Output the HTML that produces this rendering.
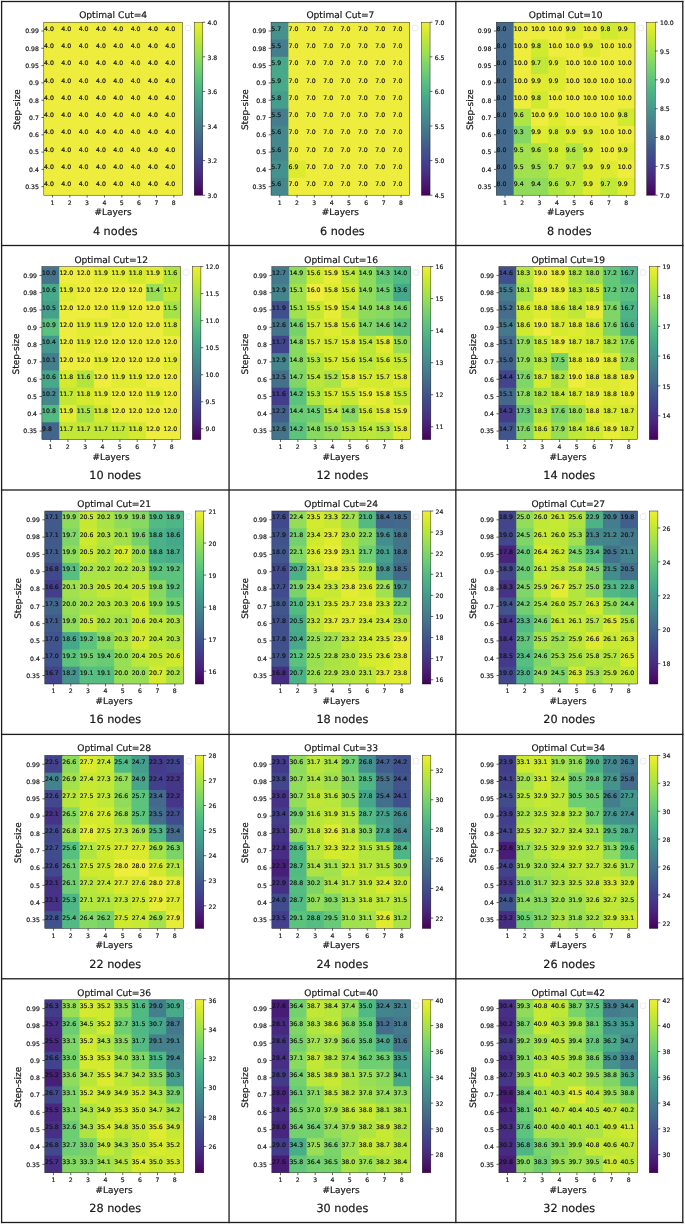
<!DOCTYPE html>
<html><head><meta charset="utf-8"><title>Optimal cut heatmaps</title>
<style>html,body{margin:0;padding:0;background:#fff}svg{display:block}text{stroke:#151515;stroke-width:.2px}</style>
</head><body>
<svg width="685" height="1225" viewBox="0 0 685 1225" font-family="'DejaVu Sans','Liberation Sans',sans-serif" fill="#1a1a1a" text-rendering="geometricPrecision">
<rect width="685" height="1225" fill="#fff"/>
<defs>
<linearGradient id="vg" x1="0" y1="0" x2="0" y2="1"><stop offset="0.0000" stop-color="#eeec3c"/><stop offset="0.0312" stop-color="#e1ec32"/><stop offset="0.0625" stop-color="#d3ea2e"/><stop offset="0.0938" stop-color="#c4e833"/><stop offset="0.1250" stop-color="#b5e63d"/><stop offset="0.1562" stop-color="#a6e349"/><stop offset="0.1875" stop-color="#98df55"/><stop offset="0.2188" stop-color="#89da60"/><stop offset="0.2500" stop-color="#7cd469"/><stop offset="0.2812" stop-color="#6fcf72"/><stop offset="0.3125" stop-color="#64c879"/><stop offset="0.3438" stop-color="#5ac17f"/><stop offset="0.3750" stop-color="#51ba83"/><stop offset="0.4062" stop-color="#4bb287"/><stop offset="0.4375" stop-color="#47aa8a"/><stop offset="0.4688" stop-color="#45a18c"/><stop offset="0.5000" stop-color="#44998d"/><stop offset="0.5312" stop-color="#44908d"/><stop offset="0.5625" stop-color="#44888d"/><stop offset="0.5938" stop-color="#447f8d"/><stop offset="0.6250" stop-color="#44768c"/><stop offset="0.6562" stop-color="#446e8c"/><stop offset="0.6875" stop-color="#42658c"/><stop offset="0.7188" stop-color="#415b8c"/><stop offset="0.7500" stop-color="#40528d"/><stop offset="0.7812" stop-color="#41498d"/><stop offset="0.8125" stop-color="#42408c"/><stop offset="0.8438" stop-color="#453689"/><stop offset="0.8750" stop-color="#472d83"/><stop offset="0.9062" stop-color="#48237b"/><stop offset="0.9375" stop-color="#481872"/><stop offset="0.9688" stop-color="#470d67"/><stop offset="1.0000" stop-color="#44015a"/></linearGradient>
</defs>
<g>
<rect x="43.80" y="22.20" width="138.70" height="18.30" fill="#eeec3c"/>
<rect x="43.80" y="39.50" width="138.70" height="18.30" fill="#eeec3c"/>
<rect x="43.80" y="56.80" width="138.70" height="18.30" fill="#eeec3c"/>
<rect x="43.80" y="74.10" width="138.70" height="18.30" fill="#eeec3c"/>
<rect x="43.80" y="91.40" width="138.70" height="18.30" fill="#eeec3c"/>
<rect x="43.80" y="108.70" width="138.70" height="18.30" fill="#eeec3c"/>
<rect x="43.80" y="126.00" width="138.70" height="18.30" fill="#eeec3c"/>
<rect x="43.80" y="143.30" width="138.70" height="18.30" fill="#eeec3c"/>
<rect x="43.80" y="160.60" width="138.70" height="18.30" fill="#eeec3c"/>
<rect x="43.80" y="177.90" width="138.70" height="17.30" fill="#eeec3c"/>
<rect x="43.80" y="22.20" width="138.70" height="173.00" fill="none" stroke="#111" stroke-width="0.45"/>
<g font-size="6.2" fill="#111">
<text x="44.00" y="30.65">4.0</text>
<text x="61.34" y="30.65">4.0</text>
<text x="78.67" y="30.65">4.0</text>
<text x="96.01" y="30.65">4.0</text>
<text x="113.35" y="30.65">4.0</text>
<text x="130.69" y="30.65">4.0</text>
<text x="148.02" y="30.65">4.0</text>
<text x="165.36" y="30.65">4.0</text>
<text x="44.00" y="47.95">4.0</text>
<text x="61.34" y="47.95">4.0</text>
<text x="78.67" y="47.95">4.0</text>
<text x="96.01" y="47.95">4.0</text>
<text x="113.35" y="47.95">4.0</text>
<text x="130.69" y="47.95">4.0</text>
<text x="148.02" y="47.95">4.0</text>
<text x="165.36" y="47.95">4.0</text>
<text x="44.00" y="65.25">4.0</text>
<text x="61.34" y="65.25">4.0</text>
<text x="78.67" y="65.25">4.0</text>
<text x="96.01" y="65.25">4.0</text>
<text x="113.35" y="65.25">4.0</text>
<text x="130.69" y="65.25">4.0</text>
<text x="148.02" y="65.25">4.0</text>
<text x="165.36" y="65.25">4.0</text>
<text x="44.00" y="82.55">4.0</text>
<text x="61.34" y="82.55">4.0</text>
<text x="78.67" y="82.55">4.0</text>
<text x="96.01" y="82.55">4.0</text>
<text x="113.35" y="82.55">4.0</text>
<text x="130.69" y="82.55">4.0</text>
<text x="148.02" y="82.55">4.0</text>
<text x="165.36" y="82.55">4.0</text>
<text x="44.00" y="99.85">4.0</text>
<text x="61.34" y="99.85">4.0</text>
<text x="78.67" y="99.85">4.0</text>
<text x="96.01" y="99.85">4.0</text>
<text x="113.35" y="99.85">4.0</text>
<text x="130.69" y="99.85">4.0</text>
<text x="148.02" y="99.85">4.0</text>
<text x="165.36" y="99.85">4.0</text>
<text x="44.00" y="117.15">4.0</text>
<text x="61.34" y="117.15">4.0</text>
<text x="78.67" y="117.15">4.0</text>
<text x="96.01" y="117.15">4.0</text>
<text x="113.35" y="117.15">4.0</text>
<text x="130.69" y="117.15">4.0</text>
<text x="148.02" y="117.15">4.0</text>
<text x="165.36" y="117.15">4.0</text>
<text x="44.00" y="134.45">4.0</text>
<text x="61.34" y="134.45">4.0</text>
<text x="78.67" y="134.45">4.0</text>
<text x="96.01" y="134.45">4.0</text>
<text x="113.35" y="134.45">4.0</text>
<text x="130.69" y="134.45">4.0</text>
<text x="148.02" y="134.45">4.0</text>
<text x="165.36" y="134.45">4.0</text>
<text x="44.00" y="151.75">4.0</text>
<text x="61.34" y="151.75">4.0</text>
<text x="78.67" y="151.75">4.0</text>
<text x="96.01" y="151.75">4.0</text>
<text x="113.35" y="151.75">4.0</text>
<text x="130.69" y="151.75">4.0</text>
<text x="148.02" y="151.75">4.0</text>
<text x="165.36" y="151.75">4.0</text>
<text x="44.00" y="169.05">4.0</text>
<text x="61.34" y="169.05">4.0</text>
<text x="78.67" y="169.05">4.0</text>
<text x="96.01" y="169.05">4.0</text>
<text x="113.35" y="169.05">4.0</text>
<text x="130.69" y="169.05">4.0</text>
<text x="148.02" y="169.05">4.0</text>
<text x="165.36" y="169.05">4.0</text>
<text x="44.00" y="186.35">4.0</text>
<text x="61.34" y="186.35">4.0</text>
<text x="78.67" y="186.35">4.0</text>
<text x="96.01" y="186.35">4.0</text>
<text x="113.35" y="186.35">4.0</text>
<text x="130.69" y="186.35">4.0</text>
<text x="148.02" y="186.35">4.0</text>
<text x="165.36" y="186.35">4.0</text>
</g>
<g font-size="6.15" text-anchor="end">
<line x1="41.40" x2="43.80" y1="31.00" y2="31.00" stroke="#000" stroke-width="0.6"/>
<text x="38.90" y="33.30">0.99</text>
<line x1="41.40" x2="43.80" y1="48.30" y2="48.30" stroke="#000" stroke-width="0.6"/>
<text x="38.90" y="50.60">0.98</text>
<line x1="41.40" x2="43.80" y1="65.60" y2="65.60" stroke="#000" stroke-width="0.6"/>
<text x="38.90" y="67.90">0.95</text>
<line x1="41.40" x2="43.80" y1="82.90" y2="82.90" stroke="#000" stroke-width="0.6"/>
<text x="38.90" y="85.20">0.9</text>
<line x1="41.40" x2="43.80" y1="100.20" y2="100.20" stroke="#000" stroke-width="0.6"/>
<text x="38.90" y="102.50">0.8</text>
<line x1="41.40" x2="43.80" y1="117.50" y2="117.50" stroke="#000" stroke-width="0.6"/>
<text x="38.90" y="119.80">0.7</text>
<line x1="41.40" x2="43.80" y1="134.80" y2="134.80" stroke="#000" stroke-width="0.6"/>
<text x="38.90" y="137.10">0.6</text>
<line x1="41.40" x2="43.80" y1="152.10" y2="152.10" stroke="#000" stroke-width="0.6"/>
<text x="38.90" y="154.40">0.5</text>
<line x1="41.40" x2="43.80" y1="169.40" y2="169.40" stroke="#000" stroke-width="0.6"/>
<text x="38.90" y="171.70">0.4</text>
<line x1="41.40" x2="43.80" y1="186.70" y2="186.70" stroke="#000" stroke-width="0.6"/>
<text x="38.90" y="189.00">0.35</text>
</g>
<g font-size="6.15" text-anchor="middle">
<line x1="52.47" x2="52.47" y1="195.20" y2="197.60" stroke="#000" stroke-width="0.6"/>
<text x="52.37" y="204.60">1</text>
<line x1="69.81" x2="69.81" y1="195.20" y2="197.60" stroke="#000" stroke-width="0.6"/>
<text x="69.71" y="204.60">2</text>
<line x1="87.14" x2="87.14" y1="195.20" y2="197.60" stroke="#000" stroke-width="0.6"/>
<text x="87.04" y="204.60">3</text>
<line x1="104.48" x2="104.48" y1="195.20" y2="197.60" stroke="#000" stroke-width="0.6"/>
<text x="104.38" y="204.60">4</text>
<line x1="121.82" x2="121.82" y1="195.20" y2="197.60" stroke="#000" stroke-width="0.6"/>
<text x="121.72" y="204.60">5</text>
<line x1="139.16" x2="139.16" y1="195.20" y2="197.60" stroke="#000" stroke-width="0.6"/>
<text x="139.06" y="204.60">6</text>
<line x1="156.49" x2="156.49" y1="195.20" y2="197.60" stroke="#000" stroke-width="0.6"/>
<text x="156.39" y="204.60">7</text>
<line x1="173.83" x2="173.83" y1="195.20" y2="197.60" stroke="#000" stroke-width="0.6"/>
<text x="173.73" y="204.60">8</text>
</g>
<text x="113.15" y="18.10" font-size="9.1" text-anchor="middle">Optimal Cut=4</text>
<text x="113.05" y="215.20" font-size="8.95" text-anchor="middle">#Layers</text>
<text transform="translate(20.40,109.60) rotate(-90)" font-size="8.95" text-anchor="middle">Step-size</text>
<rect x="185.20" y="25.20" width="5.6" height="5.6" rx="1.7" fill="#fff" stroke="#d4d4d4" stroke-width="0.5"/>
<rect x="194.20" y="22.20" width="8.60" height="173.00" fill="url(#vg)" stroke="#111" stroke-width="0.45"/>
<g font-size="6.15">
<line x1="202.80" x2="205.20" y1="195.20" y2="195.20" stroke="#000" stroke-width="0.6"/>
<text x="207.50" y="197.90">3.0</text>
<line x1="202.80" x2="205.20" y1="160.60" y2="160.60" stroke="#000" stroke-width="0.6"/>
<text x="207.50" y="163.30">3.2</text>
<line x1="202.80" x2="205.20" y1="126.00" y2="126.00" stroke="#000" stroke-width="0.6"/>
<text x="207.50" y="128.70">3.4</text>
<line x1="202.80" x2="205.20" y1="91.40" y2="91.40" stroke="#000" stroke-width="0.6"/>
<text x="207.50" y="94.10">3.6</text>
<line x1="202.80" x2="205.20" y1="56.80" y2="56.80" stroke="#000" stroke-width="0.6"/>
<text x="207.50" y="59.50">3.8</text>
<line x1="202.80" x2="205.20" y1="22.20" y2="22.20" stroke="#000" stroke-width="0.6"/>
<text x="207.50" y="24.90">4.0</text>
</g>
<text x="115.23" y="234.90" font-size="11.25" text-anchor="middle">4 nodes</text>
</g>
<g>
<rect x="271.05" y="22.20" width="18.34" height="18.30" fill="#44928d"/>
<rect x="288.39" y="22.20" width="121.36" height="18.30" fill="#eeec3c"/>
<rect x="271.05" y="39.50" width="18.34" height="18.30" fill="#447d8d"/>
<rect x="288.39" y="39.50" width="121.36" height="18.30" fill="#eeec3c"/>
<rect x="271.05" y="56.80" width="18.34" height="18.30" fill="#47a98a"/>
<rect x="288.39" y="56.80" width="121.36" height="18.30" fill="#eeec3c"/>
<rect x="271.05" y="74.10" width="18.34" height="18.30" fill="#47a98a"/>
<rect x="288.39" y="74.10" width="121.36" height="18.30" fill="#eeec3c"/>
<rect x="271.05" y="91.40" width="18.34" height="18.30" fill="#459e8c"/>
<rect x="288.39" y="91.40" width="121.36" height="18.30" fill="#eeec3c"/>
<rect x="271.05" y="108.70" width="18.34" height="18.30" fill="#447d8d"/>
<rect x="288.39" y="108.70" width="121.36" height="18.30" fill="#eeec3c"/>
<rect x="271.05" y="126.00" width="18.34" height="18.30" fill="#44888d"/>
<rect x="288.39" y="126.00" width="121.36" height="18.30" fill="#eeec3c"/>
<rect x="271.05" y="143.30" width="18.34" height="18.30" fill="#44888d"/>
<rect x="288.39" y="143.30" width="121.36" height="18.30" fill="#eeec3c"/>
<rect x="271.05" y="160.60" width="18.34" height="18.30" fill="#44928d"/>
<rect x="288.39" y="160.60" width="18.34" height="18.30" fill="#dceb2f"/>
<rect x="305.73" y="160.60" width="104.02" height="18.30" fill="#eeec3c"/>
<rect x="271.05" y="177.90" width="18.34" height="17.30" fill="#44888d"/>
<rect x="288.39" y="177.90" width="121.36" height="17.30" fill="#eeec3c"/>
<rect x="271.05" y="22.20" width="138.70" height="173.00" fill="none" stroke="#111" stroke-width="0.45"/>
<g font-size="6.2" fill="#111">
<text x="271.25" y="30.65">5.7</text>
<text x="288.59" y="30.65">7.0</text>
<text x="305.93" y="30.65">7.0</text>
<text x="323.26" y="30.65">7.0</text>
<text x="340.60" y="30.65">7.0</text>
<text x="357.94" y="30.65">7.0</text>
<text x="375.27" y="30.65">7.0</text>
<text x="392.61" y="30.65">7.0</text>
<text x="271.25" y="47.95">5.5</text>
<text x="288.59" y="47.95">7.0</text>
<text x="305.93" y="47.95">7.0</text>
<text x="323.26" y="47.95">7.0</text>
<text x="340.60" y="47.95">7.0</text>
<text x="357.94" y="47.95">7.0</text>
<text x="375.27" y="47.95">7.0</text>
<text x="392.61" y="47.95">7.0</text>
<text x="271.25" y="65.25">5.9</text>
<text x="288.59" y="65.25">7.0</text>
<text x="305.93" y="65.25">7.0</text>
<text x="323.26" y="65.25">7.0</text>
<text x="340.60" y="65.25">7.0</text>
<text x="357.94" y="65.25">7.0</text>
<text x="375.27" y="65.25">7.0</text>
<text x="392.61" y="65.25">7.0</text>
<text x="271.25" y="82.55">5.9</text>
<text x="288.59" y="82.55">7.0</text>
<text x="305.93" y="82.55">7.0</text>
<text x="323.26" y="82.55">7.0</text>
<text x="340.60" y="82.55">7.0</text>
<text x="357.94" y="82.55">7.0</text>
<text x="375.27" y="82.55">7.0</text>
<text x="392.61" y="82.55">7.0</text>
<text x="271.25" y="99.85">5.8</text>
<text x="288.59" y="99.85">7.0</text>
<text x="305.93" y="99.85">7.0</text>
<text x="323.26" y="99.85">7.0</text>
<text x="340.60" y="99.85">7.0</text>
<text x="357.94" y="99.85">7.0</text>
<text x="375.27" y="99.85">7.0</text>
<text x="392.61" y="99.85">7.0</text>
<text x="271.25" y="117.15">5.5</text>
<text x="288.59" y="117.15">7.0</text>
<text x="305.93" y="117.15">7.0</text>
<text x="323.26" y="117.15">7.0</text>
<text x="340.60" y="117.15">7.0</text>
<text x="357.94" y="117.15">7.0</text>
<text x="375.27" y="117.15">7.0</text>
<text x="392.61" y="117.15">7.0</text>
<text x="271.25" y="134.45">5.6</text>
<text x="288.59" y="134.45">7.0</text>
<text x="305.93" y="134.45">7.0</text>
<text x="323.26" y="134.45">7.0</text>
<text x="340.60" y="134.45">7.0</text>
<text x="357.94" y="134.45">7.0</text>
<text x="375.27" y="134.45">7.0</text>
<text x="392.61" y="134.45">7.0</text>
<text x="271.25" y="151.75">5.6</text>
<text x="288.59" y="151.75">7.0</text>
<text x="305.93" y="151.75">7.0</text>
<text x="323.26" y="151.75">7.0</text>
<text x="340.60" y="151.75">7.0</text>
<text x="357.94" y="151.75">7.0</text>
<text x="375.27" y="151.75">7.0</text>
<text x="392.61" y="151.75">7.0</text>
<text x="271.25" y="169.05">5.7</text>
<text x="288.59" y="169.05">6.9</text>
<text x="305.93" y="169.05">7.0</text>
<text x="323.26" y="169.05">7.0</text>
<text x="340.60" y="169.05">7.0</text>
<text x="357.94" y="169.05">7.0</text>
<text x="375.27" y="169.05">7.0</text>
<text x="392.61" y="169.05">7.0</text>
<text x="271.25" y="186.35">5.6</text>
<text x="288.59" y="186.35">7.0</text>
<text x="305.93" y="186.35">7.0</text>
<text x="323.26" y="186.35">7.0</text>
<text x="340.60" y="186.35">7.0</text>
<text x="357.94" y="186.35">7.0</text>
<text x="375.27" y="186.35">7.0</text>
<text x="392.61" y="186.35">7.0</text>
</g>
<g font-size="6.15" text-anchor="end">
<line x1="268.65" x2="271.05" y1="31.00" y2="31.00" stroke="#000" stroke-width="0.6"/>
<text x="266.15" y="33.30">0.99</text>
<line x1="268.65" x2="271.05" y1="48.30" y2="48.30" stroke="#000" stroke-width="0.6"/>
<text x="266.15" y="50.60">0.98</text>
<line x1="268.65" x2="271.05" y1="65.60" y2="65.60" stroke="#000" stroke-width="0.6"/>
<text x="266.15" y="67.90">0.95</text>
<line x1="268.65" x2="271.05" y1="82.90" y2="82.90" stroke="#000" stroke-width="0.6"/>
<text x="266.15" y="85.20">0.9</text>
<line x1="268.65" x2="271.05" y1="100.20" y2="100.20" stroke="#000" stroke-width="0.6"/>
<text x="266.15" y="102.50">0.8</text>
<line x1="268.65" x2="271.05" y1="117.50" y2="117.50" stroke="#000" stroke-width="0.6"/>
<text x="266.15" y="119.80">0.7</text>
<line x1="268.65" x2="271.05" y1="134.80" y2="134.80" stroke="#000" stroke-width="0.6"/>
<text x="266.15" y="137.10">0.6</text>
<line x1="268.65" x2="271.05" y1="152.10" y2="152.10" stroke="#000" stroke-width="0.6"/>
<text x="266.15" y="154.40">0.5</text>
<line x1="268.65" x2="271.05" y1="169.40" y2="169.40" stroke="#000" stroke-width="0.6"/>
<text x="266.15" y="171.70">0.4</text>
<line x1="268.65" x2="271.05" y1="186.70" y2="186.70" stroke="#000" stroke-width="0.6"/>
<text x="266.15" y="189.00">0.35</text>
</g>
<g font-size="6.15" text-anchor="middle">
<line x1="279.72" x2="279.72" y1="195.20" y2="197.60" stroke="#000" stroke-width="0.6"/>
<text x="279.62" y="204.60">1</text>
<line x1="297.06" x2="297.06" y1="195.20" y2="197.60" stroke="#000" stroke-width="0.6"/>
<text x="296.96" y="204.60">2</text>
<line x1="314.39" x2="314.39" y1="195.20" y2="197.60" stroke="#000" stroke-width="0.6"/>
<text x="314.29" y="204.60">3</text>
<line x1="331.73" x2="331.73" y1="195.20" y2="197.60" stroke="#000" stroke-width="0.6"/>
<text x="331.63" y="204.60">4</text>
<line x1="349.07" x2="349.07" y1="195.20" y2="197.60" stroke="#000" stroke-width="0.6"/>
<text x="348.97" y="204.60">5</text>
<line x1="366.41" x2="366.41" y1="195.20" y2="197.60" stroke="#000" stroke-width="0.6"/>
<text x="366.31" y="204.60">6</text>
<line x1="383.74" x2="383.74" y1="195.20" y2="197.60" stroke="#000" stroke-width="0.6"/>
<text x="383.64" y="204.60">7</text>
<line x1="401.08" x2="401.08" y1="195.20" y2="197.60" stroke="#000" stroke-width="0.6"/>
<text x="400.98" y="204.60">8</text>
</g>
<text x="340.40" y="18.10" font-size="9.1" text-anchor="middle">Optimal Cut=7</text>
<text x="340.30" y="215.20" font-size="8.95" text-anchor="middle">#Layers</text>
<text transform="translate(247.65,109.60) rotate(-90)" font-size="8.95" text-anchor="middle">Step-size</text>
<rect x="412.45" y="25.20" width="5.6" height="5.6" rx="1.7" fill="#fff" stroke="#d4d4d4" stroke-width="0.5"/>
<rect x="421.45" y="22.20" width="8.60" height="173.00" fill="url(#vg)" stroke="#111" stroke-width="0.45"/>
<g font-size="6.15">
<line x1="430.05" x2="432.45" y1="195.20" y2="195.20" stroke="#000" stroke-width="0.6"/>
<text x="434.75" y="197.90">4.5</text>
<line x1="430.05" x2="432.45" y1="160.60" y2="160.60" stroke="#000" stroke-width="0.6"/>
<text x="434.75" y="163.30">5.0</text>
<line x1="430.05" x2="432.45" y1="126.00" y2="126.00" stroke="#000" stroke-width="0.6"/>
<text x="434.75" y="128.70">5.5</text>
<line x1="430.05" x2="432.45" y1="91.40" y2="91.40" stroke="#000" stroke-width="0.6"/>
<text x="434.75" y="94.10">6.0</text>
<line x1="430.05" x2="432.45" y1="56.80" y2="56.80" stroke="#000" stroke-width="0.6"/>
<text x="434.75" y="59.50">6.5</text>
<line x1="430.05" x2="432.45" y1="22.20" y2="22.20" stroke="#000" stroke-width="0.6"/>
<text x="434.75" y="24.90">7.0</text>
</g>
<text x="342.35" y="234.90" font-size="11.25" text-anchor="middle">6 nodes</text>
</g>
<g>
<rect x="496.30" y="22.20" width="18.34" height="18.30" fill="#436a8c"/>
<rect x="513.64" y="22.20" width="53.01" height="18.30" fill="#eeec3c"/>
<rect x="565.65" y="22.20" width="18.34" height="18.30" fill="#dfeb31"/>
<rect x="582.99" y="22.20" width="18.34" height="18.30" fill="#eeec3c"/>
<rect x="600.33" y="22.20" width="18.34" height="18.30" fill="#cfea2f"/>
<rect x="617.66" y="22.20" width="17.34" height="18.30" fill="#dfeb31"/>
<rect x="496.30" y="39.50" width="18.34" height="18.30" fill="#436a8c"/>
<rect x="513.64" y="39.50" width="18.34" height="18.30" fill="#eeec3c"/>
<rect x="530.98" y="39.50" width="18.34" height="18.30" fill="#cfea2f"/>
<rect x="548.31" y="39.50" width="35.67" height="18.30" fill="#eeec3c"/>
<rect x="582.99" y="39.50" width="18.34" height="18.30" fill="#dfeb31"/>
<rect x="600.33" y="39.50" width="34.67" height="18.30" fill="#eeec3c"/>
<rect x="496.30" y="56.80" width="18.34" height="18.30" fill="#436a8c"/>
<rect x="513.64" y="56.80" width="18.34" height="18.30" fill="#eeec3c"/>
<rect x="530.98" y="56.80" width="18.34" height="18.30" fill="#c0e836"/>
<rect x="548.31" y="56.80" width="18.34" height="18.30" fill="#dfeb31"/>
<rect x="565.65" y="56.80" width="69.35" height="18.30" fill="#eeec3c"/>
<rect x="496.30" y="74.10" width="18.34" height="18.30" fill="#436a8c"/>
<rect x="513.64" y="74.10" width="18.34" height="18.30" fill="#eeec3c"/>
<rect x="530.98" y="74.10" width="35.67" height="18.30" fill="#dfeb31"/>
<rect x="565.65" y="74.10" width="69.35" height="18.30" fill="#eeec3c"/>
<rect x="496.30" y="91.40" width="18.34" height="18.30" fill="#436a8c"/>
<rect x="513.64" y="91.40" width="18.34" height="18.30" fill="#eeec3c"/>
<rect x="530.98" y="91.40" width="18.34" height="18.30" fill="#cfea2f"/>
<rect x="548.31" y="91.40" width="86.69" height="18.30" fill="#eeec3c"/>
<rect x="496.30" y="108.70" width="18.34" height="18.30" fill="#436a8c"/>
<rect x="513.64" y="108.70" width="18.34" height="18.30" fill="#afe542"/>
<rect x="530.98" y="108.70" width="18.34" height="18.30" fill="#eeec3c"/>
<rect x="548.31" y="108.70" width="18.34" height="18.30" fill="#dfeb31"/>
<rect x="565.65" y="108.70" width="53.01" height="18.30" fill="#eeec3c"/>
<rect x="617.66" y="108.70" width="17.34" height="18.30" fill="#cfea2f"/>
<rect x="496.30" y="126.00" width="18.34" height="18.30" fill="#436a8c"/>
<rect x="513.64" y="126.00" width="18.34" height="18.30" fill="#83d765"/>
<rect x="530.98" y="126.00" width="18.34" height="18.30" fill="#dfeb31"/>
<rect x="548.31" y="126.00" width="18.34" height="18.30" fill="#cfea2f"/>
<rect x="565.65" y="126.00" width="35.68" height="18.30" fill="#dfeb31"/>
<rect x="600.33" y="126.00" width="34.67" height="18.30" fill="#eeec3c"/>
<rect x="496.30" y="143.30" width="18.34" height="18.30" fill="#436a8c"/>
<rect x="513.64" y="143.30" width="18.34" height="18.30" fill="#a1e14e"/>
<rect x="530.98" y="143.30" width="18.34" height="18.30" fill="#afe542"/>
<rect x="548.31" y="143.30" width="18.34" height="18.30" fill="#cfea2f"/>
<rect x="565.65" y="143.30" width="18.34" height="18.30" fill="#afe542"/>
<rect x="582.99" y="143.30" width="18.34" height="18.30" fill="#dfeb31"/>
<rect x="600.33" y="143.30" width="18.34" height="18.30" fill="#eeec3c"/>
<rect x="617.66" y="143.30" width="17.34" height="18.30" fill="#dfeb31"/>
<rect x="496.30" y="160.60" width="18.34" height="18.30" fill="#436a8c"/>
<rect x="513.64" y="160.60" width="35.67" height="18.30" fill="#a1e14e"/>
<rect x="548.31" y="160.60" width="35.67" height="18.30" fill="#c0e836"/>
<rect x="582.99" y="160.60" width="35.68" height="18.30" fill="#dfeb31"/>
<rect x="617.66" y="160.60" width="17.34" height="18.30" fill="#eeec3c"/>
<rect x="496.30" y="177.90" width="18.34" height="17.30" fill="#436a8c"/>
<rect x="513.64" y="177.90" width="35.67" height="17.30" fill="#90dc5a"/>
<rect x="548.31" y="177.90" width="18.34" height="17.30" fill="#afe542"/>
<rect x="565.65" y="177.90" width="18.34" height="17.30" fill="#c0e836"/>
<rect x="582.99" y="177.90" width="18.34" height="17.30" fill="#dfeb31"/>
<rect x="600.33" y="177.90" width="18.34" height="17.30" fill="#c0e836"/>
<rect x="617.66" y="177.90" width="17.34" height="17.30" fill="#dfeb31"/>
<rect x="496.30" y="22.20" width="138.70" height="173.00" fill="none" stroke="#111" stroke-width="0.45"/>
<g font-size="6.2" fill="#111">
<text x="496.50" y="30.65">8.0</text>
<text x="513.84" y="30.65">10.0</text>
<text x="531.18" y="30.65">10.0</text>
<text x="548.51" y="30.65">10.0</text>
<text x="565.85" y="30.65">9.9</text>
<text x="583.19" y="30.65">10.0</text>
<text x="600.53" y="30.65">9.8</text>
<text x="617.86" y="30.65">9.9</text>
<text x="496.50" y="47.95">8.0</text>
<text x="513.84" y="47.95">10.0</text>
<text x="531.18" y="47.95">9.8</text>
<text x="548.51" y="47.95">10.0</text>
<text x="565.85" y="47.95">10.0</text>
<text x="583.19" y="47.95">9.9</text>
<text x="600.53" y="47.95">10.0</text>
<text x="617.86" y="47.95">10.0</text>
<text x="496.50" y="65.25">8.0</text>
<text x="513.84" y="65.25">10.0</text>
<text x="531.18" y="65.25">9.7</text>
<text x="548.51" y="65.25">9.9</text>
<text x="565.85" y="65.25">10.0</text>
<text x="583.19" y="65.25">10.0</text>
<text x="600.53" y="65.25">10.0</text>
<text x="617.86" y="65.25">10.0</text>
<text x="496.50" y="82.55">8.0</text>
<text x="513.84" y="82.55">10.0</text>
<text x="531.18" y="82.55">9.9</text>
<text x="548.51" y="82.55">9.9</text>
<text x="565.85" y="82.55">10.0</text>
<text x="583.19" y="82.55">10.0</text>
<text x="600.53" y="82.55">10.0</text>
<text x="617.86" y="82.55">10.0</text>
<text x="496.50" y="99.85">8.0</text>
<text x="513.84" y="99.85">10.0</text>
<text x="531.18" y="99.85">9.8</text>
<text x="548.51" y="99.85">10.0</text>
<text x="565.85" y="99.85">10.0</text>
<text x="583.19" y="99.85">10.0</text>
<text x="600.53" y="99.85">10.0</text>
<text x="617.86" y="99.85">10.0</text>
<text x="496.50" y="117.15">8.0</text>
<text x="513.84" y="117.15">9.6</text>
<text x="531.18" y="117.15">10.0</text>
<text x="548.51" y="117.15">9.9</text>
<text x="565.85" y="117.15">10.0</text>
<text x="583.19" y="117.15">10.0</text>
<text x="600.53" y="117.15">10.0</text>
<text x="617.86" y="117.15">9.8</text>
<text x="496.50" y="134.45">8.0</text>
<text x="513.84" y="134.45">9.3</text>
<text x="531.18" y="134.45">9.9</text>
<text x="548.51" y="134.45">9.8</text>
<text x="565.85" y="134.45">9.9</text>
<text x="583.19" y="134.45">9.9</text>
<text x="600.53" y="134.45">10.0</text>
<text x="617.86" y="134.45">10.0</text>
<text x="496.50" y="151.75">8.0</text>
<text x="513.84" y="151.75">9.5</text>
<text x="531.18" y="151.75">9.6</text>
<text x="548.51" y="151.75">9.8</text>
<text x="565.85" y="151.75">9.6</text>
<text x="583.19" y="151.75">9.9</text>
<text x="600.53" y="151.75">10.0</text>
<text x="617.86" y="151.75">9.9</text>
<text x="496.50" y="169.05">8.0</text>
<text x="513.84" y="169.05">9.5</text>
<text x="531.18" y="169.05">9.5</text>
<text x="548.51" y="169.05">9.7</text>
<text x="565.85" y="169.05">9.7</text>
<text x="583.19" y="169.05">9.9</text>
<text x="600.53" y="169.05">9.9</text>
<text x="617.86" y="169.05">10.0</text>
<text x="496.50" y="186.35">8.0</text>
<text x="513.84" y="186.35">9.4</text>
<text x="531.18" y="186.35">9.4</text>
<text x="548.51" y="186.35">9.6</text>
<text x="565.85" y="186.35">9.7</text>
<text x="583.19" y="186.35">9.9</text>
<text x="600.53" y="186.35">9.7</text>
<text x="617.86" y="186.35">9.9</text>
</g>
<g font-size="6.15" text-anchor="end">
<line x1="493.90" x2="496.30" y1="31.00" y2="31.00" stroke="#000" stroke-width="0.6"/>
<text x="491.40" y="33.30">0.99</text>
<line x1="493.90" x2="496.30" y1="48.30" y2="48.30" stroke="#000" stroke-width="0.6"/>
<text x="491.40" y="50.60">0.98</text>
<line x1="493.90" x2="496.30" y1="65.60" y2="65.60" stroke="#000" stroke-width="0.6"/>
<text x="491.40" y="67.90">0.95</text>
<line x1="493.90" x2="496.30" y1="82.90" y2="82.90" stroke="#000" stroke-width="0.6"/>
<text x="491.40" y="85.20">0.9</text>
<line x1="493.90" x2="496.30" y1="100.20" y2="100.20" stroke="#000" stroke-width="0.6"/>
<text x="491.40" y="102.50">0.8</text>
<line x1="493.90" x2="496.30" y1="117.50" y2="117.50" stroke="#000" stroke-width="0.6"/>
<text x="491.40" y="119.80">0.7</text>
<line x1="493.90" x2="496.30" y1="134.80" y2="134.80" stroke="#000" stroke-width="0.6"/>
<text x="491.40" y="137.10">0.6</text>
<line x1="493.90" x2="496.30" y1="152.10" y2="152.10" stroke="#000" stroke-width="0.6"/>
<text x="491.40" y="154.40">0.5</text>
<line x1="493.90" x2="496.30" y1="169.40" y2="169.40" stroke="#000" stroke-width="0.6"/>
<text x="491.40" y="171.70">0.4</text>
<line x1="493.90" x2="496.30" y1="186.70" y2="186.70" stroke="#000" stroke-width="0.6"/>
<text x="491.40" y="189.00">0.35</text>
</g>
<g font-size="6.15" text-anchor="middle">
<line x1="504.97" x2="504.97" y1="195.20" y2="197.60" stroke="#000" stroke-width="0.6"/>
<text x="504.87" y="204.60">1</text>
<line x1="522.31" x2="522.31" y1="195.20" y2="197.60" stroke="#000" stroke-width="0.6"/>
<text x="522.21" y="204.60">2</text>
<line x1="539.64" x2="539.64" y1="195.20" y2="197.60" stroke="#000" stroke-width="0.6"/>
<text x="539.54" y="204.60">3</text>
<line x1="556.98" x2="556.98" y1="195.20" y2="197.60" stroke="#000" stroke-width="0.6"/>
<text x="556.88" y="204.60">4</text>
<line x1="574.32" x2="574.32" y1="195.20" y2="197.60" stroke="#000" stroke-width="0.6"/>
<text x="574.22" y="204.60">5</text>
<line x1="591.66" x2="591.66" y1="195.20" y2="197.60" stroke="#000" stroke-width="0.6"/>
<text x="591.56" y="204.60">6</text>
<line x1="608.99" x2="608.99" y1="195.20" y2="197.60" stroke="#000" stroke-width="0.6"/>
<text x="608.89" y="204.60">7</text>
<line x1="626.33" x2="626.33" y1="195.20" y2="197.60" stroke="#000" stroke-width="0.6"/>
<text x="626.23" y="204.60">8</text>
</g>
<text x="565.65" y="18.10" font-size="9.1" text-anchor="middle">Optimal Cut=10</text>
<text x="565.55" y="215.20" font-size="8.95" text-anchor="middle">#Layers</text>
<text transform="translate(472.90,109.60) rotate(-90)" font-size="8.95" text-anchor="middle">Step-size</text>
<rect x="637.70" y="25.20" width="5.6" height="5.6" rx="1.7" fill="#fff" stroke="#d4d4d4" stroke-width="0.5"/>
<rect x="646.70" y="22.20" width="8.60" height="173.00" fill="url(#vg)" stroke="#111" stroke-width="0.45"/>
<g font-size="6.15">
<line x1="655.30" x2="657.70" y1="195.20" y2="195.20" stroke="#000" stroke-width="0.6"/>
<text x="660.00" y="197.90">7.0</text>
<line x1="655.30" x2="657.70" y1="166.37" y2="166.37" stroke="#000" stroke-width="0.6"/>
<text x="660.00" y="169.07">7.5</text>
<line x1="655.30" x2="657.70" y1="137.53" y2="137.53" stroke="#000" stroke-width="0.6"/>
<text x="660.00" y="140.23">8.0</text>
<line x1="655.30" x2="657.70" y1="108.70" y2="108.70" stroke="#000" stroke-width="0.6"/>
<text x="660.00" y="111.40">8.5</text>
<line x1="655.30" x2="657.70" y1="79.87" y2="79.87" stroke="#000" stroke-width="0.6"/>
<text x="660.00" y="82.57">9.0</text>
<line x1="655.30" x2="657.70" y1="51.03" y2="51.03" stroke="#000" stroke-width="0.6"/>
<text x="660.00" y="53.73">9.5</text>
<line x1="655.30" x2="657.70" y1="22.20" y2="22.20" stroke="#000" stroke-width="0.6"/>
<text x="660.00" y="24.90">10.0</text>
</g>
<text x="569.23" y="234.90" font-size="11.25" text-anchor="middle">8 nodes</text>
</g>
<g>
<rect x="41.90" y="266.60" width="18.34" height="18.30" fill="#44758c"/>
<rect x="59.24" y="266.60" width="35.67" height="18.30" fill="#eeec3c"/>
<rect x="93.91" y="266.60" width="35.68" height="18.30" fill="#e1ec32"/>
<rect x="128.59" y="266.60" width="18.34" height="18.30" fill="#d3ea2e"/>
<rect x="145.93" y="266.60" width="18.34" height="18.30" fill="#e1ec32"/>
<rect x="163.26" y="266.60" width="17.34" height="18.30" fill="#b3e53f"/>
<rect x="41.90" y="283.90" width="18.34" height="18.30" fill="#47a98a"/>
<rect x="59.24" y="283.90" width="18.34" height="18.30" fill="#e1ec32"/>
<rect x="76.58" y="283.90" width="70.35" height="18.30" fill="#eeec3c"/>
<rect x="145.93" y="283.90" width="18.34" height="18.30" fill="#98df55"/>
<rect x="163.26" y="283.90" width="17.34" height="18.30" fill="#c2e835"/>
<rect x="41.90" y="301.20" width="18.34" height="18.30" fill="#45a08c"/>
<rect x="59.24" y="301.20" width="53.01" height="18.30" fill="#eeec3c"/>
<rect x="111.25" y="301.20" width="18.34" height="18.30" fill="#e1ec32"/>
<rect x="128.59" y="301.20" width="35.67" height="18.30" fill="#eeec3c"/>
<rect x="163.26" y="301.20" width="17.34" height="18.30" fill="#a6e349"/>
<rect x="41.90" y="318.50" width="18.34" height="18.30" fill="#5ac17f"/>
<rect x="59.24" y="318.50" width="18.34" height="18.30" fill="#eeec3c"/>
<rect x="76.58" y="318.50" width="35.67" height="18.30" fill="#e1ec32"/>
<rect x="111.25" y="318.50" width="53.01" height="18.30" fill="#eeec3c"/>
<rect x="163.26" y="318.50" width="17.34" height="18.30" fill="#d3ea2e"/>
<rect x="41.90" y="335.80" width="18.34" height="18.30" fill="#44998d"/>
<rect x="59.24" y="335.80" width="18.34" height="18.30" fill="#eeec3c"/>
<rect x="76.58" y="335.80" width="18.34" height="18.30" fill="#e1ec32"/>
<rect x="93.91" y="335.80" width="86.69" height="18.30" fill="#eeec3c"/>
<rect x="41.90" y="353.10" width="18.34" height="18.30" fill="#447e8d"/>
<rect x="59.24" y="353.10" width="35.67" height="18.30" fill="#eeec3c"/>
<rect x="93.91" y="353.10" width="18.34" height="18.30" fill="#e1ec32"/>
<rect x="111.25" y="353.10" width="53.01" height="18.30" fill="#eeec3c"/>
<rect x="163.26" y="353.10" width="17.34" height="18.30" fill="#e1ec32"/>
<rect x="41.90" y="370.40" width="18.34" height="18.30" fill="#47a98a"/>
<rect x="59.24" y="370.40" width="18.34" height="18.30" fill="#d3ea2e"/>
<rect x="76.58" y="370.40" width="18.34" height="18.30" fill="#b3e53f"/>
<rect x="93.91" y="370.40" width="18.34" height="18.30" fill="#eeec3c"/>
<rect x="111.25" y="370.40" width="35.68" height="18.30" fill="#e1ec32"/>
<rect x="145.93" y="370.40" width="34.67" height="18.30" fill="#eeec3c"/>
<rect x="41.90" y="387.70" width="18.34" height="18.30" fill="#44878d"/>
<rect x="59.24" y="387.70" width="18.34" height="18.30" fill="#c2e835"/>
<rect x="76.58" y="387.70" width="18.34" height="18.30" fill="#d3ea2e"/>
<rect x="93.91" y="387.70" width="18.34" height="18.30" fill="#e1ec32"/>
<rect x="111.25" y="387.70" width="35.68" height="18.30" fill="#eeec3c"/>
<rect x="145.93" y="387.70" width="18.34" height="18.30" fill="#e1ec32"/>
<rect x="163.26" y="387.70" width="17.34" height="18.30" fill="#eeec3c"/>
<rect x="41.90" y="405.00" width="18.34" height="18.30" fill="#51ba83"/>
<rect x="59.24" y="405.00" width="18.34" height="18.30" fill="#e1ec32"/>
<rect x="76.58" y="405.00" width="18.34" height="18.30" fill="#a6e349"/>
<rect x="93.91" y="405.00" width="18.34" height="18.30" fill="#d3ea2e"/>
<rect x="111.25" y="405.00" width="69.35" height="18.30" fill="#eeec3c"/>
<rect x="41.90" y="422.30" width="18.34" height="17.30" fill="#42658c"/>
<rect x="59.24" y="422.30" width="70.35" height="17.30" fill="#c2e835"/>
<rect x="128.59" y="422.30" width="18.34" height="17.30" fill="#d3ea2e"/>
<rect x="145.93" y="422.30" width="34.67" height="17.30" fill="#eeec3c"/>
<rect x="41.90" y="266.60" width="138.70" height="173.00" fill="none" stroke="#111" stroke-width="0.45"/>
<g font-size="6.2" fill="#111">
<text x="42.10" y="275.05">10.0</text>
<text x="59.44" y="275.05">12.0</text>
<text x="76.78" y="275.05">12.0</text>
<text x="94.11" y="275.05">11.9</text>
<text x="111.45" y="275.05">11.9</text>
<text x="128.79" y="275.05">11.8</text>
<text x="146.12" y="275.05">11.9</text>
<text x="163.46" y="275.05">11.6</text>
<text x="42.10" y="292.35">10.6</text>
<text x="59.44" y="292.35">11.9</text>
<text x="76.78" y="292.35">12.0</text>
<text x="94.11" y="292.35">12.0</text>
<text x="111.45" y="292.35">12.0</text>
<text x="128.79" y="292.35">12.0</text>
<text x="146.12" y="292.35">11.4</text>
<text x="163.46" y="292.35">11.7</text>
<text x="42.10" y="309.65">10.5</text>
<text x="59.44" y="309.65">12.0</text>
<text x="76.78" y="309.65">12.0</text>
<text x="94.11" y="309.65">12.0</text>
<text x="111.45" y="309.65">11.9</text>
<text x="128.79" y="309.65">12.0</text>
<text x="146.12" y="309.65">12.0</text>
<text x="163.46" y="309.65">11.5</text>
<text x="42.10" y="326.95">10.9</text>
<text x="59.44" y="326.95">12.0</text>
<text x="76.78" y="326.95">11.9</text>
<text x="94.11" y="326.95">11.9</text>
<text x="111.45" y="326.95">12.0</text>
<text x="128.79" y="326.95">12.0</text>
<text x="146.12" y="326.95">12.0</text>
<text x="163.46" y="326.95">11.8</text>
<text x="42.10" y="344.25">10.4</text>
<text x="59.44" y="344.25">12.0</text>
<text x="76.78" y="344.25">11.9</text>
<text x="94.11" y="344.25">12.0</text>
<text x="111.45" y="344.25">12.0</text>
<text x="128.79" y="344.25">12.0</text>
<text x="146.12" y="344.25">12.0</text>
<text x="163.46" y="344.25">12.0</text>
<text x="42.10" y="361.55">10.1</text>
<text x="59.44" y="361.55">12.0</text>
<text x="76.78" y="361.55">12.0</text>
<text x="94.11" y="361.55">11.9</text>
<text x="111.45" y="361.55">12.0</text>
<text x="128.79" y="361.55">12.0</text>
<text x="146.12" y="361.55">12.0</text>
<text x="163.46" y="361.55">11.9</text>
<text x="42.10" y="378.85">10.6</text>
<text x="59.44" y="378.85">11.8</text>
<text x="76.78" y="378.85">11.6</text>
<text x="94.11" y="378.85">12.0</text>
<text x="111.45" y="378.85">11.9</text>
<text x="128.79" y="378.85">11.9</text>
<text x="146.12" y="378.85">12.0</text>
<text x="163.46" y="378.85">12.0</text>
<text x="42.10" y="396.15">10.2</text>
<text x="59.44" y="396.15">11.7</text>
<text x="76.78" y="396.15">11.8</text>
<text x="94.11" y="396.15">11.9</text>
<text x="111.45" y="396.15">12.0</text>
<text x="128.79" y="396.15">12.0</text>
<text x="146.12" y="396.15">11.9</text>
<text x="163.46" y="396.15">12.0</text>
<text x="42.10" y="413.45">10.8</text>
<text x="59.44" y="413.45">11.9</text>
<text x="76.78" y="413.45">11.5</text>
<text x="94.11" y="413.45">11.8</text>
<text x="111.45" y="413.45">12.0</text>
<text x="128.79" y="413.45">12.0</text>
<text x="146.12" y="413.45">12.0</text>
<text x="163.46" y="413.45">12.0</text>
<text x="42.10" y="430.75">9.8</text>
<text x="59.44" y="430.75">11.7</text>
<text x="76.78" y="430.75">11.7</text>
<text x="94.11" y="430.75">11.7</text>
<text x="111.45" y="430.75">11.7</text>
<text x="128.79" y="430.75">11.8</text>
<text x="146.12" y="430.75">12.0</text>
<text x="163.46" y="430.75">12.0</text>
</g>
<g font-size="6.15" text-anchor="end">
<line x1="39.50" x2="41.90" y1="275.40" y2="275.40" stroke="#000" stroke-width="0.6"/>
<text x="37.00" y="277.70">0.99</text>
<line x1="39.50" x2="41.90" y1="292.70" y2="292.70" stroke="#000" stroke-width="0.6"/>
<text x="37.00" y="295.00">0.98</text>
<line x1="39.50" x2="41.90" y1="310.00" y2="310.00" stroke="#000" stroke-width="0.6"/>
<text x="37.00" y="312.30">0.95</text>
<line x1="39.50" x2="41.90" y1="327.30" y2="327.30" stroke="#000" stroke-width="0.6"/>
<text x="37.00" y="329.60">0.9</text>
<line x1="39.50" x2="41.90" y1="344.60" y2="344.60" stroke="#000" stroke-width="0.6"/>
<text x="37.00" y="346.90">0.8</text>
<line x1="39.50" x2="41.90" y1="361.90" y2="361.90" stroke="#000" stroke-width="0.6"/>
<text x="37.00" y="364.20">0.7</text>
<line x1="39.50" x2="41.90" y1="379.20" y2="379.20" stroke="#000" stroke-width="0.6"/>
<text x="37.00" y="381.50">0.6</text>
<line x1="39.50" x2="41.90" y1="396.50" y2="396.50" stroke="#000" stroke-width="0.6"/>
<text x="37.00" y="398.80">0.5</text>
<line x1="39.50" x2="41.90" y1="413.80" y2="413.80" stroke="#000" stroke-width="0.6"/>
<text x="37.00" y="416.10">0.4</text>
<line x1="39.50" x2="41.90" y1="431.10" y2="431.10" stroke="#000" stroke-width="0.6"/>
<text x="37.00" y="433.40">0.35</text>
</g>
<g font-size="6.15" text-anchor="middle">
<line x1="50.57" x2="50.57" y1="439.60" y2="442.00" stroke="#000" stroke-width="0.6"/>
<text x="50.47" y="449.00">1</text>
<line x1="67.91" x2="67.91" y1="439.60" y2="442.00" stroke="#000" stroke-width="0.6"/>
<text x="67.81" y="449.00">2</text>
<line x1="85.24" x2="85.24" y1="439.60" y2="442.00" stroke="#000" stroke-width="0.6"/>
<text x="85.14" y="449.00">3</text>
<line x1="102.58" x2="102.58" y1="439.60" y2="442.00" stroke="#000" stroke-width="0.6"/>
<text x="102.48" y="449.00">4</text>
<line x1="119.92" x2="119.92" y1="439.60" y2="442.00" stroke="#000" stroke-width="0.6"/>
<text x="119.82" y="449.00">5</text>
<line x1="137.26" x2="137.26" y1="439.60" y2="442.00" stroke="#000" stroke-width="0.6"/>
<text x="137.16" y="449.00">6</text>
<line x1="154.59" x2="154.59" y1="439.60" y2="442.00" stroke="#000" stroke-width="0.6"/>
<text x="154.49" y="449.00">7</text>
<line x1="171.93" x2="171.93" y1="439.60" y2="442.00" stroke="#000" stroke-width="0.6"/>
<text x="171.83" y="449.00">8</text>
</g>
<text x="111.25" y="262.50" font-size="9.1" text-anchor="middle">Optimal Cut=12</text>
<text x="111.15" y="459.60" font-size="8.95" text-anchor="middle">#Layers</text>
<text transform="translate(18.50,354.00) rotate(-90)" font-size="8.95" text-anchor="middle">Step-size</text>
<rect x="183.30" y="269.60" width="5.6" height="5.6" rx="1.7" fill="#fff" stroke="#d4d4d4" stroke-width="0.5"/>
<rect x="192.30" y="266.60" width="8.60" height="173.00" fill="url(#vg)" stroke="#111" stroke-width="0.45"/>
<g font-size="6.15">
<line x1="200.90" x2="203.30" y1="428.79" y2="428.79" stroke="#000" stroke-width="0.6"/>
<text x="205.60" y="431.49">9.0</text>
<line x1="200.90" x2="203.30" y1="401.76" y2="401.76" stroke="#000" stroke-width="0.6"/>
<text x="205.60" y="404.46">9.5</text>
<line x1="200.90" x2="203.30" y1="374.73" y2="374.73" stroke="#000" stroke-width="0.6"/>
<text x="205.60" y="377.43">10.0</text>
<line x1="200.90" x2="203.30" y1="347.69" y2="347.69" stroke="#000" stroke-width="0.6"/>
<text x="205.60" y="350.39">10.5</text>
<line x1="200.90" x2="203.30" y1="320.66" y2="320.66" stroke="#000" stroke-width="0.6"/>
<text x="205.60" y="323.36">11.0</text>
<line x1="200.90" x2="203.30" y1="293.63" y2="293.63" stroke="#000" stroke-width="0.6"/>
<text x="205.60" y="296.33">11.5</text>
<line x1="200.90" x2="203.30" y1="266.60" y2="266.60" stroke="#000" stroke-width="0.6"/>
<text x="205.60" y="269.30">12.0</text>
</g>
<text x="115.23" y="478.90" font-size="11.25" text-anchor="middle">10 nodes</text>
</g>
<g>
<rect x="271.85" y="266.60" width="18.34" height="18.30" fill="#447a8d"/>
<rect x="289.19" y="266.60" width="18.34" height="18.30" fill="#8fdc5c"/>
<rect x="306.53" y="266.60" width="18.34" height="18.30" fill="#cdea2f"/>
<rect x="323.86" y="266.60" width="18.34" height="18.30" fill="#e7ec36"/>
<rect x="341.20" y="266.60" width="18.34" height="18.30" fill="#bae739"/>
<rect x="358.54" y="266.60" width="18.34" height="18.30" fill="#8fdc5c"/>
<rect x="375.88" y="266.60" width="18.34" height="18.30" fill="#63c779"/>
<rect x="393.21" y="266.60" width="17.34" height="18.30" fill="#52bb83"/>
<rect x="271.85" y="283.90" width="18.34" height="18.30" fill="#44848d"/>
<rect x="289.19" y="283.90" width="18.34" height="18.30" fill="#a1e14e"/>
<rect x="306.53" y="283.90" width="18.34" height="18.30" fill="#eeec3c"/>
<rect x="323.86" y="283.90" width="18.34" height="18.30" fill="#deeb30"/>
<rect x="341.20" y="283.90" width="18.34" height="18.30" fill="#cdea2f"/>
<rect x="358.54" y="283.90" width="18.34" height="18.30" fill="#8fdc5c"/>
<rect x="375.88" y="283.90" width="18.34" height="18.30" fill="#6fcf72"/>
<rect x="393.21" y="283.90" width="17.34" height="18.30" fill="#46a88a"/>
<rect x="271.85" y="301.20" width="18.34" height="18.30" fill="#404f8d"/>
<rect x="289.19" y="301.20" width="18.34" height="18.30" fill="#a1e14e"/>
<rect x="306.53" y="301.20" width="18.34" height="18.30" fill="#c4e834"/>
<rect x="323.86" y="301.20" width="18.34" height="18.30" fill="#e7ec36"/>
<rect x="341.20" y="301.20" width="18.34" height="18.30" fill="#bae739"/>
<rect x="358.54" y="301.20" width="18.34" height="18.30" fill="#8fdc5c"/>
<rect x="375.88" y="301.20" width="18.34" height="18.30" fill="#88d961"/>
<rect x="393.21" y="301.20" width="17.34" height="18.30" fill="#77d26c"/>
<rect x="271.85" y="318.50" width="18.34" height="18.30" fill="#44748c"/>
<rect x="289.19" y="318.50" width="18.34" height="18.30" fill="#77d26c"/>
<rect x="306.53" y="318.50" width="18.34" height="18.30" fill="#d4ea2e"/>
<rect x="323.86" y="318.50" width="18.34" height="18.30" fill="#deeb30"/>
<rect x="341.20" y="318.50" width="18.34" height="18.30" fill="#cdea2f"/>
<rect x="358.54" y="318.50" width="18.34" height="18.30" fill="#7fd667"/>
<rect x="375.88" y="318.50" width="18.34" height="18.30" fill="#77d26c"/>
<rect x="393.21" y="318.50" width="17.34" height="18.30" fill="#5cc37d"/>
<rect x="271.85" y="335.80" width="18.34" height="18.30" fill="#41448d"/>
<rect x="289.19" y="335.80" width="18.34" height="18.30" fill="#88d961"/>
<rect x="306.53" y="335.80" width="35.68" height="18.30" fill="#d4ea2e"/>
<rect x="341.20" y="335.80" width="18.34" height="18.30" fill="#deeb30"/>
<rect x="358.54" y="335.80" width="18.34" height="18.30" fill="#bae739"/>
<rect x="375.88" y="335.80" width="18.34" height="18.30" fill="#deeb30"/>
<rect x="393.21" y="335.80" width="17.34" height="18.30" fill="#98df55"/>
<rect x="271.85" y="353.10" width="18.34" height="18.30" fill="#44848d"/>
<rect x="289.19" y="353.10" width="18.34" height="18.30" fill="#88d961"/>
<rect x="306.53" y="353.10" width="18.34" height="18.30" fill="#b1e540"/>
<rect x="323.86" y="353.10" width="18.34" height="18.30" fill="#d4ea2e"/>
<rect x="341.20" y="353.10" width="18.34" height="18.30" fill="#cdea2f"/>
<rect x="358.54" y="353.10" width="18.34" height="18.30" fill="#bae739"/>
<rect x="375.88" y="353.10" width="18.34" height="18.30" fill="#cdea2f"/>
<rect x="393.21" y="353.10" width="17.34" height="18.30" fill="#c4e834"/>
<rect x="271.85" y="370.40" width="18.34" height="18.30" fill="#44708c"/>
<rect x="289.19" y="370.40" width="18.34" height="18.30" fill="#7fd667"/>
<rect x="306.53" y="370.40" width="18.34" height="18.30" fill="#bae739"/>
<rect x="323.86" y="370.40" width="18.34" height="18.30" fill="#aae346"/>
<rect x="341.20" y="370.40" width="18.34" height="18.30" fill="#deeb30"/>
<rect x="358.54" y="370.40" width="35.67" height="18.30" fill="#d4ea2e"/>
<rect x="393.21" y="370.40" width="17.34" height="18.30" fill="#deeb30"/>
<rect x="271.85" y="387.70" width="18.34" height="18.30" fill="#433e8c"/>
<rect x="289.19" y="387.70" width="18.34" height="18.30" fill="#5cc37d"/>
<rect x="306.53" y="387.70" width="18.34" height="18.30" fill="#b1e540"/>
<rect x="323.86" y="387.70" width="18.34" height="18.30" fill="#d4ea2e"/>
<rect x="341.20" y="387.70" width="18.34" height="18.30" fill="#c4e834"/>
<rect x="358.54" y="387.70" width="18.34" height="18.30" fill="#e7ec36"/>
<rect x="375.88" y="387.70" width="18.34" height="18.30" fill="#deeb30"/>
<rect x="393.21" y="387.70" width="17.34" height="18.30" fill="#c4e834"/>
<rect x="271.85" y="405.00" width="18.34" height="18.30" fill="#425f8c"/>
<rect x="289.19" y="405.00" width="18.34" height="18.30" fill="#6acb75"/>
<rect x="306.53" y="405.00" width="18.34" height="18.30" fill="#6fcf72"/>
<rect x="323.86" y="405.00" width="18.34" height="18.30" fill="#bae739"/>
<rect x="341.20" y="405.00" width="18.34" height="18.30" fill="#88d961"/>
<rect x="358.54" y="405.00" width="18.34" height="18.30" fill="#cdea2f"/>
<rect x="375.88" y="405.00" width="18.34" height="18.30" fill="#deeb30"/>
<rect x="393.21" y="405.00" width="17.34" height="18.30" fill="#e7ec36"/>
<rect x="271.85" y="422.30" width="18.34" height="17.30" fill="#44748c"/>
<rect x="289.19" y="422.30" width="18.34" height="17.30" fill="#5cc37d"/>
<rect x="306.53" y="422.30" width="18.34" height="17.30" fill="#88d961"/>
<rect x="323.86" y="422.30" width="18.34" height="17.30" fill="#98df55"/>
<rect x="341.20" y="422.30" width="18.34" height="17.30" fill="#b1e540"/>
<rect x="358.54" y="422.30" width="18.34" height="17.30" fill="#bae739"/>
<rect x="375.88" y="422.30" width="18.34" height="17.30" fill="#b1e540"/>
<rect x="393.21" y="422.30" width="17.34" height="17.30" fill="#deeb30"/>
<rect x="271.85" y="266.60" width="138.70" height="173.00" fill="none" stroke="#111" stroke-width="0.45"/>
<g font-size="6.2" fill="#111">
<text x="272.05" y="275.05">12.7</text>
<text x="289.39" y="275.05">14.9</text>
<text x="306.73" y="275.05">15.6</text>
<text x="324.06" y="275.05">15.9</text>
<text x="341.40" y="275.05">15.4</text>
<text x="358.74" y="275.05">14.9</text>
<text x="376.07" y="275.05">14.3</text>
<text x="393.41" y="275.05">14.0</text>
<text x="272.05" y="292.35">12.9</text>
<text x="289.39" y="292.35">15.1</text>
<text x="306.73" y="292.35">16.0</text>
<text x="324.06" y="292.35">15.8</text>
<text x="341.40" y="292.35">15.6</text>
<text x="358.74" y="292.35">14.9</text>
<text x="376.07" y="292.35">14.5</text>
<text x="393.41" y="292.35">13.6</text>
<text x="272.05" y="309.65">11.9</text>
<text x="289.39" y="309.65">15.1</text>
<text x="306.73" y="309.65">15.5</text>
<text x="324.06" y="309.65">15.9</text>
<text x="341.40" y="309.65">15.4</text>
<text x="358.74" y="309.65">14.9</text>
<text x="376.07" y="309.65">14.8</text>
<text x="393.41" y="309.65">14.6</text>
<text x="272.05" y="326.95">12.6</text>
<text x="289.39" y="326.95">14.6</text>
<text x="306.73" y="326.95">15.7</text>
<text x="324.06" y="326.95">15.8</text>
<text x="341.40" y="326.95">15.6</text>
<text x="358.74" y="326.95">14.7</text>
<text x="376.07" y="326.95">14.6</text>
<text x="393.41" y="326.95">14.2</text>
<text x="272.05" y="344.25">11.7</text>
<text x="289.39" y="344.25">14.8</text>
<text x="306.73" y="344.25">15.7</text>
<text x="324.06" y="344.25">15.7</text>
<text x="341.40" y="344.25">15.8</text>
<text x="358.74" y="344.25">15.4</text>
<text x="376.07" y="344.25">15.8</text>
<text x="393.41" y="344.25">15.0</text>
<text x="272.05" y="361.55">12.9</text>
<text x="289.39" y="361.55">14.8</text>
<text x="306.73" y="361.55">15.3</text>
<text x="324.06" y="361.55">15.7</text>
<text x="341.40" y="361.55">15.6</text>
<text x="358.74" y="361.55">15.4</text>
<text x="376.07" y="361.55">15.6</text>
<text x="393.41" y="361.55">15.5</text>
<text x="272.05" y="378.85">12.5</text>
<text x="289.39" y="378.85">14.7</text>
<text x="306.73" y="378.85">15.4</text>
<text x="324.06" y="378.85">15.2</text>
<text x="341.40" y="378.85">15.8</text>
<text x="358.74" y="378.85">15.7</text>
<text x="376.07" y="378.85">15.7</text>
<text x="393.41" y="378.85">15.8</text>
<text x="272.05" y="396.15">11.6</text>
<text x="289.39" y="396.15">14.2</text>
<text x="306.73" y="396.15">15.3</text>
<text x="324.06" y="396.15">15.7</text>
<text x="341.40" y="396.15">15.5</text>
<text x="358.74" y="396.15">15.9</text>
<text x="376.07" y="396.15">15.8</text>
<text x="393.41" y="396.15">15.5</text>
<text x="272.05" y="413.45">12.2</text>
<text x="289.39" y="413.45">14.4</text>
<text x="306.73" y="413.45">14.5</text>
<text x="324.06" y="413.45">15.4</text>
<text x="341.40" y="413.45">14.8</text>
<text x="358.74" y="413.45">15.6</text>
<text x="376.07" y="413.45">15.8</text>
<text x="393.41" y="413.45">15.9</text>
<text x="272.05" y="430.75">12.6</text>
<text x="289.39" y="430.75">14.2</text>
<text x="306.73" y="430.75">14.8</text>
<text x="324.06" y="430.75">15.0</text>
<text x="341.40" y="430.75">15.3</text>
<text x="358.74" y="430.75">15.4</text>
<text x="376.07" y="430.75">15.3</text>
<text x="393.41" y="430.75">15.8</text>
</g>
<g font-size="6.15" text-anchor="end">
<line x1="269.45" x2="271.85" y1="275.40" y2="275.40" stroke="#000" stroke-width="0.6"/>
<text x="266.95" y="277.70">0.99</text>
<line x1="269.45" x2="271.85" y1="292.70" y2="292.70" stroke="#000" stroke-width="0.6"/>
<text x="266.95" y="295.00">0.98</text>
<line x1="269.45" x2="271.85" y1="310.00" y2="310.00" stroke="#000" stroke-width="0.6"/>
<text x="266.95" y="312.30">0.95</text>
<line x1="269.45" x2="271.85" y1="327.30" y2="327.30" stroke="#000" stroke-width="0.6"/>
<text x="266.95" y="329.60">0.9</text>
<line x1="269.45" x2="271.85" y1="344.60" y2="344.60" stroke="#000" stroke-width="0.6"/>
<text x="266.95" y="346.90">0.8</text>
<line x1="269.45" x2="271.85" y1="361.90" y2="361.90" stroke="#000" stroke-width="0.6"/>
<text x="266.95" y="364.20">0.7</text>
<line x1="269.45" x2="271.85" y1="379.20" y2="379.20" stroke="#000" stroke-width="0.6"/>
<text x="266.95" y="381.50">0.6</text>
<line x1="269.45" x2="271.85" y1="396.50" y2="396.50" stroke="#000" stroke-width="0.6"/>
<text x="266.95" y="398.80">0.5</text>
<line x1="269.45" x2="271.85" y1="413.80" y2="413.80" stroke="#000" stroke-width="0.6"/>
<text x="266.95" y="416.10">0.4</text>
<line x1="269.45" x2="271.85" y1="431.10" y2="431.10" stroke="#000" stroke-width="0.6"/>
<text x="266.95" y="433.40">0.35</text>
</g>
<g font-size="6.15" text-anchor="middle">
<line x1="280.52" x2="280.52" y1="439.60" y2="442.00" stroke="#000" stroke-width="0.6"/>
<text x="280.42" y="449.00">1</text>
<line x1="297.86" x2="297.86" y1="439.60" y2="442.00" stroke="#000" stroke-width="0.6"/>
<text x="297.76" y="449.00">2</text>
<line x1="315.19" x2="315.19" y1="439.60" y2="442.00" stroke="#000" stroke-width="0.6"/>
<text x="315.09" y="449.00">3</text>
<line x1="332.53" x2="332.53" y1="439.60" y2="442.00" stroke="#000" stroke-width="0.6"/>
<text x="332.43" y="449.00">4</text>
<line x1="349.87" x2="349.87" y1="439.60" y2="442.00" stroke="#000" stroke-width="0.6"/>
<text x="349.77" y="449.00">5</text>
<line x1="367.21" x2="367.21" y1="439.60" y2="442.00" stroke="#000" stroke-width="0.6"/>
<text x="367.11" y="449.00">6</text>
<line x1="384.54" x2="384.54" y1="439.60" y2="442.00" stroke="#000" stroke-width="0.6"/>
<text x="384.44" y="449.00">7</text>
<line x1="401.88" x2="401.88" y1="439.60" y2="442.00" stroke="#000" stroke-width="0.6"/>
<text x="401.78" y="449.00">8</text>
</g>
<text x="341.20" y="262.50" font-size="9.1" text-anchor="middle">Optimal Cut=16</text>
<text x="341.10" y="459.60" font-size="8.95" text-anchor="middle">#Layers</text>
<text transform="translate(248.45,354.00) rotate(-90)" font-size="8.95" text-anchor="middle">Step-size</text>
<rect x="413.25" y="269.60" width="5.6" height="5.6" rx="1.7" fill="#fff" stroke="#d4d4d4" stroke-width="0.5"/>
<rect x="422.25" y="266.60" width="8.60" height="173.00" fill="url(#vg)" stroke="#111" stroke-width="0.45"/>
<g font-size="6.15">
<line x1="430.85" x2="433.25" y1="426.79" y2="426.79" stroke="#000" stroke-width="0.6"/>
<text x="435.55" y="429.49">11</text>
<line x1="430.85" x2="433.25" y1="394.75" y2="394.75" stroke="#000" stroke-width="0.6"/>
<text x="435.55" y="397.45">12</text>
<line x1="430.85" x2="433.25" y1="362.71" y2="362.71" stroke="#000" stroke-width="0.6"/>
<text x="435.55" y="365.41">13</text>
<line x1="430.85" x2="433.25" y1="330.67" y2="330.67" stroke="#000" stroke-width="0.6"/>
<text x="435.55" y="333.37">14</text>
<line x1="430.85" x2="433.25" y1="298.64" y2="298.64" stroke="#000" stroke-width="0.6"/>
<text x="435.55" y="301.34">15</text>
<line x1="430.85" x2="433.25" y1="266.60" y2="266.60" stroke="#000" stroke-width="0.6"/>
<text x="435.55" y="269.30">16</text>
</g>
<text x="342.35" y="478.90" font-size="11.25" text-anchor="middle">12 nodes</text>
</g>
<g>
<rect x="498.90" y="266.60" width="18.34" height="18.30" fill="#404f8d"/>
<rect x="516.24" y="266.60" width="18.34" height="18.30" fill="#b7e63c"/>
<rect x="533.58" y="266.60" width="18.34" height="18.30" fill="#eeec3c"/>
<rect x="550.91" y="266.60" width="18.34" height="18.30" fill="#e7ec36"/>
<rect x="568.25" y="266.60" width="18.34" height="18.30" fill="#ade443"/>
<rect x="585.59" y="266.60" width="18.34" height="18.30" fill="#9de051"/>
<rect x="602.93" y="266.60" width="18.34" height="18.30" fill="#64c879"/>
<rect x="620.26" y="266.60" width="17.34" height="18.30" fill="#4cb486"/>
<rect x="498.90" y="283.90" width="18.34" height="18.30" fill="#447c8d"/>
<rect x="516.24" y="283.90" width="18.34" height="18.30" fill="#a6e349"/>
<rect x="533.58" y="283.90" width="35.67" height="18.30" fill="#e7ec36"/>
<rect x="568.25" y="283.90" width="18.34" height="18.30" fill="#b7e63c"/>
<rect x="585.59" y="283.90" width="18.34" height="18.30" fill="#c6e933"/>
<rect x="602.93" y="283.90" width="18.34" height="18.30" fill="#64c879"/>
<rect x="620.26" y="283.90" width="17.34" height="18.30" fill="#59c07f"/>
<rect x="498.90" y="301.20" width="18.34" height="18.30" fill="#446e8c"/>
<rect x="516.24" y="301.20" width="18.34" height="18.30" fill="#cfea2f"/>
<rect x="533.58" y="301.20" width="18.34" height="18.30" fill="#dfeb31"/>
<rect x="550.91" y="301.20" width="18.34" height="18.30" fill="#cfea2f"/>
<rect x="568.25" y="301.20" width="18.34" height="18.30" fill="#bee737"/>
<rect x="585.59" y="301.20" width="18.34" height="18.30" fill="#e7ec36"/>
<rect x="602.93" y="301.20" width="18.34" height="18.30" fill="#7fd667"/>
<rect x="620.26" y="301.20" width="17.34" height="18.30" fill="#4cb486"/>
<rect x="498.90" y="318.50" width="18.34" height="18.30" fill="#44788d"/>
<rect x="516.24" y="318.50" width="18.34" height="18.30" fill="#cfea2f"/>
<rect x="533.58" y="318.50" width="18.34" height="18.30" fill="#eeec3c"/>
<rect x="550.91" y="318.50" width="18.34" height="18.30" fill="#d6eb2e"/>
<rect x="568.25" y="318.50" width="18.34" height="18.30" fill="#dfeb31"/>
<rect x="585.59" y="318.50" width="18.34" height="18.30" fill="#cfea2f"/>
<rect x="602.93" y="318.50" width="18.34" height="18.30" fill="#7fd667"/>
<rect x="620.26" y="318.50" width="17.34" height="18.30" fill="#4ab088"/>
<rect x="498.90" y="335.80" width="18.34" height="18.30" fill="#43688c"/>
<rect x="516.24" y="335.80" width="18.34" height="18.30" fill="#96de56"/>
<rect x="533.58" y="335.80" width="18.34" height="18.30" fill="#c6e933"/>
<rect x="550.91" y="335.80" width="18.34" height="18.30" fill="#e7ec36"/>
<rect x="568.25" y="335.80" width="35.68" height="18.30" fill="#d6eb2e"/>
<rect x="602.93" y="335.80" width="18.34" height="18.30" fill="#ade443"/>
<rect x="620.26" y="335.80" width="17.34" height="18.30" fill="#7fd667"/>
<rect x="498.90" y="353.10" width="18.34" height="18.30" fill="#42638c"/>
<rect x="516.24" y="353.10" width="18.34" height="18.30" fill="#96de56"/>
<rect x="533.58" y="353.10" width="18.34" height="18.30" fill="#b7e63c"/>
<rect x="550.91" y="353.10" width="18.34" height="18.30" fill="#77d26c"/>
<rect x="568.25" y="353.10" width="18.34" height="18.30" fill="#dfeb31"/>
<rect x="585.59" y="353.10" width="18.34" height="18.30" fill="#e7ec36"/>
<rect x="602.93" y="353.10" width="18.34" height="18.30" fill="#dfeb31"/>
<rect x="620.26" y="353.10" width="17.34" height="18.30" fill="#8fdc5c"/>
<rect x="498.90" y="370.40" width="18.34" height="18.30" fill="#42448c"/>
<rect x="516.24" y="370.40" width="18.34" height="18.30" fill="#7fd667"/>
<rect x="533.58" y="370.40" width="18.34" height="18.30" fill="#d6eb2e"/>
<rect x="550.91" y="370.40" width="18.34" height="18.30" fill="#ade443"/>
<rect x="568.25" y="370.40" width="18.34" height="18.30" fill="#eeec3c"/>
<rect x="585.59" y="370.40" width="35.67" height="18.30" fill="#dfeb31"/>
<rect x="620.26" y="370.40" width="17.34" height="18.30" fill="#e7ec36"/>
<rect x="498.90" y="387.70" width="18.34" height="18.30" fill="#43688c"/>
<rect x="516.24" y="387.70" width="18.34" height="18.30" fill="#8fdc5c"/>
<rect x="533.58" y="387.70" width="18.34" height="18.30" fill="#ade443"/>
<rect x="550.91" y="387.70" width="18.34" height="18.30" fill="#bee737"/>
<rect x="568.25" y="387.70" width="18.34" height="18.30" fill="#d6eb2e"/>
<rect x="585.59" y="387.70" width="18.34" height="18.30" fill="#e7ec36"/>
<rect x="602.93" y="387.70" width="18.34" height="18.30" fill="#dfeb31"/>
<rect x="620.26" y="387.70" width="17.34" height="18.30" fill="#e7ec36"/>
<rect x="498.90" y="405.00" width="18.34" height="18.30" fill="#443b8b"/>
<rect x="516.24" y="405.00" width="18.34" height="18.30" fill="#6acb75"/>
<rect x="533.58" y="405.00" width="18.34" height="18.30" fill="#b7e63c"/>
<rect x="550.91" y="405.00" width="18.34" height="18.30" fill="#7fd667"/>
<rect x="568.25" y="405.00" width="18.34" height="18.30" fill="#9de051"/>
<rect x="585.59" y="405.00" width="18.34" height="18.30" fill="#dfeb31"/>
<rect x="602.93" y="405.00" width="34.67" height="18.30" fill="#d6eb2e"/>
<rect x="498.90" y="422.30" width="18.34" height="17.30" fill="#40548d"/>
<rect x="516.24" y="422.30" width="18.34" height="17.30" fill="#7fd667"/>
<rect x="533.58" y="422.30" width="18.34" height="17.30" fill="#cfea2f"/>
<rect x="550.91" y="422.30" width="18.34" height="17.30" fill="#96de56"/>
<rect x="568.25" y="422.30" width="18.34" height="17.30" fill="#bee737"/>
<rect x="585.59" y="422.30" width="18.34" height="17.30" fill="#cfea2f"/>
<rect x="602.93" y="422.30" width="18.34" height="17.30" fill="#e7ec36"/>
<rect x="620.26" y="422.30" width="17.34" height="17.30" fill="#d6eb2e"/>
<rect x="498.90" y="266.60" width="138.70" height="173.00" fill="none" stroke="#111" stroke-width="0.45"/>
<g font-size="6.2" fill="#111">
<text x="499.10" y="275.05">14.6</text>
<text x="516.44" y="275.05">18.3</text>
<text x="533.78" y="275.05">19.0</text>
<text x="551.11" y="275.05">18.9</text>
<text x="568.45" y="275.05">18.2</text>
<text x="585.79" y="275.05">18.0</text>
<text x="603.13" y="275.05">17.2</text>
<text x="620.46" y="275.05">16.7</text>
<text x="499.10" y="292.35">15.5</text>
<text x="516.44" y="292.35">18.1</text>
<text x="533.78" y="292.35">18.9</text>
<text x="551.11" y="292.35">18.9</text>
<text x="568.45" y="292.35">18.3</text>
<text x="585.79" y="292.35">18.5</text>
<text x="603.13" y="292.35">17.2</text>
<text x="620.46" y="292.35">17.0</text>
<text x="499.10" y="309.65">15.2</text>
<text x="516.44" y="309.65">18.6</text>
<text x="533.78" y="309.65">18.8</text>
<text x="551.11" y="309.65">18.6</text>
<text x="568.45" y="309.65">18.4</text>
<text x="585.79" y="309.65">18.9</text>
<text x="603.13" y="309.65">17.6</text>
<text x="620.46" y="309.65">16.7</text>
<text x="499.10" y="326.95">15.4</text>
<text x="516.44" y="326.95">18.6</text>
<text x="533.78" y="326.95">19.0</text>
<text x="551.11" y="326.95">18.7</text>
<text x="568.45" y="326.95">18.8</text>
<text x="585.79" y="326.95">18.6</text>
<text x="603.13" y="326.95">17.6</text>
<text x="620.46" y="326.95">16.6</text>
<text x="499.10" y="344.25">15.1</text>
<text x="516.44" y="344.25">17.9</text>
<text x="533.78" y="344.25">18.5</text>
<text x="551.11" y="344.25">18.9</text>
<text x="568.45" y="344.25">18.7</text>
<text x="585.79" y="344.25">18.7</text>
<text x="603.13" y="344.25">18.2</text>
<text x="620.46" y="344.25">17.6</text>
<text x="499.10" y="361.55">15.0</text>
<text x="516.44" y="361.55">17.9</text>
<text x="533.78" y="361.55">18.3</text>
<text x="551.11" y="361.55">17.5</text>
<text x="568.45" y="361.55">18.8</text>
<text x="585.79" y="361.55">18.9</text>
<text x="603.13" y="361.55">18.8</text>
<text x="620.46" y="361.55">17.8</text>
<text x="499.10" y="378.85">14.4</text>
<text x="516.44" y="378.85">17.6</text>
<text x="533.78" y="378.85">18.7</text>
<text x="551.11" y="378.85">18.2</text>
<text x="568.45" y="378.85">19.0</text>
<text x="585.79" y="378.85">18.8</text>
<text x="603.13" y="378.85">18.8</text>
<text x="620.46" y="378.85">18.9</text>
<text x="499.10" y="396.15">15.1</text>
<text x="516.44" y="396.15">17.8</text>
<text x="533.78" y="396.15">18.2</text>
<text x="551.11" y="396.15">18.4</text>
<text x="568.45" y="396.15">18.7</text>
<text x="585.79" y="396.15">18.9</text>
<text x="603.13" y="396.15">18.8</text>
<text x="620.46" y="396.15">18.9</text>
<text x="499.10" y="413.45">14.2</text>
<text x="516.44" y="413.45">17.3</text>
<text x="533.78" y="413.45">18.3</text>
<text x="551.11" y="413.45">17.6</text>
<text x="568.45" y="413.45">18.0</text>
<text x="585.79" y="413.45">18.8</text>
<text x="603.13" y="413.45">18.7</text>
<text x="620.46" y="413.45">18.7</text>
<text x="499.10" y="430.75">14.7</text>
<text x="516.44" y="430.75">17.6</text>
<text x="533.78" y="430.75">18.6</text>
<text x="551.11" y="430.75">17.9</text>
<text x="568.45" y="430.75">18.4</text>
<text x="585.79" y="430.75">18.6</text>
<text x="603.13" y="430.75">18.9</text>
<text x="620.46" y="430.75">18.7</text>
</g>
<g font-size="6.15" text-anchor="end">
<line x1="496.50" x2="498.90" y1="275.40" y2="275.40" stroke="#000" stroke-width="0.6"/>
<text x="494.00" y="277.70">0.99</text>
<line x1="496.50" x2="498.90" y1="292.70" y2="292.70" stroke="#000" stroke-width="0.6"/>
<text x="494.00" y="295.00">0.98</text>
<line x1="496.50" x2="498.90" y1="310.00" y2="310.00" stroke="#000" stroke-width="0.6"/>
<text x="494.00" y="312.30">0.95</text>
<line x1="496.50" x2="498.90" y1="327.30" y2="327.30" stroke="#000" stroke-width="0.6"/>
<text x="494.00" y="329.60">0.9</text>
<line x1="496.50" x2="498.90" y1="344.60" y2="344.60" stroke="#000" stroke-width="0.6"/>
<text x="494.00" y="346.90">0.8</text>
<line x1="496.50" x2="498.90" y1="361.90" y2="361.90" stroke="#000" stroke-width="0.6"/>
<text x="494.00" y="364.20">0.7</text>
<line x1="496.50" x2="498.90" y1="379.20" y2="379.20" stroke="#000" stroke-width="0.6"/>
<text x="494.00" y="381.50">0.6</text>
<line x1="496.50" x2="498.90" y1="396.50" y2="396.50" stroke="#000" stroke-width="0.6"/>
<text x="494.00" y="398.80">0.5</text>
<line x1="496.50" x2="498.90" y1="413.80" y2="413.80" stroke="#000" stroke-width="0.6"/>
<text x="494.00" y="416.10">0.4</text>
<line x1="496.50" x2="498.90" y1="431.10" y2="431.10" stroke="#000" stroke-width="0.6"/>
<text x="494.00" y="433.40">0.35</text>
</g>
<g font-size="6.15" text-anchor="middle">
<line x1="507.57" x2="507.57" y1="439.60" y2="442.00" stroke="#000" stroke-width="0.6"/>
<text x="507.47" y="449.00">1</text>
<line x1="524.91" x2="524.91" y1="439.60" y2="442.00" stroke="#000" stroke-width="0.6"/>
<text x="524.81" y="449.00">2</text>
<line x1="542.24" x2="542.24" y1="439.60" y2="442.00" stroke="#000" stroke-width="0.6"/>
<text x="542.14" y="449.00">3</text>
<line x1="559.58" x2="559.58" y1="439.60" y2="442.00" stroke="#000" stroke-width="0.6"/>
<text x="559.48" y="449.00">4</text>
<line x1="576.92" x2="576.92" y1="439.60" y2="442.00" stroke="#000" stroke-width="0.6"/>
<text x="576.82" y="449.00">5</text>
<line x1="594.26" x2="594.26" y1="439.60" y2="442.00" stroke="#000" stroke-width="0.6"/>
<text x="594.16" y="449.00">6</text>
<line x1="611.59" x2="611.59" y1="439.60" y2="442.00" stroke="#000" stroke-width="0.6"/>
<text x="611.49" y="449.00">7</text>
<line x1="628.93" x2="628.93" y1="439.60" y2="442.00" stroke="#000" stroke-width="0.6"/>
<text x="628.83" y="449.00">8</text>
</g>
<text x="568.25" y="262.50" font-size="9.1" text-anchor="middle">Optimal Cut=19</text>
<text x="568.15" y="459.60" font-size="8.95" text-anchor="middle">#Layers</text>
<text transform="translate(475.50,354.00) rotate(-90)" font-size="8.95" text-anchor="middle">Step-size</text>
<rect x="640.30" y="269.60" width="5.6" height="5.6" rx="1.7" fill="#fff" stroke="#d4d4d4" stroke-width="0.5"/>
<rect x="649.30" y="266.60" width="8.60" height="173.00" fill="url(#vg)" stroke="#111" stroke-width="0.45"/>
<g font-size="6.15">
<line x1="657.90" x2="660.30" y1="415.74" y2="415.74" stroke="#000" stroke-width="0.6"/>
<text x="662.60" y="418.44">14</text>
<line x1="657.90" x2="660.30" y1="385.91" y2="385.91" stroke="#000" stroke-width="0.6"/>
<text x="662.60" y="388.61">15</text>
<line x1="657.90" x2="660.30" y1="356.08" y2="356.08" stroke="#000" stroke-width="0.6"/>
<text x="662.60" y="358.78">16</text>
<line x1="657.90" x2="660.30" y1="326.26" y2="326.26" stroke="#000" stroke-width="0.6"/>
<text x="662.60" y="328.96">17</text>
<line x1="657.90" x2="660.30" y1="296.43" y2="296.43" stroke="#000" stroke-width="0.6"/>
<text x="662.60" y="299.13">18</text>
<line x1="657.90" x2="660.30" y1="266.60" y2="266.60" stroke="#000" stroke-width="0.6"/>
<text x="662.60" y="269.30">19</text>
</g>
<text x="569.23" y="478.90" font-size="11.25" text-anchor="middle">14 nodes</text>
</g>
<g>
<rect x="44.80" y="511.00" width="18.34" height="18.30" fill="#415a8c"/>
<rect x="62.14" y="511.00" width="18.34" height="18.30" fill="#8fdc5c"/>
<rect x="79.47" y="511.00" width="18.34" height="18.30" fill="#c4e834"/>
<rect x="96.81" y="511.00" width="18.34" height="18.30" fill="#aae346"/>
<rect x="114.15" y="511.00" width="18.34" height="18.30" fill="#8fdc5c"/>
<rect x="131.49" y="511.00" width="18.34" height="18.30" fill="#88d961"/>
<rect x="148.82" y="511.00" width="18.34" height="18.30" fill="#52bb83"/>
<rect x="166.16" y="511.00" width="17.34" height="18.30" fill="#4eb685"/>
<rect x="44.80" y="528.30" width="18.34" height="18.30" fill="#415a8c"/>
<rect x="62.14" y="528.30" width="18.34" height="18.30" fill="#7fd667"/>
<rect x="79.47" y="528.30" width="18.34" height="18.30" fill="#cdea2f"/>
<rect x="96.81" y="528.30" width="18.34" height="18.30" fill="#b1e540"/>
<rect x="114.15" y="528.30" width="18.34" height="18.30" fill="#a1e14e"/>
<rect x="131.49" y="528.30" width="18.34" height="18.30" fill="#77d26c"/>
<rect x="148.82" y="528.30" width="18.34" height="18.30" fill="#4ab188"/>
<rect x="166.16" y="528.30" width="17.34" height="18.30" fill="#46a88a"/>
<rect x="44.80" y="545.60" width="18.34" height="18.30" fill="#415a8c"/>
<rect x="62.14" y="545.60" width="18.34" height="18.30" fill="#8fdc5c"/>
<rect x="79.47" y="545.60" width="18.34" height="18.30" fill="#c4e834"/>
<rect x="96.81" y="545.60" width="18.34" height="18.30" fill="#aae346"/>
<rect x="114.15" y="545.60" width="18.34" height="18.30" fill="#d4ea2e"/>
<rect x="131.49" y="545.60" width="18.34" height="18.30" fill="#98df55"/>
<rect x="148.82" y="545.60" width="18.34" height="18.30" fill="#4ab188"/>
<rect x="166.16" y="545.60" width="17.34" height="18.30" fill="#48ac89"/>
<rect x="44.80" y="562.90" width="18.34" height="18.30" fill="#41498d"/>
<rect x="62.14" y="562.90" width="18.34" height="18.30" fill="#56be81"/>
<rect x="79.47" y="562.90" width="53.01" height="18.30" fill="#aae346"/>
<rect x="131.49" y="562.90" width="18.34" height="18.30" fill="#b1e540"/>
<rect x="148.82" y="562.90" width="34.68" height="18.30" fill="#5cc37d"/>
<rect x="44.80" y="580.20" width="18.34" height="18.30" fill="#433e8c"/>
<rect x="62.14" y="580.20" width="18.34" height="18.30" fill="#a1e14e"/>
<rect x="79.47" y="580.20" width="18.34" height="18.30" fill="#b1e540"/>
<rect x="96.81" y="580.20" width="18.34" height="18.30" fill="#c4e834"/>
<rect x="114.15" y="580.20" width="18.34" height="18.30" fill="#bae739"/>
<rect x="131.49" y="580.20" width="18.34" height="18.30" fill="#c4e834"/>
<rect x="148.82" y="580.20" width="18.34" height="18.30" fill="#88d961"/>
<rect x="166.16" y="580.20" width="17.34" height="18.30" fill="#5cc37d"/>
<rect x="44.80" y="597.50" width="18.34" height="18.30" fill="#42658c"/>
<rect x="62.14" y="597.50" width="18.34" height="18.30" fill="#98df55"/>
<rect x="79.47" y="597.50" width="18.34" height="18.30" fill="#aae346"/>
<rect x="96.81" y="597.50" width="35.68" height="18.30" fill="#b1e540"/>
<rect x="131.49" y="597.50" width="18.34" height="18.30" fill="#cdea2f"/>
<rect x="148.82" y="597.50" width="18.34" height="18.30" fill="#8fdc5c"/>
<rect x="166.16" y="597.50" width="17.34" height="18.30" fill="#6fcf72"/>
<rect x="44.80" y="614.80" width="18.34" height="18.30" fill="#415a8c"/>
<rect x="62.14" y="614.80" width="18.34" height="18.30" fill="#8fdc5c"/>
<rect x="79.47" y="614.80" width="18.34" height="18.30" fill="#c4e834"/>
<rect x="96.81" y="614.80" width="18.34" height="18.30" fill="#aae346"/>
<rect x="114.15" y="614.80" width="18.34" height="18.30" fill="#a1e14e"/>
<rect x="131.49" y="614.80" width="18.34" height="18.30" fill="#cdea2f"/>
<rect x="148.82" y="614.80" width="18.34" height="18.30" fill="#bae739"/>
<rect x="166.16" y="614.80" width="17.34" height="18.30" fill="#b1e540"/>
<rect x="44.80" y="632.10" width="18.34" height="18.30" fill="#40548d"/>
<rect x="62.14" y="632.10" width="18.34" height="18.30" fill="#46a88a"/>
<rect x="79.47" y="632.10" width="18.34" height="18.30" fill="#5cc37d"/>
<rect x="96.81" y="632.10" width="18.34" height="18.30" fill="#88d961"/>
<rect x="114.15" y="632.10" width="18.34" height="18.30" fill="#b1e540"/>
<rect x="131.49" y="632.10" width="18.34" height="18.30" fill="#d4ea2e"/>
<rect x="148.82" y="632.10" width="18.34" height="18.30" fill="#bae739"/>
<rect x="166.16" y="632.10" width="17.34" height="18.30" fill="#b1e540"/>
<rect x="44.80" y="649.40" width="18.34" height="18.30" fill="#40548d"/>
<rect x="62.14" y="649.40" width="18.34" height="18.30" fill="#5cc37d"/>
<rect x="79.47" y="649.40" width="18.34" height="18.30" fill="#6fcf72"/>
<rect x="96.81" y="649.40" width="18.34" height="18.30" fill="#6acb75"/>
<rect x="114.15" y="649.40" width="18.34" height="18.30" fill="#98df55"/>
<rect x="131.49" y="649.40" width="18.34" height="18.30" fill="#bae739"/>
<rect x="148.82" y="649.40" width="18.34" height="18.30" fill="#c4e834"/>
<rect x="166.16" y="649.40" width="17.34" height="18.30" fill="#cdea2f"/>
<rect x="44.80" y="666.70" width="18.34" height="17.30" fill="#41448d"/>
<rect x="62.14" y="666.70" width="18.34" height="17.30" fill="#44938d"/>
<rect x="79.47" y="666.70" width="35.68" height="17.30" fill="#56be81"/>
<rect x="114.15" y="666.70" width="35.67" height="17.30" fill="#98df55"/>
<rect x="148.82" y="666.70" width="18.34" height="17.30" fill="#d4ea2e"/>
<rect x="166.16" y="666.70" width="17.34" height="17.30" fill="#aae346"/>
<rect x="44.80" y="511.00" width="138.70" height="173.00" fill="none" stroke="#111" stroke-width="0.45"/>
<g font-size="6.2" fill="#111">
<text x="45.00" y="519.45">17.1</text>
<text x="62.34" y="519.45">19.9</text>
<text x="79.67" y="519.45">20.5</text>
<text x="97.01" y="519.45">20.2</text>
<text x="114.35" y="519.45">19.9</text>
<text x="131.69" y="519.45">19.8</text>
<text x="149.02" y="519.45">19.0</text>
<text x="166.36" y="519.45">18.9</text>
<text x="45.00" y="536.75">17.1</text>
<text x="62.34" y="536.75">19.7</text>
<text x="79.67" y="536.75">20.6</text>
<text x="97.01" y="536.75">20.3</text>
<text x="114.35" y="536.75">20.1</text>
<text x="131.69" y="536.75">19.6</text>
<text x="149.02" y="536.75">18.8</text>
<text x="166.36" y="536.75">18.6</text>
<text x="45.00" y="554.05">17.1</text>
<text x="62.34" y="554.05">19.9</text>
<text x="79.67" y="554.05">20.5</text>
<text x="97.01" y="554.05">20.2</text>
<text x="114.35" y="554.05">20.7</text>
<text x="131.69" y="554.05">20.0</text>
<text x="149.02" y="554.05">18.8</text>
<text x="166.36" y="554.05">18.7</text>
<text x="45.00" y="571.35">16.8</text>
<text x="62.34" y="571.35">19.1</text>
<text x="79.67" y="571.35">20.2</text>
<text x="97.01" y="571.35">20.2</text>
<text x="114.35" y="571.35">20.2</text>
<text x="131.69" y="571.35">20.3</text>
<text x="149.02" y="571.35">19.2</text>
<text x="166.36" y="571.35">19.2</text>
<text x="45.00" y="588.65">16.6</text>
<text x="62.34" y="588.65">20.1</text>
<text x="79.67" y="588.65">20.3</text>
<text x="97.01" y="588.65">20.5</text>
<text x="114.35" y="588.65">20.4</text>
<text x="131.69" y="588.65">20.5</text>
<text x="149.02" y="588.65">19.8</text>
<text x="166.36" y="588.65">19.2</text>
<text x="45.00" y="605.95">17.3</text>
<text x="62.34" y="605.95">20.0</text>
<text x="79.67" y="605.95">20.2</text>
<text x="97.01" y="605.95">20.3</text>
<text x="114.35" y="605.95">20.3</text>
<text x="131.69" y="605.95">20.6</text>
<text x="149.02" y="605.95">19.9</text>
<text x="166.36" y="605.95">19.5</text>
<text x="45.00" y="623.25">17.1</text>
<text x="62.34" y="623.25">19.9</text>
<text x="79.67" y="623.25">20.5</text>
<text x="97.01" y="623.25">20.2</text>
<text x="114.35" y="623.25">20.1</text>
<text x="131.69" y="623.25">20.6</text>
<text x="149.02" y="623.25">20.4</text>
<text x="166.36" y="623.25">20.3</text>
<text x="45.00" y="640.55">17.0</text>
<text x="62.34" y="640.55">18.6</text>
<text x="79.67" y="640.55">19.2</text>
<text x="97.01" y="640.55">19.8</text>
<text x="114.35" y="640.55">20.3</text>
<text x="131.69" y="640.55">20.7</text>
<text x="149.02" y="640.55">20.4</text>
<text x="166.36" y="640.55">20.3</text>
<text x="45.00" y="657.85">17.0</text>
<text x="62.34" y="657.85">19.2</text>
<text x="79.67" y="657.85">19.5</text>
<text x="97.01" y="657.85">19.4</text>
<text x="114.35" y="657.85">20.0</text>
<text x="131.69" y="657.85">20.4</text>
<text x="149.02" y="657.85">20.5</text>
<text x="166.36" y="657.85">20.6</text>
<text x="45.00" y="675.15">16.7</text>
<text x="62.34" y="675.15">18.2</text>
<text x="79.67" y="675.15">19.1</text>
<text x="97.01" y="675.15">19.1</text>
<text x="114.35" y="675.15">20.0</text>
<text x="131.69" y="675.15">20.0</text>
<text x="149.02" y="675.15">20.7</text>
<text x="166.36" y="675.15">20.2</text>
</g>
<g font-size="6.15" text-anchor="end">
<line x1="42.40" x2="44.80" y1="519.80" y2="519.80" stroke="#000" stroke-width="0.6"/>
<text x="39.90" y="522.10">0.99</text>
<line x1="42.40" x2="44.80" y1="537.10" y2="537.10" stroke="#000" stroke-width="0.6"/>
<text x="39.90" y="539.40">0.98</text>
<line x1="42.40" x2="44.80" y1="554.40" y2="554.40" stroke="#000" stroke-width="0.6"/>
<text x="39.90" y="556.70">0.95</text>
<line x1="42.40" x2="44.80" y1="571.70" y2="571.70" stroke="#000" stroke-width="0.6"/>
<text x="39.90" y="574.00">0.9</text>
<line x1="42.40" x2="44.80" y1="589.00" y2="589.00" stroke="#000" stroke-width="0.6"/>
<text x="39.90" y="591.30">0.8</text>
<line x1="42.40" x2="44.80" y1="606.30" y2="606.30" stroke="#000" stroke-width="0.6"/>
<text x="39.90" y="608.60">0.7</text>
<line x1="42.40" x2="44.80" y1="623.60" y2="623.60" stroke="#000" stroke-width="0.6"/>
<text x="39.90" y="625.90">0.6</text>
<line x1="42.40" x2="44.80" y1="640.90" y2="640.90" stroke="#000" stroke-width="0.6"/>
<text x="39.90" y="643.20">0.5</text>
<line x1="42.40" x2="44.80" y1="658.20" y2="658.20" stroke="#000" stroke-width="0.6"/>
<text x="39.90" y="660.50">0.4</text>
<line x1="42.40" x2="44.80" y1="675.50" y2="675.50" stroke="#000" stroke-width="0.6"/>
<text x="39.90" y="677.80">0.35</text>
</g>
<g font-size="6.15" text-anchor="middle">
<line x1="53.47" x2="53.47" y1="684.00" y2="686.40" stroke="#000" stroke-width="0.6"/>
<text x="53.37" y="693.40">1</text>
<line x1="70.81" x2="70.81" y1="684.00" y2="686.40" stroke="#000" stroke-width="0.6"/>
<text x="70.71" y="693.40">2</text>
<line x1="88.14" x2="88.14" y1="684.00" y2="686.40" stroke="#000" stroke-width="0.6"/>
<text x="88.04" y="693.40">3</text>
<line x1="105.48" x2="105.48" y1="684.00" y2="686.40" stroke="#000" stroke-width="0.6"/>
<text x="105.38" y="693.40">4</text>
<line x1="122.82" x2="122.82" y1="684.00" y2="686.40" stroke="#000" stroke-width="0.6"/>
<text x="122.72" y="693.40">5</text>
<line x1="140.16" x2="140.16" y1="684.00" y2="686.40" stroke="#000" stroke-width="0.6"/>
<text x="140.06" y="693.40">6</text>
<line x1="157.49" x2="157.49" y1="684.00" y2="686.40" stroke="#000" stroke-width="0.6"/>
<text x="157.39" y="693.40">7</text>
<line x1="174.83" x2="174.83" y1="684.00" y2="686.40" stroke="#000" stroke-width="0.6"/>
<text x="174.73" y="693.40">8</text>
</g>
<text x="114.15" y="506.90" font-size="9.1" text-anchor="middle">Optimal Cut=21</text>
<text x="114.05" y="704.00" font-size="8.95" text-anchor="middle">#Layers</text>
<text transform="translate(21.40,598.40) rotate(-90)" font-size="8.95" text-anchor="middle">Step-size</text>
<rect x="186.20" y="514.00" width="5.6" height="5.6" rx="1.7" fill="#fff" stroke="#d4d4d4" stroke-width="0.5"/>
<rect x="195.20" y="511.00" width="8.60" height="173.00" fill="url(#vg)" stroke="#111" stroke-width="0.45"/>
<g font-size="6.15">
<line x1="203.80" x2="206.20" y1="671.19" y2="671.19" stroke="#000" stroke-width="0.6"/>
<text x="208.50" y="673.89">16</text>
<line x1="203.80" x2="206.20" y1="639.15" y2="639.15" stroke="#000" stroke-width="0.6"/>
<text x="208.50" y="641.85">17</text>
<line x1="203.80" x2="206.20" y1="607.11" y2="607.11" stroke="#000" stroke-width="0.6"/>
<text x="208.50" y="609.81">18</text>
<line x1="203.80" x2="206.20" y1="575.07" y2="575.07" stroke="#000" stroke-width="0.6"/>
<text x="208.50" y="577.77">19</text>
<line x1="203.80" x2="206.20" y1="543.04" y2="543.04" stroke="#000" stroke-width="0.6"/>
<text x="208.50" y="545.74">20</text>
<line x1="203.80" x2="206.20" y1="511.00" y2="511.00" stroke="#000" stroke-width="0.6"/>
<text x="208.50" y="513.70">21</text>
</g>
<text x="115.23" y="723.40" font-size="11.25" text-anchor="middle">16 nodes</text>
</g>
<g>
<rect x="271.85" y="511.00" width="18.34" height="18.30" fill="#41498d"/>
<rect x="289.19" y="511.00" width="18.34" height="18.30" fill="#94dd58"/>
<rect x="306.53" y="511.00" width="18.34" height="18.30" fill="#d3ea2e"/>
<rect x="323.86" y="511.00" width="18.34" height="18.30" fill="#c7e932"/>
<rect x="341.20" y="511.00" width="18.34" height="18.30" fill="#a4e24b"/>
<rect x="358.54" y="511.00" width="18.34" height="18.30" fill="#53bb82"/>
<rect x="375.88" y="511.00" width="18.34" height="18.30" fill="#42668c"/>
<rect x="393.21" y="511.00" width="17.34" height="18.30" fill="#43698c"/>
<rect x="271.85" y="528.30" width="18.34" height="18.30" fill="#40538d"/>
<rect x="289.19" y="528.30" width="18.34" height="18.30" fill="#74d16f"/>
<rect x="306.53" y="528.30" width="18.34" height="18.30" fill="#cdea2f"/>
<rect x="323.86" y="528.30" width="18.34" height="18.30" fill="#deeb30"/>
<rect x="341.20" y="528.30" width="18.34" height="18.30" fill="#b5e63d"/>
<rect x="358.54" y="528.30" width="18.34" height="18.30" fill="#88d961"/>
<rect x="375.88" y="528.30" width="18.34" height="18.30" fill="#448e8d"/>
<rect x="393.21" y="528.30" width="17.34" height="18.30" fill="#44738c"/>
<rect x="271.85" y="545.60" width="18.34" height="18.30" fill="#41578c"/>
<rect x="289.19" y="545.60" width="18.34" height="18.30" fill="#83d765"/>
<rect x="306.53" y="545.60" width="18.34" height="18.30" fill="#d8eb2e"/>
<rect x="323.86" y="545.60" width="18.34" height="18.30" fill="#e9ec37"/>
<rect x="341.20" y="545.60" width="18.34" height="18.30" fill="#bae73a"/>
<rect x="358.54" y="545.60" width="18.34" height="18.30" fill="#6fcf72"/>
<rect x="375.88" y="545.60" width="18.34" height="18.30" fill="#459f8c"/>
<rect x="393.21" y="545.60" width="17.34" height="18.30" fill="#44738c"/>
<rect x="271.85" y="562.90" width="18.34" height="18.30" fill="#41498d"/>
<rect x="289.19" y="562.90" width="18.34" height="18.30" fill="#4bb287"/>
<rect x="306.53" y="562.90" width="18.34" height="18.30" fill="#bae73a"/>
<rect x="323.86" y="562.90" width="18.34" height="18.30" fill="#e3ec33"/>
<rect x="341.20" y="562.90" width="18.34" height="18.30" fill="#d3ea2e"/>
<rect x="358.54" y="562.90" width="18.34" height="18.30" fill="#afe542"/>
<rect x="375.88" y="562.90" width="18.34" height="18.30" fill="#44948d"/>
<rect x="393.21" y="562.90" width="17.34" height="18.30" fill="#43698c"/>
<rect x="271.85" y="580.20" width="18.34" height="18.30" fill="#404c8d"/>
<rect x="289.19" y="580.20" width="18.34" height="18.30" fill="#79d36b"/>
<rect x="306.53" y="580.20" width="18.34" height="18.30" fill="#cdea2f"/>
<rect x="323.86" y="580.20" width="18.34" height="18.30" fill="#c7e932"/>
<rect x="341.20" y="580.20" width="18.34" height="18.30" fill="#e3ec33"/>
<rect x="358.54" y="580.20" width="18.34" height="18.30" fill="#d8eb2e"/>
<rect x="375.88" y="580.20" width="18.34" height="18.30" fill="#9fe14f"/>
<rect x="393.21" y="580.20" width="17.34" height="18.30" fill="#44918d"/>
<rect x="271.85" y="597.50" width="18.34" height="18.30" fill="#41578c"/>
<rect x="289.19" y="597.50" width="18.34" height="18.30" fill="#53bb82"/>
<rect x="306.53" y="597.50" width="18.34" height="18.30" fill="#bae73a"/>
<rect x="323.86" y="597.50" width="18.34" height="18.30" fill="#d3ea2e"/>
<rect x="341.20" y="597.50" width="18.34" height="18.30" fill="#deeb30"/>
<rect x="358.54" y="597.50" width="18.34" height="18.30" fill="#e3ec33"/>
<rect x="375.88" y="597.50" width="18.34" height="18.30" fill="#c7e932"/>
<rect x="393.21" y="597.50" width="17.34" height="18.30" fill="#88d961"/>
<rect x="271.85" y="614.80" width="18.34" height="18.30" fill="#40508d"/>
<rect x="289.19" y="614.80" width="18.34" height="18.30" fill="#48ac89"/>
<rect x="306.53" y="614.80" width="18.34" height="18.30" fill="#c2e835"/>
<rect x="323.86" y="614.80" width="35.68" height="18.30" fill="#deeb30"/>
<rect x="358.54" y="614.80" width="35.67" height="18.30" fill="#cdea2f"/>
<rect x="393.21" y="614.80" width="17.34" height="18.30" fill="#b5e63d"/>
<rect x="271.85" y="632.10" width="18.34" height="18.30" fill="#40508d"/>
<rect x="289.19" y="632.10" width="18.34" height="18.30" fill="#47a98a"/>
<rect x="306.53" y="632.10" width="18.34" height="18.30" fill="#99df53"/>
<rect x="323.86" y="632.10" width="18.34" height="18.30" fill="#a4e24b"/>
<rect x="341.20" y="632.10" width="18.34" height="18.30" fill="#c2e835"/>
<rect x="358.54" y="632.10" width="18.34" height="18.30" fill="#cdea2f"/>
<rect x="375.88" y="632.10" width="18.34" height="18.30" fill="#d3ea2e"/>
<rect x="393.21" y="632.10" width="17.34" height="18.30" fill="#e9ec37"/>
<rect x="271.85" y="649.40" width="18.34" height="18.30" fill="#40538d"/>
<rect x="289.19" y="649.40" width="18.34" height="18.30" fill="#5ac17f"/>
<rect x="306.53" y="649.40" width="18.34" height="18.30" fill="#99df53"/>
<rect x="323.86" y="649.40" width="18.34" height="18.30" fill="#aae346"/>
<rect x="341.20" y="649.40" width="18.34" height="18.30" fill="#b5e63d"/>
<rect x="358.54" y="649.40" width="18.34" height="18.30" fill="#d3ea2e"/>
<rect x="375.88" y="649.40" width="18.34" height="18.30" fill="#d8eb2e"/>
<rect x="393.21" y="649.40" width="17.34" height="18.30" fill="#e3ec33"/>
<rect x="271.85" y="666.70" width="18.34" height="17.30" fill="#472c83"/>
<rect x="289.19" y="666.70" width="18.34" height="17.30" fill="#4bb287"/>
<rect x="306.53" y="666.70" width="18.34" height="17.30" fill="#9fe14f"/>
<rect x="323.86" y="666.70" width="18.34" height="17.30" fill="#afe542"/>
<rect x="341.20" y="666.70" width="18.34" height="17.30" fill="#b5e63d"/>
<rect x="358.54" y="666.70" width="18.34" height="17.30" fill="#bae73a"/>
<rect x="375.88" y="666.70" width="18.34" height="17.30" fill="#deeb30"/>
<rect x="393.21" y="666.70" width="17.34" height="17.30" fill="#e3ec33"/>
<rect x="271.85" y="511.00" width="138.70" height="173.00" fill="none" stroke="#111" stroke-width="0.45"/>
<g font-size="6.2" fill="#111">
<text x="272.05" y="519.45">17.6</text>
<text x="289.39" y="519.45">22.4</text>
<text x="306.73" y="519.45">23.5</text>
<text x="324.06" y="519.45">23.3</text>
<text x="341.40" y="519.45">22.7</text>
<text x="358.74" y="519.45">21.0</text>
<text x="376.07" y="519.45">18.4</text>
<text x="393.41" y="519.45">18.5</text>
<text x="272.05" y="536.75">17.9</text>
<text x="289.39" y="536.75">21.8</text>
<text x="306.73" y="536.75">23.4</text>
<text x="324.06" y="536.75">23.7</text>
<text x="341.40" y="536.75">23.0</text>
<text x="358.74" y="536.75">22.2</text>
<text x="376.07" y="536.75">19.6</text>
<text x="393.41" y="536.75">18.8</text>
<text x="272.05" y="554.05">18.0</text>
<text x="289.39" y="554.05">22.1</text>
<text x="306.73" y="554.05">23.6</text>
<text x="324.06" y="554.05">23.9</text>
<text x="341.40" y="554.05">23.1</text>
<text x="358.74" y="554.05">21.7</text>
<text x="376.07" y="554.05">20.1</text>
<text x="393.41" y="554.05">18.8</text>
<text x="272.05" y="571.35">17.6</text>
<text x="289.39" y="571.35">20.7</text>
<text x="306.73" y="571.35">23.1</text>
<text x="324.06" y="571.35">23.8</text>
<text x="341.40" y="571.35">23.5</text>
<text x="358.74" y="571.35">22.9</text>
<text x="376.07" y="571.35">19.8</text>
<text x="393.41" y="571.35">18.5</text>
<text x="272.05" y="588.65">17.7</text>
<text x="289.39" y="588.65">21.9</text>
<text x="306.73" y="588.65">23.4</text>
<text x="324.06" y="588.65">23.3</text>
<text x="341.40" y="588.65">23.8</text>
<text x="358.74" y="588.65">23.6</text>
<text x="376.07" y="588.65">22.6</text>
<text x="393.41" y="588.65">19.7</text>
<text x="272.05" y="605.95">18.0</text>
<text x="289.39" y="605.95">21.0</text>
<text x="306.73" y="605.95">23.1</text>
<text x="324.06" y="605.95">23.5</text>
<text x="341.40" y="605.95">23.7</text>
<text x="358.74" y="605.95">23.8</text>
<text x="376.07" y="605.95">23.3</text>
<text x="393.41" y="605.95">22.2</text>
<text x="272.05" y="623.25">17.8</text>
<text x="289.39" y="623.25">20.5</text>
<text x="306.73" y="623.25">23.2</text>
<text x="324.06" y="623.25">23.7</text>
<text x="341.40" y="623.25">23.7</text>
<text x="358.74" y="623.25">23.4</text>
<text x="376.07" y="623.25">23.4</text>
<text x="393.41" y="623.25">23.0</text>
<text x="272.05" y="640.55">17.8</text>
<text x="289.39" y="640.55">20.4</text>
<text x="306.73" y="640.55">22.5</text>
<text x="324.06" y="640.55">22.7</text>
<text x="341.40" y="640.55">23.2</text>
<text x="358.74" y="640.55">23.4</text>
<text x="376.07" y="640.55">23.5</text>
<text x="393.41" y="640.55">23.9</text>
<text x="272.05" y="657.85">17.9</text>
<text x="289.39" y="657.85">21.2</text>
<text x="306.73" y="657.85">22.5</text>
<text x="324.06" y="657.85">22.8</text>
<text x="341.40" y="657.85">23.0</text>
<text x="358.74" y="657.85">23.5</text>
<text x="376.07" y="657.85">23.6</text>
<text x="393.41" y="657.85">23.8</text>
<text x="272.05" y="675.15">16.8</text>
<text x="289.39" y="675.15">20.7</text>
<text x="306.73" y="675.15">22.6</text>
<text x="324.06" y="675.15">22.9</text>
<text x="341.40" y="675.15">23.0</text>
<text x="358.74" y="675.15">23.1</text>
<text x="376.07" y="675.15">23.7</text>
<text x="393.41" y="675.15">23.8</text>
</g>
<g font-size="6.15" text-anchor="end">
<line x1="269.45" x2="271.85" y1="519.80" y2="519.80" stroke="#000" stroke-width="0.6"/>
<text x="266.95" y="522.10">0.99</text>
<line x1="269.45" x2="271.85" y1="537.10" y2="537.10" stroke="#000" stroke-width="0.6"/>
<text x="266.95" y="539.40">0.98</text>
<line x1="269.45" x2="271.85" y1="554.40" y2="554.40" stroke="#000" stroke-width="0.6"/>
<text x="266.95" y="556.70">0.95</text>
<line x1="269.45" x2="271.85" y1="571.70" y2="571.70" stroke="#000" stroke-width="0.6"/>
<text x="266.95" y="574.00">0.9</text>
<line x1="269.45" x2="271.85" y1="589.00" y2="589.00" stroke="#000" stroke-width="0.6"/>
<text x="266.95" y="591.30">0.8</text>
<line x1="269.45" x2="271.85" y1="606.30" y2="606.30" stroke="#000" stroke-width="0.6"/>
<text x="266.95" y="608.60">0.7</text>
<line x1="269.45" x2="271.85" y1="623.60" y2="623.60" stroke="#000" stroke-width="0.6"/>
<text x="266.95" y="625.90">0.6</text>
<line x1="269.45" x2="271.85" y1="640.90" y2="640.90" stroke="#000" stroke-width="0.6"/>
<text x="266.95" y="643.20">0.5</text>
<line x1="269.45" x2="271.85" y1="658.20" y2="658.20" stroke="#000" stroke-width="0.6"/>
<text x="266.95" y="660.50">0.4</text>
<line x1="269.45" x2="271.85" y1="675.50" y2="675.50" stroke="#000" stroke-width="0.6"/>
<text x="266.95" y="677.80">0.35</text>
</g>
<g font-size="6.15" text-anchor="middle">
<line x1="280.52" x2="280.52" y1="684.00" y2="686.40" stroke="#000" stroke-width="0.6"/>
<text x="280.42" y="693.40">1</text>
<line x1="297.86" x2="297.86" y1="684.00" y2="686.40" stroke="#000" stroke-width="0.6"/>
<text x="297.76" y="693.40">2</text>
<line x1="315.19" x2="315.19" y1="684.00" y2="686.40" stroke="#000" stroke-width="0.6"/>
<text x="315.09" y="693.40">3</text>
<line x1="332.53" x2="332.53" y1="684.00" y2="686.40" stroke="#000" stroke-width="0.6"/>
<text x="332.43" y="693.40">4</text>
<line x1="349.87" x2="349.87" y1="684.00" y2="686.40" stroke="#000" stroke-width="0.6"/>
<text x="349.77" y="693.40">5</text>
<line x1="367.21" x2="367.21" y1="684.00" y2="686.40" stroke="#000" stroke-width="0.6"/>
<text x="367.11" y="693.40">6</text>
<line x1="384.54" x2="384.54" y1="684.00" y2="686.40" stroke="#000" stroke-width="0.6"/>
<text x="384.44" y="693.40">7</text>
<line x1="401.88" x2="401.88" y1="684.00" y2="686.40" stroke="#000" stroke-width="0.6"/>
<text x="401.78" y="693.40">8</text>
</g>
<text x="341.20" y="506.90" font-size="9.1" text-anchor="middle">Optimal Cut=24</text>
<text x="341.10" y="704.00" font-size="8.95" text-anchor="middle">#Layers</text>
<text transform="translate(248.45,598.40) rotate(-90)" font-size="8.95" text-anchor="middle">Step-size</text>
<rect x="413.25" y="514.00" width="5.6" height="5.6" rx="1.7" fill="#fff" stroke="#d4d4d4" stroke-width="0.5"/>
<rect x="422.25" y="511.00" width="8.60" height="173.00" fill="url(#vg)" stroke="#111" stroke-width="0.45"/>
<g font-size="6.15">
<line x1="430.85" x2="433.25" y1="679.78" y2="679.78" stroke="#000" stroke-width="0.6"/>
<text x="435.55" y="682.48">16</text>
<line x1="430.85" x2="433.25" y1="658.68" y2="658.68" stroke="#000" stroke-width="0.6"/>
<text x="435.55" y="661.38">17</text>
<line x1="430.85" x2="433.25" y1="637.59" y2="637.59" stroke="#000" stroke-width="0.6"/>
<text x="435.55" y="640.29">18</text>
<line x1="430.85" x2="433.25" y1="616.49" y2="616.49" stroke="#000" stroke-width="0.6"/>
<text x="435.55" y="619.19">19</text>
<line x1="430.85" x2="433.25" y1="595.39" y2="595.39" stroke="#000" stroke-width="0.6"/>
<text x="435.55" y="598.09">20</text>
<line x1="430.85" x2="433.25" y1="574.29" y2="574.29" stroke="#000" stroke-width="0.6"/>
<text x="435.55" y="576.99">21</text>
<line x1="430.85" x2="433.25" y1="553.20" y2="553.20" stroke="#000" stroke-width="0.6"/>
<text x="435.55" y="555.90">22</text>
<line x1="430.85" x2="433.25" y1="532.10" y2="532.10" stroke="#000" stroke-width="0.6"/>
<text x="435.55" y="534.80">23</text>
<line x1="430.85" x2="433.25" y1="511.00" y2="511.00" stroke="#000" stroke-width="0.6"/>
<text x="435.55" y="513.70">24</text>
</g>
<text x="342.35" y="723.40" font-size="11.25" text-anchor="middle">18 nodes</text>
</g>
<g>
<rect x="498.90" y="511.00" width="18.34" height="18.30" fill="#42448c"/>
<rect x="516.24" y="511.00" width="18.34" height="18.30" fill="#92dd59"/>
<rect x="533.58" y="511.00" width="18.34" height="18.30" fill="#c0e836"/>
<rect x="550.91" y="511.00" width="18.34" height="18.30" fill="#c6e933"/>
<rect x="568.25" y="511.00" width="18.34" height="18.30" fill="#ade443"/>
<rect x="585.59" y="511.00" width="18.34" height="18.30" fill="#4cb387"/>
<rect x="602.93" y="511.00" width="18.34" height="18.30" fill="#447d8d"/>
<rect x="620.26" y="511.00" width="17.34" height="18.30" fill="#415f8c"/>
<rect x="498.90" y="528.30" width="18.34" height="18.30" fill="#41488d"/>
<rect x="516.24" y="528.30" width="18.34" height="18.30" fill="#7ed568"/>
<rect x="533.58" y="528.30" width="18.34" height="18.30" fill="#c6e933"/>
<rect x="550.91" y="528.30" width="18.34" height="18.30" fill="#c0e836"/>
<rect x="568.25" y="528.30" width="18.34" height="18.30" fill="#a1e14e"/>
<rect x="585.59" y="528.30" width="18.34" height="18.30" fill="#44888d"/>
<rect x="602.93" y="528.30" width="18.34" height="18.30" fill="#44858d"/>
<rect x="620.26" y="528.30" width="17.34" height="18.30" fill="#44788d"/>
<rect x="498.90" y="545.60" width="18.34" height="18.30" fill="#48247d"/>
<rect x="516.24" y="545.60" width="18.34" height="18.30" fill="#6acb75"/>
<rect x="533.58" y="545.60" width="18.34" height="18.30" fill="#d3ea2e"/>
<rect x="550.91" y="545.60" width="18.34" height="18.30" fill="#c9e931"/>
<rect x="568.25" y="545.60" width="18.34" height="18.30" fill="#7ed568"/>
<rect x="585.59" y="545.60" width="18.34" height="18.30" fill="#56be81"/>
<rect x="602.93" y="545.60" width="18.34" height="18.30" fill="#44728c"/>
<rect x="620.26" y="545.60" width="17.34" height="18.30" fill="#44828d"/>
<rect x="498.90" y="562.90" width="18.34" height="18.30" fill="#42448c"/>
<rect x="516.24" y="562.90" width="18.34" height="18.30" fill="#6acb75"/>
<rect x="533.58" y="562.90" width="18.34" height="18.30" fill="#c6e933"/>
<rect x="550.91" y="562.90" width="35.68" height="18.30" fill="#b7e63c"/>
<rect x="585.59" y="562.90" width="18.34" height="18.30" fill="#7ed568"/>
<rect x="602.93" y="562.90" width="18.34" height="18.30" fill="#448d8d"/>
<rect x="620.26" y="562.90" width="17.34" height="18.30" fill="#44728c"/>
<rect x="498.90" y="580.20" width="18.34" height="18.30" fill="#463387"/>
<rect x="516.24" y="580.20" width="18.34" height="18.30" fill="#7ed568"/>
<rect x="533.58" y="580.20" width="18.34" height="18.30" fill="#bce738"/>
<rect x="550.91" y="580.20" width="18.34" height="18.30" fill="#e1ec32"/>
<rect x="568.25" y="580.20" width="18.34" height="18.30" fill="#b3e53f"/>
<rect x="585.59" y="580.20" width="18.34" height="18.30" fill="#92dd59"/>
<rect x="602.93" y="580.20" width="18.34" height="18.30" fill="#4fb885"/>
<rect x="620.26" y="580.20" width="17.34" height="18.30" fill="#4ab088"/>
<rect x="498.90" y="597.50" width="18.34" height="18.30" fill="#40538d"/>
<rect x="516.24" y="597.50" width="18.34" height="18.30" fill="#71cf71"/>
<rect x="533.58" y="597.50" width="18.34" height="18.30" fill="#a4e24b"/>
<rect x="550.91" y="597.50" width="18.34" height="18.30" fill="#c0e836"/>
<rect x="568.25" y="597.50" width="18.34" height="18.30" fill="#b3e53f"/>
<rect x="585.59" y="597.50" width="18.34" height="18.30" fill="#cfea2f"/>
<rect x="602.93" y="597.50" width="18.34" height="18.30" fill="#92dd59"/>
<rect x="620.26" y="597.50" width="17.34" height="18.30" fill="#79d36b"/>
<rect x="498.90" y="614.80" width="18.34" height="18.30" fill="#453689"/>
<rect x="516.24" y="614.80" width="18.34" height="18.30" fill="#54bc82"/>
<rect x="533.58" y="614.80" width="18.34" height="18.30" fill="#81d766"/>
<rect x="550.91" y="614.80" width="35.68" height="18.30" fill="#c6e933"/>
<rect x="585.59" y="614.80" width="18.34" height="18.30" fill="#b3e53f"/>
<rect x="602.93" y="614.80" width="18.34" height="18.30" fill="#d8eb2e"/>
<rect x="620.26" y="614.80" width="17.34" height="18.30" fill="#ade443"/>
<rect x="498.90" y="632.10" width="18.34" height="18.30" fill="#453689"/>
<rect x="516.24" y="632.10" width="18.34" height="18.30" fill="#60c57b"/>
<rect x="533.58" y="632.10" width="18.34" height="18.30" fill="#aae346"/>
<rect x="550.91" y="632.10" width="18.34" height="18.30" fill="#9be052"/>
<rect x="568.25" y="632.10" width="18.34" height="18.30" fill="#bce738"/>
<rect x="585.59" y="632.10" width="18.34" height="18.30" fill="#dceb2f"/>
<rect x="602.93" y="632.10" width="18.34" height="18.30" fill="#c6e933"/>
<rect x="620.26" y="632.10" width="17.34" height="18.30" fill="#cfea2f"/>
<rect x="498.90" y="649.40" width="18.34" height="18.30" fill="#44398a"/>
<rect x="516.24" y="649.40" width="18.34" height="18.30" fill="#56be81"/>
<rect x="533.58" y="649.40" width="18.34" height="18.30" fill="#81d766"/>
<rect x="550.91" y="649.40" width="18.34" height="18.30" fill="#a1e14e"/>
<rect x="568.25" y="649.40" width="18.34" height="18.30" fill="#ade443"/>
<rect x="585.59" y="649.40" width="18.34" height="18.30" fill="#b7e63c"/>
<rect x="602.93" y="649.40" width="18.34" height="18.30" fill="#b3e53f"/>
<rect x="620.26" y="649.40" width="17.34" height="18.30" fill="#d8eb2e"/>
<rect x="498.90" y="666.70" width="18.34" height="17.30" fill="#41488d"/>
<rect x="516.24" y="666.70" width="18.34" height="17.30" fill="#4db586"/>
<rect x="533.58" y="666.70" width="18.34" height="17.30" fill="#8fdc5c"/>
<rect x="550.91" y="666.70" width="18.34" height="17.30" fill="#7ed568"/>
<rect x="568.25" y="666.70" width="18.34" height="17.30" fill="#cfea2f"/>
<rect x="585.59" y="666.70" width="18.34" height="17.30" fill="#a1e14e"/>
<rect x="602.93" y="666.70" width="18.34" height="17.30" fill="#bce738"/>
<rect x="620.26" y="666.70" width="17.34" height="17.30" fill="#c0e836"/>
<rect x="498.90" y="511.00" width="138.70" height="173.00" fill="none" stroke="#111" stroke-width="0.45"/>
<g font-size="6.2" fill="#111">
<text x="499.10" y="519.45">18.9</text>
<text x="516.44" y="519.45">25.0</text>
<text x="533.78" y="519.45">26.0</text>
<text x="551.11" y="519.45">26.1</text>
<text x="568.45" y="519.45">25.6</text>
<text x="585.79" y="519.45">22.9</text>
<text x="603.13" y="519.45">20.9</text>
<text x="620.46" y="519.45">19.8</text>
<text x="499.10" y="536.75">19.0</text>
<text x="516.44" y="536.75">24.5</text>
<text x="533.78" y="536.75">26.1</text>
<text x="551.11" y="536.75">26.0</text>
<text x="568.45" y="536.75">25.3</text>
<text x="585.79" y="536.75">21.3</text>
<text x="603.13" y="536.75">21.2</text>
<text x="620.46" y="536.75">20.7</text>
<text x="499.10" y="554.05">17.8</text>
<text x="516.44" y="554.05">24.0</text>
<text x="533.78" y="554.05">26.4</text>
<text x="551.11" y="554.05">26.2</text>
<text x="568.45" y="554.05">24.5</text>
<text x="585.79" y="554.05">23.4</text>
<text x="603.13" y="554.05">20.5</text>
<text x="620.46" y="554.05">21.1</text>
<text x="499.10" y="571.35">18.9</text>
<text x="516.44" y="571.35">24.0</text>
<text x="533.78" y="571.35">26.1</text>
<text x="551.11" y="571.35">25.8</text>
<text x="568.45" y="571.35">25.8</text>
<text x="585.79" y="571.35">24.5</text>
<text x="603.13" y="571.35">21.5</text>
<text x="620.46" y="571.35">20.5</text>
<text x="499.10" y="588.65">18.3</text>
<text x="516.44" y="588.65">24.5</text>
<text x="533.78" y="588.65">25.9</text>
<text x="551.11" y="588.65">26.7</text>
<text x="568.45" y="588.65">25.7</text>
<text x="585.79" y="588.65">25.0</text>
<text x="603.13" y="588.65">23.1</text>
<text x="620.46" y="588.65">22.8</text>
<text x="499.10" y="605.95">19.4</text>
<text x="516.44" y="605.95">24.2</text>
<text x="533.78" y="605.95">25.4</text>
<text x="551.11" y="605.95">26.0</text>
<text x="568.45" y="605.95">25.7</text>
<text x="585.79" y="605.95">26.3</text>
<text x="603.13" y="605.95">25.0</text>
<text x="620.46" y="605.95">24.4</text>
<text x="499.10" y="623.25">18.4</text>
<text x="516.44" y="623.25">23.3</text>
<text x="533.78" y="623.25">24.6</text>
<text x="551.11" y="623.25">26.1</text>
<text x="568.45" y="623.25">26.1</text>
<text x="585.79" y="623.25">25.7</text>
<text x="603.13" y="623.25">26.5</text>
<text x="620.46" y="623.25">25.6</text>
<text x="499.10" y="640.55">18.4</text>
<text x="516.44" y="640.55">23.7</text>
<text x="533.78" y="640.55">25.5</text>
<text x="551.11" y="640.55">25.2</text>
<text x="568.45" y="640.55">25.9</text>
<text x="585.79" y="640.55">26.6</text>
<text x="603.13" y="640.55">26.1</text>
<text x="620.46" y="640.55">26.3</text>
<text x="499.10" y="657.85">18.5</text>
<text x="516.44" y="657.85">23.4</text>
<text x="533.78" y="657.85">24.6</text>
<text x="551.11" y="657.85">25.3</text>
<text x="568.45" y="657.85">25.6</text>
<text x="585.79" y="657.85">25.8</text>
<text x="603.13" y="657.85">25.7</text>
<text x="620.46" y="657.85">26.5</text>
<text x="499.10" y="675.15">19.0</text>
<text x="516.44" y="675.15">23.0</text>
<text x="533.78" y="675.15">24.9</text>
<text x="551.11" y="675.15">24.5</text>
<text x="568.45" y="675.15">26.3</text>
<text x="585.79" y="675.15">25.3</text>
<text x="603.13" y="675.15">25.9</text>
<text x="620.46" y="675.15">26.0</text>
</g>
<g font-size="6.15" text-anchor="end">
<line x1="496.50" x2="498.90" y1="519.80" y2="519.80" stroke="#000" stroke-width="0.6"/>
<text x="494.00" y="522.10">0.99</text>
<line x1="496.50" x2="498.90" y1="537.10" y2="537.10" stroke="#000" stroke-width="0.6"/>
<text x="494.00" y="539.40">0.98</text>
<line x1="496.50" x2="498.90" y1="554.40" y2="554.40" stroke="#000" stroke-width="0.6"/>
<text x="494.00" y="556.70">0.95</text>
<line x1="496.50" x2="498.90" y1="571.70" y2="571.70" stroke="#000" stroke-width="0.6"/>
<text x="494.00" y="574.00">0.9</text>
<line x1="496.50" x2="498.90" y1="589.00" y2="589.00" stroke="#000" stroke-width="0.6"/>
<text x="494.00" y="591.30">0.8</text>
<line x1="496.50" x2="498.90" y1="606.30" y2="606.30" stroke="#000" stroke-width="0.6"/>
<text x="494.00" y="608.60">0.7</text>
<line x1="496.50" x2="498.90" y1="623.60" y2="623.60" stroke="#000" stroke-width="0.6"/>
<text x="494.00" y="625.90">0.6</text>
<line x1="496.50" x2="498.90" y1="640.90" y2="640.90" stroke="#000" stroke-width="0.6"/>
<text x="494.00" y="643.20">0.5</text>
<line x1="496.50" x2="498.90" y1="658.20" y2="658.20" stroke="#000" stroke-width="0.6"/>
<text x="494.00" y="660.50">0.4</text>
<line x1="496.50" x2="498.90" y1="675.50" y2="675.50" stroke="#000" stroke-width="0.6"/>
<text x="494.00" y="677.80">0.35</text>
</g>
<g font-size="6.15" text-anchor="middle">
<line x1="507.57" x2="507.57" y1="684.00" y2="686.40" stroke="#000" stroke-width="0.6"/>
<text x="507.47" y="693.40">1</text>
<line x1="524.91" x2="524.91" y1="684.00" y2="686.40" stroke="#000" stroke-width="0.6"/>
<text x="524.81" y="693.40">2</text>
<line x1="542.24" x2="542.24" y1="684.00" y2="686.40" stroke="#000" stroke-width="0.6"/>
<text x="542.14" y="693.40">3</text>
<line x1="559.58" x2="559.58" y1="684.00" y2="686.40" stroke="#000" stroke-width="0.6"/>
<text x="559.48" y="693.40">4</text>
<line x1="576.92" x2="576.92" y1="684.00" y2="686.40" stroke="#000" stroke-width="0.6"/>
<text x="576.82" y="693.40">5</text>
<line x1="594.26" x2="594.26" y1="684.00" y2="686.40" stroke="#000" stroke-width="0.6"/>
<text x="594.16" y="693.40">6</text>
<line x1="611.59" x2="611.59" y1="684.00" y2="686.40" stroke="#000" stroke-width="0.6"/>
<text x="611.49" y="693.40">7</text>
<line x1="628.93" x2="628.93" y1="684.00" y2="686.40" stroke="#000" stroke-width="0.6"/>
<text x="628.83" y="693.40">8</text>
</g>
<text x="568.25" y="506.90" font-size="9.1" text-anchor="middle">Optimal Cut=27</text>
<text x="568.15" y="704.00" font-size="8.95" text-anchor="middle">#Layers</text>
<text transform="translate(475.50,598.40) rotate(-90)" font-size="8.95" text-anchor="middle">Step-size</text>
<rect x="640.30" y="514.00" width="5.6" height="5.6" rx="1.7" fill="#fff" stroke="#d4d4d4" stroke-width="0.5"/>
<rect x="649.30" y="511.00" width="8.60" height="173.00" fill="url(#vg)" stroke="#111" stroke-width="0.45"/>
<g font-size="6.15">
<line x1="657.90" x2="660.30" y1="663.65" y2="663.65" stroke="#000" stroke-width="0.6"/>
<text x="662.60" y="666.35">18</text>
<line x1="657.90" x2="660.30" y1="629.73" y2="629.73" stroke="#000" stroke-width="0.6"/>
<text x="662.60" y="632.43">20</text>
<line x1="657.90" x2="660.30" y1="595.80" y2="595.80" stroke="#000" stroke-width="0.6"/>
<text x="662.60" y="598.50">22</text>
<line x1="657.90" x2="660.30" y1="561.88" y2="561.88" stroke="#000" stroke-width="0.6"/>
<text x="662.60" y="564.58">24</text>
<line x1="657.90" x2="660.30" y1="527.96" y2="527.96" stroke="#000" stroke-width="0.6"/>
<text x="662.60" y="530.66">26</text>
</g>
<text x="569.23" y="723.40" font-size="11.25" text-anchor="middle">20 nodes</text>
</g>
<g>
<rect x="44.80" y="755.40" width="18.34" height="18.30" fill="#42438c"/>
<rect x="62.14" y="755.40" width="18.34" height="18.30" fill="#90dc5a"/>
<rect x="79.47" y="755.40" width="18.34" height="18.30" fill="#daeb2f"/>
<rect x="96.81" y="755.40" width="18.34" height="18.30" fill="#c6e933"/>
<rect x="114.15" y="755.40" width="18.34" height="18.30" fill="#50b984"/>
<rect x="131.49" y="755.40" width="18.34" height="18.30" fill="#459e8c"/>
<rect x="148.82" y="755.40" width="18.34" height="18.30" fill="#443b8b"/>
<rect x="166.16" y="755.40" width="17.34" height="18.30" fill="#42438c"/>
<rect x="44.80" y="772.70" width="18.34" height="18.30" fill="#44828d"/>
<rect x="62.14" y="772.70" width="18.34" height="18.30" fill="#a4e24b"/>
<rect x="79.47" y="772.70" width="18.34" height="18.30" fill="#c6e933"/>
<rect x="96.81" y="772.70" width="18.34" height="18.30" fill="#c0e836"/>
<rect x="114.15" y="772.70" width="18.34" height="18.30" fill="#96de56"/>
<rect x="131.49" y="772.70" width="18.34" height="18.30" fill="#46a58b"/>
<rect x="148.82" y="772.70" width="18.34" height="18.30" fill="#42408c"/>
<rect x="166.16" y="772.70" width="17.34" height="18.30" fill="#453689"/>
<rect x="44.80" y="790.00" width="18.34" height="18.30" fill="#41488d"/>
<rect x="62.14" y="790.00" width="18.34" height="18.30" fill="#b9e63b"/>
<rect x="79.47" y="790.00" width="18.34" height="18.30" fill="#cdea2f"/>
<rect x="96.81" y="790.00" width="18.34" height="18.30" fill="#c0e836"/>
<rect x="114.15" y="790.00" width="18.34" height="18.30" fill="#90dc5a"/>
<rect x="131.49" y="790.00" width="18.34" height="18.30" fill="#5cc37d"/>
<rect x="148.82" y="790.00" width="18.34" height="18.30" fill="#436a8c"/>
<rect x="166.16" y="790.00" width="17.34" height="18.30" fill="#453689"/>
<rect x="44.80" y="807.30" width="18.34" height="18.30" fill="#463387"/>
<rect x="62.14" y="807.30" width="18.34" height="18.30" fill="#89da60"/>
<rect x="79.47" y="807.30" width="35.68" height="18.30" fill="#d4ea2e"/>
<rect x="114.15" y="807.30" width="18.34" height="18.30" fill="#9de051"/>
<rect x="131.49" y="807.30" width="18.34" height="18.30" fill="#5cc37d"/>
<rect x="148.82" y="807.30" width="18.34" height="18.30" fill="#446f8c"/>
<rect x="166.16" y="807.30" width="17.34" height="18.30" fill="#404c8d"/>
<rect x="44.80" y="824.60" width="18.34" height="18.30" fill="#41488d"/>
<rect x="62.14" y="824.60" width="18.34" height="18.30" fill="#9de051"/>
<rect x="79.47" y="824.60" width="18.34" height="18.30" fill="#e1ec32"/>
<rect x="96.81" y="824.60" width="18.34" height="18.30" fill="#cdea2f"/>
<rect x="114.15" y="824.60" width="18.34" height="18.30" fill="#c0e836"/>
<rect x="131.49" y="824.60" width="18.34" height="18.30" fill="#a4e24b"/>
<rect x="148.82" y="824.60" width="18.34" height="18.30" fill="#4db586"/>
<rect x="166.16" y="824.60" width="17.34" height="18.30" fill="#436a8c"/>
<rect x="44.80" y="841.90" width="18.34" height="18.30" fill="#404c8d"/>
<rect x="62.14" y="841.90" width="18.34" height="18.30" fill="#57bf80"/>
<rect x="79.47" y="841.90" width="18.34" height="18.30" fill="#b1e540"/>
<rect x="96.81" y="841.90" width="18.34" height="18.30" fill="#cdea2f"/>
<rect x="114.15" y="841.90" width="35.67" height="18.30" fill="#daeb2f"/>
<rect x="148.82" y="841.90" width="18.34" height="18.30" fill="#a4e24b"/>
<rect x="166.16" y="841.90" width="17.34" height="18.30" fill="#7cd469"/>
<rect x="44.80" y="859.20" width="18.34" height="18.30" fill="#41488d"/>
<rect x="62.14" y="859.20" width="18.34" height="18.30" fill="#71cf71"/>
<rect x="79.47" y="859.20" width="35.68" height="18.30" fill="#cdea2f"/>
<rect x="114.15" y="859.20" width="35.67" height="18.30" fill="#eeec3c"/>
<rect x="148.82" y="859.20" width="18.34" height="18.30" fill="#d4ea2e"/>
<rect x="166.16" y="859.20" width="17.34" height="18.30" fill="#b1e540"/>
<rect x="44.80" y="876.50" width="18.34" height="18.30" fill="#463387"/>
<rect x="62.14" y="876.50" width="18.34" height="18.30" fill="#71cf71"/>
<rect x="79.47" y="876.50" width="18.34" height="18.30" fill="#b9e63b"/>
<rect x="96.81" y="876.50" width="18.34" height="18.30" fill="#c6e933"/>
<rect x="114.15" y="876.50" width="18.34" height="18.30" fill="#daeb2f"/>
<rect x="131.49" y="876.50" width="18.34" height="18.30" fill="#d4ea2e"/>
<rect x="148.82" y="876.50" width="18.34" height="18.30" fill="#eeec3c"/>
<rect x="166.16" y="876.50" width="17.34" height="18.30" fill="#e1ec32"/>
<rect x="44.80" y="893.80" width="18.34" height="18.30" fill="#463387"/>
<rect x="62.14" y="893.80" width="18.34" height="18.30" fill="#4db586"/>
<rect x="79.47" y="893.80" width="35.68" height="18.30" fill="#b1e540"/>
<rect x="114.15" y="893.80" width="18.34" height="18.30" fill="#c0e836"/>
<rect x="131.49" y="893.80" width="18.34" height="18.30" fill="#cdea2f"/>
<rect x="148.82" y="893.80" width="18.34" height="18.30" fill="#e9ec37"/>
<rect x="166.16" y="893.80" width="17.34" height="18.30" fill="#daeb2f"/>
<rect x="44.80" y="911.10" width="18.34" height="17.30" fill="#40518d"/>
<rect x="62.14" y="911.10" width="18.34" height="17.30" fill="#50b984"/>
<rect x="79.47" y="911.10" width="18.34" height="17.30" fill="#83d765"/>
<rect x="96.81" y="911.10" width="18.34" height="17.30" fill="#77d26c"/>
<rect x="114.15" y="911.10" width="18.34" height="17.30" fill="#cdea2f"/>
<rect x="131.49" y="911.10" width="18.34" height="17.30" fill="#c6e933"/>
<rect x="148.82" y="911.10" width="18.34" height="17.30" fill="#a4e24b"/>
<rect x="166.16" y="911.10" width="17.34" height="17.30" fill="#e9ec37"/>
<rect x="44.80" y="755.40" width="138.70" height="173.00" fill="none" stroke="#111" stroke-width="0.45"/>
<g font-size="6.2" fill="#111">
<text x="45.00" y="763.85">22.5</text>
<text x="62.34" y="763.85">26.6</text>
<text x="79.67" y="763.85">27.7</text>
<text x="97.01" y="763.85">27.4</text>
<text x="114.35" y="763.85">25.4</text>
<text x="131.69" y="763.85">24.7</text>
<text x="149.02" y="763.85">22.3</text>
<text x="166.36" y="763.85">22.5</text>
<text x="45.00" y="781.15">24.0</text>
<text x="62.34" y="781.15">26.9</text>
<text x="79.67" y="781.15">27.4</text>
<text x="97.01" y="781.15">27.3</text>
<text x="114.35" y="781.15">26.7</text>
<text x="131.69" y="781.15">24.9</text>
<text x="149.02" y="781.15">22.4</text>
<text x="166.36" y="781.15">22.2</text>
<text x="45.00" y="798.45">22.6</text>
<text x="62.34" y="798.45">27.2</text>
<text x="79.67" y="798.45">27.5</text>
<text x="97.01" y="798.45">27.3</text>
<text x="114.35" y="798.45">26.6</text>
<text x="131.69" y="798.45">25.7</text>
<text x="149.02" y="798.45">23.4</text>
<text x="166.36" y="798.45">22.2</text>
<text x="45.00" y="815.75">22.1</text>
<text x="62.34" y="815.75">26.5</text>
<text x="79.67" y="815.75">27.6</text>
<text x="97.01" y="815.75">27.6</text>
<text x="114.35" y="815.75">26.8</text>
<text x="131.69" y="815.75">25.7</text>
<text x="149.02" y="815.75">23.5</text>
<text x="166.36" y="815.75">22.7</text>
<text x="45.00" y="833.05">22.6</text>
<text x="62.34" y="833.05">26.8</text>
<text x="79.67" y="833.05">27.8</text>
<text x="97.01" y="833.05">27.5</text>
<text x="114.35" y="833.05">27.3</text>
<text x="131.69" y="833.05">26.9</text>
<text x="149.02" y="833.05">25.3</text>
<text x="166.36" y="833.05">23.4</text>
<text x="45.00" y="850.35">22.7</text>
<text x="62.34" y="850.35">25.6</text>
<text x="79.67" y="850.35">27.1</text>
<text x="97.01" y="850.35">27.5</text>
<text x="114.35" y="850.35">27.7</text>
<text x="131.69" y="850.35">27.7</text>
<text x="149.02" y="850.35">26.9</text>
<text x="166.36" y="850.35">26.3</text>
<text x="45.00" y="867.65">22.6</text>
<text x="62.34" y="867.65">26.1</text>
<text x="79.67" y="867.65">27.5</text>
<text x="97.01" y="867.65">27.5</text>
<text x="114.35" y="867.65">28.0</text>
<text x="131.69" y="867.65">28.0</text>
<text x="149.02" y="867.65">27.6</text>
<text x="166.36" y="867.65">27.1</text>
<text x="45.00" y="884.95">22.1</text>
<text x="62.34" y="884.95">26.1</text>
<text x="79.67" y="884.95">27.2</text>
<text x="97.01" y="884.95">27.4</text>
<text x="114.35" y="884.95">27.7</text>
<text x="131.69" y="884.95">27.6</text>
<text x="149.02" y="884.95">28.0</text>
<text x="166.36" y="884.95">27.8</text>
<text x="45.00" y="902.25">22.1</text>
<text x="62.34" y="902.25">25.3</text>
<text x="79.67" y="902.25">27.1</text>
<text x="97.01" y="902.25">27.1</text>
<text x="114.35" y="902.25">27.3</text>
<text x="131.69" y="902.25">27.5</text>
<text x="149.02" y="902.25">27.9</text>
<text x="166.36" y="902.25">27.7</text>
<text x="45.00" y="919.55">22.8</text>
<text x="62.34" y="919.55">25.4</text>
<text x="79.67" y="919.55">26.4</text>
<text x="97.01" y="919.55">26.2</text>
<text x="114.35" y="919.55">27.5</text>
<text x="131.69" y="919.55">27.4</text>
<text x="149.02" y="919.55">26.9</text>
<text x="166.36" y="919.55">27.9</text>
</g>
<g font-size="6.15" text-anchor="end">
<line x1="42.40" x2="44.80" y1="764.20" y2="764.20" stroke="#000" stroke-width="0.6"/>
<text x="39.90" y="766.50">0.99</text>
<line x1="42.40" x2="44.80" y1="781.50" y2="781.50" stroke="#000" stroke-width="0.6"/>
<text x="39.90" y="783.80">0.98</text>
<line x1="42.40" x2="44.80" y1="798.80" y2="798.80" stroke="#000" stroke-width="0.6"/>
<text x="39.90" y="801.10">0.95</text>
<line x1="42.40" x2="44.80" y1="816.10" y2="816.10" stroke="#000" stroke-width="0.6"/>
<text x="39.90" y="818.40">0.9</text>
<line x1="42.40" x2="44.80" y1="833.40" y2="833.40" stroke="#000" stroke-width="0.6"/>
<text x="39.90" y="835.70">0.8</text>
<line x1="42.40" x2="44.80" y1="850.70" y2="850.70" stroke="#000" stroke-width="0.6"/>
<text x="39.90" y="853.00">0.7</text>
<line x1="42.40" x2="44.80" y1="868.00" y2="868.00" stroke="#000" stroke-width="0.6"/>
<text x="39.90" y="870.30">0.6</text>
<line x1="42.40" x2="44.80" y1="885.30" y2="885.30" stroke="#000" stroke-width="0.6"/>
<text x="39.90" y="887.60">0.5</text>
<line x1="42.40" x2="44.80" y1="902.60" y2="902.60" stroke="#000" stroke-width="0.6"/>
<text x="39.90" y="904.90">0.4</text>
<line x1="42.40" x2="44.80" y1="919.90" y2="919.90" stroke="#000" stroke-width="0.6"/>
<text x="39.90" y="922.20">0.35</text>
</g>
<g font-size="6.15" text-anchor="middle">
<line x1="53.47" x2="53.47" y1="928.40" y2="930.80" stroke="#000" stroke-width="0.6"/>
<text x="53.37" y="937.80">1</text>
<line x1="70.81" x2="70.81" y1="928.40" y2="930.80" stroke="#000" stroke-width="0.6"/>
<text x="70.71" y="937.80">2</text>
<line x1="88.14" x2="88.14" y1="928.40" y2="930.80" stroke="#000" stroke-width="0.6"/>
<text x="88.04" y="937.80">3</text>
<line x1="105.48" x2="105.48" y1="928.40" y2="930.80" stroke="#000" stroke-width="0.6"/>
<text x="105.38" y="937.80">4</text>
<line x1="122.82" x2="122.82" y1="928.40" y2="930.80" stroke="#000" stroke-width="0.6"/>
<text x="122.72" y="937.80">5</text>
<line x1="140.16" x2="140.16" y1="928.40" y2="930.80" stroke="#000" stroke-width="0.6"/>
<text x="140.06" y="937.80">6</text>
<line x1="157.49" x2="157.49" y1="928.40" y2="930.80" stroke="#000" stroke-width="0.6"/>
<text x="157.39" y="937.80">7</text>
<line x1="174.83" x2="174.83" y1="928.40" y2="930.80" stroke="#000" stroke-width="0.6"/>
<text x="174.73" y="937.80">8</text>
</g>
<text x="114.15" y="751.30" font-size="9.1" text-anchor="middle">Optimal Cut=28</text>
<text x="114.05" y="948.40" font-size="8.95" text-anchor="middle">#Layers</text>
<text transform="translate(21.40,842.80) rotate(-90)" font-size="8.95" text-anchor="middle">Step-size</text>
<rect x="186.20" y="758.40" width="5.6" height="5.6" rx="1.7" fill="#fff" stroke="#d4d4d4" stroke-width="0.5"/>
<rect x="195.20" y="755.40" width="8.60" height="173.00" fill="url(#vg)" stroke="#111" stroke-width="0.45"/>
<g font-size="6.15">
<line x1="203.80" x2="206.20" y1="905.83" y2="905.83" stroke="#000" stroke-width="0.6"/>
<text x="208.50" y="908.53">22</text>
<line x1="203.80" x2="206.20" y1="880.76" y2="880.76" stroke="#000" stroke-width="0.6"/>
<text x="208.50" y="883.46">23</text>
<line x1="203.80" x2="206.20" y1="855.69" y2="855.69" stroke="#000" stroke-width="0.6"/>
<text x="208.50" y="858.39">24</text>
<line x1="203.80" x2="206.20" y1="830.62" y2="830.62" stroke="#000" stroke-width="0.6"/>
<text x="208.50" y="833.32">25</text>
<line x1="203.80" x2="206.20" y1="805.54" y2="805.54" stroke="#000" stroke-width="0.6"/>
<text x="208.50" y="808.24">26</text>
<line x1="203.80" x2="206.20" y1="780.47" y2="780.47" stroke="#000" stroke-width="0.6"/>
<text x="208.50" y="783.17">27</text>
<line x1="203.80" x2="206.20" y1="755.40" y2="755.40" stroke="#000" stroke-width="0.6"/>
<text x="208.50" y="758.10">28</text>
</g>
<text x="115.23" y="967.80" font-size="11.25" text-anchor="middle">22 nodes</text>
</g>
<g>
<rect x="271.85" y="755.40" width="18.34" height="18.30" fill="#443a8a"/>
<rect x="289.19" y="755.40" width="18.34" height="18.30" fill="#8fdc5c"/>
<rect x="306.53" y="755.40" width="18.34" height="18.30" fill="#bae739"/>
<rect x="323.86" y="755.40" width="18.34" height="18.30" fill="#ade443"/>
<rect x="341.20" y="755.40" width="18.34" height="18.30" fill="#6ece72"/>
<rect x="358.54" y="755.40" width="18.34" height="18.30" fill="#44908d"/>
<rect x="375.88" y="755.40" width="18.34" height="18.30" fill="#415e8c"/>
<rect x="393.21" y="755.40" width="17.34" height="18.30" fill="#40518d"/>
<rect x="271.85" y="772.70" width="18.34" height="18.30" fill="#41468d"/>
<rect x="289.19" y="772.70" width="18.34" height="18.30" fill="#92dd59"/>
<rect x="306.53" y="772.70" width="18.34" height="18.30" fill="#ade443"/>
<rect x="323.86" y="772.70" width="18.34" height="18.30" fill="#9fe14f"/>
<rect x="341.20" y="772.70" width="18.34" height="18.30" fill="#7cd469"/>
<rect x="358.54" y="772.70" width="18.34" height="18.30" fill="#4fb785"/>
<rect x="375.88" y="772.70" width="18.34" height="18.30" fill="#44718c"/>
<rect x="393.21" y="772.70" width="17.34" height="18.30" fill="#41558c"/>
<rect x="271.85" y="790.00" width="18.34" height="18.30" fill="#463387"/>
<rect x="289.19" y="790.00" width="18.34" height="18.30" fill="#92dd59"/>
<rect x="306.53" y="790.00" width="18.34" height="18.30" fill="#bee737"/>
<rect x="323.86" y="790.00" width="18.34" height="18.30" fill="#b7e63c"/>
<rect x="341.20" y="790.00" width="18.34" height="18.30" fill="#8bda5e"/>
<rect x="358.54" y="790.00" width="18.34" height="18.30" fill="#46a88a"/>
<rect x="375.88" y="790.00" width="18.34" height="18.30" fill="#446f8c"/>
<rect x="393.21" y="790.00" width="17.34" height="18.30" fill="#404f8d"/>
<rect x="271.85" y="807.30" width="18.34" height="18.30" fill="#433c8b"/>
<rect x="289.19" y="807.30" width="18.34" height="18.30" fill="#76d26d"/>
<rect x="306.53" y="807.30" width="18.34" height="18.30" fill="#b7e63c"/>
<rect x="323.86" y="807.30" width="18.34" height="18.30" fill="#c2e835"/>
<rect x="341.20" y="807.30" width="18.34" height="18.30" fill="#b3e53f"/>
<rect x="358.54" y="807.30" width="18.34" height="18.30" fill="#52bb83"/>
<rect x="375.88" y="807.30" width="18.34" height="18.30" fill="#45a08c"/>
<rect x="393.21" y="807.30" width="17.34" height="18.30" fill="#448b8d"/>
<rect x="271.85" y="824.60" width="18.34" height="18.30" fill="#453588"/>
<rect x="289.19" y="824.60" width="18.34" height="18.30" fill="#92dd59"/>
<rect x="306.53" y="824.60" width="18.34" height="18.30" fill="#bee737"/>
<rect x="323.86" y="824.60" width="18.34" height="18.30" fill="#dfeb31"/>
<rect x="341.20" y="824.60" width="18.34" height="18.30" fill="#bee737"/>
<rect x="358.54" y="824.60" width="18.34" height="18.30" fill="#83d765"/>
<rect x="375.88" y="824.60" width="18.34" height="18.30" fill="#46a88a"/>
<rect x="393.21" y="824.60" width="17.34" height="18.30" fill="#44878d"/>
<rect x="271.85" y="841.90" width="18.34" height="18.30" fill="#472d83"/>
<rect x="289.19" y="841.90" width="18.34" height="18.30" fill="#50b984"/>
<rect x="306.53" y="841.90" width="18.34" height="18.30" fill="#bae739"/>
<rect x="323.86" y="841.90" width="18.34" height="18.30" fill="#d3ea2e"/>
<rect x="341.20" y="841.90" width="18.34" height="18.30" fill="#cfea2f"/>
<rect x="358.54" y="841.90" width="35.67" height="18.30" fill="#b3e53f"/>
<rect x="393.21" y="841.90" width="17.34" height="18.30" fill="#4db586"/>
<rect x="271.85" y="859.20" width="18.34" height="18.30" fill="#481f78"/>
<rect x="289.19" y="859.20" width="18.34" height="18.30" fill="#52bb83"/>
<rect x="306.53" y="859.20" width="18.34" height="18.30" fill="#ade443"/>
<rect x="323.86" y="859.20" width="18.34" height="18.30" fill="#a2e24c"/>
<rect x="341.20" y="859.20" width="18.34" height="18.30" fill="#cbe930"/>
<rect x="358.54" y="859.20" width="18.34" height="18.30" fill="#bae739"/>
<rect x="375.88" y="859.20" width="18.34" height="18.30" fill="#b3e53f"/>
<rect x="393.21" y="859.20" width="17.34" height="18.30" fill="#9be052"/>
<rect x="271.85" y="876.50" width="18.34" height="18.30" fill="#463086"/>
<rect x="289.19" y="876.50" width="18.34" height="18.30" fill="#55bd81"/>
<rect x="306.53" y="876.50" width="18.34" height="18.30" fill="#7fd667"/>
<rect x="323.86" y="876.50" width="18.34" height="18.30" fill="#ade443"/>
<rect x="341.20" y="876.50" width="18.34" height="18.30" fill="#bae739"/>
<rect x="358.54" y="876.50" width="18.34" height="18.30" fill="#c2e835"/>
<rect x="375.88" y="876.50" width="18.34" height="18.30" fill="#d6eb2e"/>
<rect x="393.21" y="876.50" width="17.34" height="18.30" fill="#c7e932"/>
<rect x="271.85" y="893.80" width="18.34" height="18.30" fill="#404c8d"/>
<rect x="289.19" y="893.80" width="18.34" height="18.30" fill="#52bb83"/>
<rect x="306.53" y="893.80" width="18.34" height="18.30" fill="#92dd59"/>
<rect x="323.86" y="893.80" width="18.34" height="18.30" fill="#83d765"/>
<rect x="341.20" y="893.80" width="18.34" height="18.30" fill="#aae346"/>
<rect x="358.54" y="893.80" width="18.34" height="18.30" fill="#bee737"/>
<rect x="375.88" y="893.80" width="18.34" height="18.30" fill="#bae739"/>
<rect x="393.21" y="893.80" width="17.34" height="18.30" fill="#b3e53f"/>
<rect x="271.85" y="911.10" width="18.34" height="17.30" fill="#42408c"/>
<rect x="289.19" y="911.10" width="18.34" height="17.30" fill="#5cc37d"/>
<rect x="306.53" y="911.10" width="18.34" height="17.30" fill="#55bd81"/>
<rect x="323.86" y="911.10" width="18.34" height="17.30" fill="#68ca76"/>
<rect x="341.20" y="911.10" width="18.34" height="17.30" fill="#9fe14f"/>
<rect x="358.54" y="911.10" width="18.34" height="17.30" fill="#a2e24c"/>
<rect x="375.88" y="911.10" width="18.34" height="17.30" fill="#dfeb31"/>
<rect x="393.21" y="911.10" width="17.34" height="17.30" fill="#a6e349"/>
<rect x="271.85" y="755.40" width="138.70" height="173.00" fill="none" stroke="#111" stroke-width="0.45"/>
<g font-size="6.2" fill="#111">
<text x="272.05" y="763.85">23.3</text>
<text x="289.39" y="763.85">30.6</text>
<text x="306.73" y="763.85">31.7</text>
<text x="324.06" y="763.85">31.4</text>
<text x="341.40" y="763.85">29.7</text>
<text x="358.74" y="763.85">26.8</text>
<text x="376.07" y="763.85">24.7</text>
<text x="393.41" y="763.85">24.2</text>
<text x="272.05" y="781.15">23.8</text>
<text x="289.39" y="781.15">30.7</text>
<text x="306.73" y="781.15">31.4</text>
<text x="324.06" y="781.15">31.0</text>
<text x="341.40" y="781.15">30.1</text>
<text x="358.74" y="781.15">28.5</text>
<text x="376.07" y="781.15">25.5</text>
<text x="393.41" y="781.15">24.4</text>
<text x="272.05" y="798.45">23.0</text>
<text x="289.39" y="798.45">30.7</text>
<text x="306.73" y="798.45">31.8</text>
<text x="324.06" y="798.45">31.6</text>
<text x="341.40" y="798.45">30.5</text>
<text x="358.74" y="798.45">27.8</text>
<text x="376.07" y="798.45">25.4</text>
<text x="393.41" y="798.45">24.1</text>
<text x="272.05" y="815.75">23.4</text>
<text x="289.39" y="815.75">29.9</text>
<text x="306.73" y="815.75">31.6</text>
<text x="324.06" y="815.75">31.9</text>
<text x="341.40" y="815.75">31.5</text>
<text x="358.74" y="815.75">28.7</text>
<text x="376.07" y="815.75">27.5</text>
<text x="393.41" y="815.75">26.6</text>
<text x="272.05" y="833.05">23.1</text>
<text x="289.39" y="833.05">30.7</text>
<text x="306.73" y="833.05">31.8</text>
<text x="324.06" y="833.05">32.6</text>
<text x="341.40" y="833.05">31.8</text>
<text x="358.74" y="833.05">30.3</text>
<text x="376.07" y="833.05">27.8</text>
<text x="393.41" y="833.05">26.4</text>
<text x="272.05" y="850.35">22.8</text>
<text x="289.39" y="850.35">28.6</text>
<text x="306.73" y="850.35">31.7</text>
<text x="324.06" y="850.35">32.3</text>
<text x="341.40" y="850.35">32.2</text>
<text x="358.74" y="850.35">31.5</text>
<text x="376.07" y="850.35">31.5</text>
<text x="393.41" y="850.35">28.4</text>
<text x="272.05" y="867.65">22.3</text>
<text x="289.39" y="867.65">28.7</text>
<text x="306.73" y="867.65">31.4</text>
<text x="324.06" y="867.65">31.1</text>
<text x="341.40" y="867.65">32.1</text>
<text x="358.74" y="867.65">31.7</text>
<text x="376.07" y="867.65">31.5</text>
<text x="393.41" y="867.65">30.9</text>
<text x="272.05" y="884.95">22.9</text>
<text x="289.39" y="884.95">28.8</text>
<text x="306.73" y="884.95">30.2</text>
<text x="324.06" y="884.95">31.4</text>
<text x="341.40" y="884.95">31.7</text>
<text x="358.74" y="884.95">31.9</text>
<text x="376.07" y="884.95">32.4</text>
<text x="393.41" y="884.95">32.0</text>
<text x="272.05" y="902.25">24.0</text>
<text x="289.39" y="902.25">28.7</text>
<text x="306.73" y="902.25">30.7</text>
<text x="324.06" y="902.25">30.3</text>
<text x="341.40" y="902.25">31.3</text>
<text x="358.74" y="902.25">31.8</text>
<text x="376.07" y="902.25">31.7</text>
<text x="393.41" y="902.25">31.5</text>
<text x="272.05" y="919.55">23.5</text>
<text x="289.39" y="919.55">29.1</text>
<text x="306.73" y="919.55">28.8</text>
<text x="324.06" y="919.55">29.5</text>
<text x="341.40" y="919.55">31.0</text>
<text x="358.74" y="919.55">31.1</text>
<text x="376.07" y="919.55">32.6</text>
<text x="393.41" y="919.55">31.2</text>
</g>
<g font-size="6.15" text-anchor="end">
<line x1="269.45" x2="271.85" y1="764.20" y2="764.20" stroke="#000" stroke-width="0.6"/>
<text x="266.95" y="766.50">0.99</text>
<line x1="269.45" x2="271.85" y1="781.50" y2="781.50" stroke="#000" stroke-width="0.6"/>
<text x="266.95" y="783.80">0.98</text>
<line x1="269.45" x2="271.85" y1="798.80" y2="798.80" stroke="#000" stroke-width="0.6"/>
<text x="266.95" y="801.10">0.95</text>
<line x1="269.45" x2="271.85" y1="816.10" y2="816.10" stroke="#000" stroke-width="0.6"/>
<text x="266.95" y="818.40">0.9</text>
<line x1="269.45" x2="271.85" y1="833.40" y2="833.40" stroke="#000" stroke-width="0.6"/>
<text x="266.95" y="835.70">0.8</text>
<line x1="269.45" x2="271.85" y1="850.70" y2="850.70" stroke="#000" stroke-width="0.6"/>
<text x="266.95" y="853.00">0.7</text>
<line x1="269.45" x2="271.85" y1="868.00" y2="868.00" stroke="#000" stroke-width="0.6"/>
<text x="266.95" y="870.30">0.6</text>
<line x1="269.45" x2="271.85" y1="885.30" y2="885.30" stroke="#000" stroke-width="0.6"/>
<text x="266.95" y="887.60">0.5</text>
<line x1="269.45" x2="271.85" y1="902.60" y2="902.60" stroke="#000" stroke-width="0.6"/>
<text x="266.95" y="904.90">0.4</text>
<line x1="269.45" x2="271.85" y1="919.90" y2="919.90" stroke="#000" stroke-width="0.6"/>
<text x="266.95" y="922.20">0.35</text>
</g>
<g font-size="6.15" text-anchor="middle">
<line x1="280.52" x2="280.52" y1="928.40" y2="930.80" stroke="#000" stroke-width="0.6"/>
<text x="280.42" y="937.80">1</text>
<line x1="297.86" x2="297.86" y1="928.40" y2="930.80" stroke="#000" stroke-width="0.6"/>
<text x="297.76" y="937.80">2</text>
<line x1="315.19" x2="315.19" y1="928.40" y2="930.80" stroke="#000" stroke-width="0.6"/>
<text x="315.09" y="937.80">3</text>
<line x1="332.53" x2="332.53" y1="928.40" y2="930.80" stroke="#000" stroke-width="0.6"/>
<text x="332.43" y="937.80">4</text>
<line x1="349.87" x2="349.87" y1="928.40" y2="930.80" stroke="#000" stroke-width="0.6"/>
<text x="349.77" y="937.80">5</text>
<line x1="367.21" x2="367.21" y1="928.40" y2="930.80" stroke="#000" stroke-width="0.6"/>
<text x="367.11" y="937.80">6</text>
<line x1="384.54" x2="384.54" y1="928.40" y2="930.80" stroke="#000" stroke-width="0.6"/>
<text x="384.44" y="937.80">7</text>
<line x1="401.88" x2="401.88" y1="928.40" y2="930.80" stroke="#000" stroke-width="0.6"/>
<text x="401.78" y="937.80">8</text>
</g>
<text x="341.20" y="751.30" font-size="9.1" text-anchor="middle">Optimal Cut=33</text>
<text x="341.10" y="948.40" font-size="8.95" text-anchor="middle">#Layers</text>
<text transform="translate(248.45,842.80) rotate(-90)" font-size="8.95" text-anchor="middle">Step-size</text>
<rect x="413.25" y="758.40" width="5.6" height="5.6" rx="1.7" fill="#fff" stroke="#d4d4d4" stroke-width="0.5"/>
<rect x="422.25" y="755.40" width="8.60" height="173.00" fill="url(#vg)" stroke="#111" stroke-width="0.45"/>
<g font-size="6.15">
<line x1="430.85" x2="433.25" y1="918.05" y2="918.05" stroke="#000" stroke-width="0.6"/>
<text x="435.55" y="920.75">22</text>
<line x1="430.85" x2="433.25" y1="888.48" y2="888.48" stroke="#000" stroke-width="0.6"/>
<text x="435.55" y="891.18">24</text>
<line x1="430.85" x2="433.25" y1="858.90" y2="858.90" stroke="#000" stroke-width="0.6"/>
<text x="435.55" y="861.60">26</text>
<line x1="430.85" x2="433.25" y1="829.33" y2="829.33" stroke="#000" stroke-width="0.6"/>
<text x="435.55" y="832.03">28</text>
<line x1="430.85" x2="433.25" y1="799.76" y2="799.76" stroke="#000" stroke-width="0.6"/>
<text x="435.55" y="802.46">30</text>
<line x1="430.85" x2="433.25" y1="770.19" y2="770.19" stroke="#000" stroke-width="0.6"/>
<text x="435.55" y="772.89">32</text>
</g>
<text x="342.35" y="967.80" font-size="11.25" text-anchor="middle">24 nodes</text>
</g>
<g>
<rect x="498.90" y="755.40" width="18.34" height="18.30" fill="#433e8b"/>
<rect x="516.24" y="755.40" width="35.67" height="18.30" fill="#cdea2f"/>
<rect x="550.91" y="755.40" width="18.34" height="18.30" fill="#9fe14f"/>
<rect x="568.25" y="755.40" width="18.34" height="18.30" fill="#94dd58"/>
<rect x="585.59" y="755.40" width="18.34" height="18.30" fill="#4bb287"/>
<rect x="602.93" y="755.40" width="18.34" height="18.30" fill="#44878d"/>
<rect x="620.26" y="755.40" width="17.34" height="18.30" fill="#44788d"/>
<rect x="498.90" y="772.70" width="18.34" height="18.30" fill="#42438c"/>
<rect x="516.24" y="772.70" width="18.34" height="18.30" fill="#a2e24c"/>
<rect x="533.58" y="772.70" width="18.34" height="18.30" fill="#cdea2f"/>
<rect x="550.91" y="772.70" width="18.34" height="18.30" fill="#b1e540"/>
<rect x="568.25" y="772.70" width="18.34" height="18.30" fill="#6ece72"/>
<rect x="585.59" y="772.70" width="18.34" height="18.30" fill="#5bc27e"/>
<rect x="602.93" y="772.70" width="18.34" height="18.30" fill="#44938d"/>
<rect x="620.26" y="772.70" width="17.34" height="18.30" fill="#436b8c"/>
<rect x="498.90" y="790.00" width="18.34" height="18.30" fill="#414c8d"/>
<rect x="516.24" y="790.00" width="18.34" height="18.30" fill="#b7e63c"/>
<rect x="533.58" y="790.00" width="18.34" height="18.30" fill="#c6e933"/>
<rect x="550.91" y="790.00" width="18.34" height="18.30" fill="#bee737"/>
<rect x="568.25" y="790.00" width="35.68" height="18.30" fill="#6ece72"/>
<rect x="602.93" y="790.00" width="18.34" height="18.30" fill="#447e8d"/>
<rect x="620.26" y="790.00" width="17.34" height="18.30" fill="#44968d"/>
<rect x="498.90" y="807.30" width="18.34" height="18.30" fill="#433e8b"/>
<rect x="516.24" y="807.30" width="18.34" height="18.30" fill="#aae346"/>
<rect x="533.58" y="807.30" width="18.34" height="18.30" fill="#b7e63c"/>
<rect x="550.91" y="807.30" width="18.34" height="18.30" fill="#c2e835"/>
<rect x="568.25" y="807.30" width="18.34" height="18.30" fill="#aae346"/>
<rect x="585.59" y="807.30" width="18.34" height="18.30" fill="#74d16f"/>
<rect x="602.93" y="807.30" width="18.34" height="18.30" fill="#44938d"/>
<rect x="620.26" y="807.30" width="17.34" height="18.30" fill="#448f8d"/>
<rect x="498.90" y="824.60" width="18.34" height="18.30" fill="#42438c"/>
<rect x="516.24" y="824.60" width="18.34" height="18.30" fill="#b7e63c"/>
<rect x="533.58" y="824.60" width="35.67" height="18.30" fill="#bee737"/>
<rect x="568.25" y="824.60" width="18.34" height="18.30" fill="#b1e540"/>
<rect x="585.59" y="824.60" width="18.34" height="18.30" fill="#a6e349"/>
<rect x="602.93" y="824.60" width="18.34" height="18.30" fill="#54bc82"/>
<rect x="620.26" y="824.60" width="17.34" height="18.30" fill="#48ac89"/>
<rect x="498.90" y="841.90" width="18.34" height="18.30" fill="#481d77"/>
<rect x="516.24" y="841.90" width="18.34" height="18.30" fill="#98df55"/>
<rect x="533.58" y="841.90" width="18.34" height="18.30" fill="#b7e63c"/>
<rect x="550.91" y="841.90" width="35.68" height="18.30" fill="#c6e933"/>
<rect x="585.59" y="841.90" width="18.34" height="18.30" fill="#bee737"/>
<rect x="602.93" y="841.90" width="18.34" height="18.30" fill="#89da60"/>
<rect x="620.26" y="841.90" width="17.34" height="18.30" fill="#56be81"/>
<rect x="498.90" y="859.20" width="18.34" height="18.30" fill="#42418c"/>
<rect x="516.24" y="859.20" width="18.34" height="18.30" fill="#9fe14f"/>
<rect x="533.58" y="859.20" width="18.34" height="18.30" fill="#a2e24c"/>
<rect x="550.91" y="859.20" width="18.34" height="18.30" fill="#b1e540"/>
<rect x="568.25" y="859.20" width="35.68" height="18.30" fill="#bee737"/>
<rect x="602.93" y="859.20" width="18.34" height="18.30" fill="#bae739"/>
<rect x="620.26" y="859.20" width="17.34" height="18.30" fill="#98df55"/>
<rect x="498.90" y="876.50" width="18.34" height="18.30" fill="#453588"/>
<rect x="516.24" y="876.50" width="18.34" height="18.30" fill="#7fd667"/>
<rect x="533.58" y="876.50" width="18.34" height="18.30" fill="#98df55"/>
<rect x="550.91" y="876.50" width="18.34" height="18.30" fill="#ade443"/>
<rect x="568.25" y="876.50" width="18.34" height="18.30" fill="#b7e63c"/>
<rect x="585.59" y="876.50" width="18.34" height="18.30" fill="#c2e835"/>
<rect x="602.93" y="876.50" width="18.34" height="18.30" fill="#d4ea2e"/>
<rect x="620.26" y="876.50" width="17.34" height="18.30" fill="#c6e933"/>
<rect x="498.90" y="893.80" width="18.34" height="18.30" fill="#40548d"/>
<rect x="516.24" y="893.80" width="18.34" height="18.30" fill="#8ddb5d"/>
<rect x="533.58" y="893.80" width="18.34" height="18.30" fill="#89da60"/>
<rect x="550.91" y="893.80" width="18.34" height="18.30" fill="#a2e24c"/>
<rect x="568.25" y="893.80" width="18.34" height="18.30" fill="#9fe14f"/>
<rect x="585.59" y="893.80" width="18.34" height="18.30" fill="#bae739"/>
<rect x="602.93" y="893.80" width="18.34" height="18.30" fill="#bee737"/>
<rect x="620.26" y="893.80" width="17.34" height="18.30" fill="#b7e63c"/>
<rect x="498.90" y="911.10" width="18.34" height="17.30" fill="#472e84"/>
<rect x="516.24" y="911.10" width="18.34" height="17.30" fill="#6ece72"/>
<rect x="533.58" y="911.10" width="18.34" height="17.30" fill="#86d962"/>
<rect x="550.91" y="911.10" width="18.34" height="17.30" fill="#ade443"/>
<rect x="568.25" y="911.10" width="18.34" height="17.30" fill="#9be052"/>
<rect x="585.59" y="911.10" width="18.34" height="17.30" fill="#aae346"/>
<rect x="602.93" y="911.10" width="18.34" height="17.30" fill="#c6e933"/>
<rect x="620.26" y="911.10" width="17.34" height="17.30" fill="#cdea2f"/>
<rect x="498.90" y="755.40" width="138.70" height="173.00" fill="none" stroke="#111" stroke-width="0.45"/>
<g font-size="6.2" fill="#111">
<text x="499.10" y="763.85">23.9</text>
<text x="516.44" y="763.85">33.1</text>
<text x="533.78" y="763.85">33.1</text>
<text x="551.11" y="763.85">31.9</text>
<text x="568.45" y="763.85">31.6</text>
<text x="585.79" y="763.85">29.0</text>
<text x="603.13" y="763.85">27.0</text>
<text x="620.46" y="763.85">26.3</text>
<text x="499.10" y="781.15">24.1</text>
<text x="516.44" y="781.15">32.0</text>
<text x="533.78" y="781.15">33.1</text>
<text x="551.11" y="781.15">32.4</text>
<text x="568.45" y="781.15">30.5</text>
<text x="585.79" y="781.15">29.8</text>
<text x="603.13" y="781.15">27.6</text>
<text x="620.46" y="781.15">25.8</text>
<text x="499.10" y="798.45">24.5</text>
<text x="516.44" y="798.45">32.5</text>
<text x="533.78" y="798.45">32.9</text>
<text x="551.11" y="798.45">32.7</text>
<text x="568.45" y="798.45">30.5</text>
<text x="585.79" y="798.45">30.5</text>
<text x="603.13" y="798.45">26.6</text>
<text x="620.46" y="798.45">27.7</text>
<text x="499.10" y="815.75">23.9</text>
<text x="516.44" y="815.75">32.2</text>
<text x="533.78" y="815.75">32.5</text>
<text x="551.11" y="815.75">32.8</text>
<text x="568.45" y="815.75">32.2</text>
<text x="585.79" y="815.75">30.7</text>
<text x="603.13" y="815.75">27.6</text>
<text x="620.46" y="815.75">27.4</text>
<text x="499.10" y="833.05">24.1</text>
<text x="516.44" y="833.05">32.5</text>
<text x="533.78" y="833.05">32.7</text>
<text x="551.11" y="833.05">32.7</text>
<text x="568.45" y="833.05">32.4</text>
<text x="585.79" y="833.05">32.1</text>
<text x="603.13" y="833.05">29.5</text>
<text x="620.46" y="833.05">28.7</text>
<text x="499.10" y="850.35">22.6</text>
<text x="516.44" y="850.35">31.7</text>
<text x="533.78" y="850.35">32.5</text>
<text x="551.11" y="850.35">32.9</text>
<text x="568.45" y="850.35">32.9</text>
<text x="585.79" y="850.35">32.7</text>
<text x="603.13" y="850.35">31.3</text>
<text x="620.46" y="850.35">29.6</text>
<text x="499.10" y="867.65">24.0</text>
<text x="516.44" y="867.65">31.9</text>
<text x="533.78" y="867.65">32.0</text>
<text x="551.11" y="867.65">32.4</text>
<text x="568.45" y="867.65">32.7</text>
<text x="585.79" y="867.65">32.7</text>
<text x="603.13" y="867.65">32.6</text>
<text x="620.46" y="867.65">31.7</text>
<text x="499.10" y="884.95">23.5</text>
<text x="516.44" y="884.95">31.0</text>
<text x="533.78" y="884.95">31.7</text>
<text x="551.11" y="884.95">32.3</text>
<text x="568.45" y="884.95">32.5</text>
<text x="585.79" y="884.95">32.8</text>
<text x="603.13" y="884.95">33.3</text>
<text x="620.46" y="884.95">32.9</text>
<text x="499.10" y="902.25">24.8</text>
<text x="516.44" y="902.25">31.4</text>
<text x="533.78" y="902.25">31.3</text>
<text x="551.11" y="902.25">32.0</text>
<text x="568.45" y="902.25">31.9</text>
<text x="585.79" y="902.25">32.6</text>
<text x="603.13" y="902.25">32.7</text>
<text x="620.46" y="902.25">32.5</text>
<text x="499.10" y="919.55">23.2</text>
<text x="516.44" y="919.55">30.5</text>
<text x="533.78" y="919.55">31.2</text>
<text x="551.11" y="919.55">32.3</text>
<text x="568.45" y="919.55">31.8</text>
<text x="585.79" y="919.55">32.2</text>
<text x="603.13" y="919.55">32.9</text>
<text x="620.46" y="919.55">33.1</text>
</g>
<g font-size="6.15" text-anchor="end">
<line x1="496.50" x2="498.90" y1="764.20" y2="764.20" stroke="#000" stroke-width="0.6"/>
<text x="494.00" y="766.50">0.99</text>
<line x1="496.50" x2="498.90" y1="781.50" y2="781.50" stroke="#000" stroke-width="0.6"/>
<text x="494.00" y="783.80">0.98</text>
<line x1="496.50" x2="498.90" y1="798.80" y2="798.80" stroke="#000" stroke-width="0.6"/>
<text x="494.00" y="801.10">0.95</text>
<line x1="496.50" x2="498.90" y1="816.10" y2="816.10" stroke="#000" stroke-width="0.6"/>
<text x="494.00" y="818.40">0.9</text>
<line x1="496.50" x2="498.90" y1="833.40" y2="833.40" stroke="#000" stroke-width="0.6"/>
<text x="494.00" y="835.70">0.8</text>
<line x1="496.50" x2="498.90" y1="850.70" y2="850.70" stroke="#000" stroke-width="0.6"/>
<text x="494.00" y="853.00">0.7</text>
<line x1="496.50" x2="498.90" y1="868.00" y2="868.00" stroke="#000" stroke-width="0.6"/>
<text x="494.00" y="870.30">0.6</text>
<line x1="496.50" x2="498.90" y1="885.30" y2="885.30" stroke="#000" stroke-width="0.6"/>
<text x="494.00" y="887.60">0.5</text>
<line x1="496.50" x2="498.90" y1="902.60" y2="902.60" stroke="#000" stroke-width="0.6"/>
<text x="494.00" y="904.90">0.4</text>
<line x1="496.50" x2="498.90" y1="919.90" y2="919.90" stroke="#000" stroke-width="0.6"/>
<text x="494.00" y="922.20">0.35</text>
</g>
<g font-size="6.15" text-anchor="middle">
<line x1="507.57" x2="507.57" y1="928.40" y2="930.80" stroke="#000" stroke-width="0.6"/>
<text x="507.47" y="937.80">1</text>
<line x1="524.91" x2="524.91" y1="928.40" y2="930.80" stroke="#000" stroke-width="0.6"/>
<text x="524.81" y="937.80">2</text>
<line x1="542.24" x2="542.24" y1="928.40" y2="930.80" stroke="#000" stroke-width="0.6"/>
<text x="542.14" y="937.80">3</text>
<line x1="559.58" x2="559.58" y1="928.40" y2="930.80" stroke="#000" stroke-width="0.6"/>
<text x="559.48" y="937.80">4</text>
<line x1="576.92" x2="576.92" y1="928.40" y2="930.80" stroke="#000" stroke-width="0.6"/>
<text x="576.82" y="937.80">5</text>
<line x1="594.26" x2="594.26" y1="928.40" y2="930.80" stroke="#000" stroke-width="0.6"/>
<text x="594.16" y="937.80">6</text>
<line x1="611.59" x2="611.59" y1="928.40" y2="930.80" stroke="#000" stroke-width="0.6"/>
<text x="611.49" y="937.80">7</text>
<line x1="628.93" x2="628.93" y1="928.40" y2="930.80" stroke="#000" stroke-width="0.6"/>
<text x="628.83" y="937.80">8</text>
</g>
<text x="568.25" y="751.30" font-size="9.1" text-anchor="middle">Optimal Cut=34</text>
<text x="568.15" y="948.40" font-size="8.95" text-anchor="middle">#Layers</text>
<text transform="translate(475.50,842.80) rotate(-90)" font-size="8.95" text-anchor="middle">Step-size</text>
<rect x="640.30" y="758.40" width="5.6" height="5.6" rx="1.7" fill="#fff" stroke="#d4d4d4" stroke-width="0.5"/>
<rect x="649.30" y="755.40" width="8.60" height="173.00" fill="url(#vg)" stroke="#111" stroke-width="0.45"/>
<g font-size="6.15">
<line x1="657.90" x2="660.30" y1="922.82" y2="922.82" stroke="#000" stroke-width="0.6"/>
<text x="662.60" y="925.52">22</text>
<line x1="657.90" x2="660.30" y1="894.92" y2="894.92" stroke="#000" stroke-width="0.6"/>
<text x="662.60" y="897.62">24</text>
<line x1="657.90" x2="660.30" y1="867.01" y2="867.01" stroke="#000" stroke-width="0.6"/>
<text x="662.60" y="869.71">26</text>
<line x1="657.90" x2="660.30" y1="839.11" y2="839.11" stroke="#000" stroke-width="0.6"/>
<text x="662.60" y="841.81">28</text>
<line x1="657.90" x2="660.30" y1="811.21" y2="811.21" stroke="#000" stroke-width="0.6"/>
<text x="662.60" y="813.91">30</text>
<line x1="657.90" x2="660.30" y1="783.30" y2="783.30" stroke="#000" stroke-width="0.6"/>
<text x="662.60" y="786.00">32</text>
<line x1="657.90" x2="660.30" y1="755.40" y2="755.40" stroke="#000" stroke-width="0.6"/>
<text x="662.60" y="758.10">34</text>
</g>
<text x="569.23" y="967.80" font-size="11.25" text-anchor="middle">26 nodes</text>
</g>
<g>
<rect x="44.80" y="999.80" width="18.34" height="18.30" fill="#433c8b"/>
<rect x="62.14" y="999.80" width="18.34" height="18.30" fill="#98df55"/>
<rect x="79.47" y="999.80" width="18.34" height="18.30" fill="#d3ea2e"/>
<rect x="96.81" y="999.80" width="18.34" height="18.30" fill="#cfea2f"/>
<rect x="114.15" y="999.80" width="18.34" height="18.30" fill="#8bda5e"/>
<rect x="131.49" y="999.80" width="18.34" height="18.30" fill="#51ba83"/>
<rect x="148.82" y="999.80" width="18.34" height="18.30" fill="#447f8d"/>
<rect x="166.16" y="999.80" width="17.34" height="18.30" fill="#47ab8a"/>
<rect x="44.80" y="1017.10" width="18.34" height="18.30" fill="#472d83"/>
<rect x="62.14" y="1017.10" width="18.34" height="18.30" fill="#6ccd73"/>
<rect x="79.47" y="1017.10" width="18.34" height="18.30" fill="#b3e53f"/>
<rect x="96.81" y="1017.10" width="18.34" height="18.30" fill="#cfea2f"/>
<rect x="114.15" y="1017.10" width="18.34" height="18.30" fill="#6fcf72"/>
<rect x="131.49" y="1017.10" width="18.34" height="18.30" fill="#4fb885"/>
<rect x="148.82" y="1017.10" width="18.34" height="18.30" fill="#46a68b"/>
<rect x="166.16" y="1017.10" width="17.34" height="18.30" fill="#44788d"/>
<rect x="44.80" y="1034.40" width="18.34" height="18.30" fill="#482880"/>
<rect x="62.14" y="1034.40" width="18.34" height="18.30" fill="#7ed568"/>
<rect x="79.47" y="1034.40" width="18.34" height="18.30" fill="#cfea2f"/>
<rect x="96.81" y="1034.40" width="18.34" height="18.30" fill="#ace444"/>
<rect x="114.15" y="1034.40" width="18.34" height="18.30" fill="#8bda5e"/>
<rect x="131.49" y="1034.40" width="18.34" height="18.30" fill="#53bb82"/>
<rect x="148.82" y="1034.40" width="34.68" height="18.30" fill="#44818d"/>
<rect x="44.80" y="1051.70" width="18.34" height="18.30" fill="#41448d"/>
<rect x="62.14" y="1051.70" width="18.34" height="18.30" fill="#79d36b"/>
<rect x="79.47" y="1051.70" width="35.68" height="18.30" fill="#d3ea2e"/>
<rect x="114.15" y="1051.70" width="18.34" height="18.30" fill="#9fe14f"/>
<rect x="131.49" y="1051.70" width="18.34" height="18.30" fill="#7ed568"/>
<rect x="148.82" y="1051.70" width="18.34" height="18.30" fill="#4fb885"/>
<rect x="166.16" y="1051.70" width="17.34" height="18.30" fill="#44888d"/>
<rect x="44.80" y="1069.00" width="18.34" height="18.30" fill="#481f78"/>
<rect x="62.14" y="1069.00" width="18.34" height="18.30" fill="#8fdc5c"/>
<rect x="79.47" y="1069.00" width="18.34" height="18.30" fill="#bae73a"/>
<rect x="96.81" y="1069.00" width="18.34" height="18.30" fill="#dceb2f"/>
<rect x="114.15" y="1069.00" width="18.34" height="18.30" fill="#bae73a"/>
<rect x="131.49" y="1069.00" width="18.34" height="18.30" fill="#a6e349"/>
<rect x="148.82" y="1069.00" width="18.34" height="18.30" fill="#8bda5e"/>
<rect x="166.16" y="1069.00" width="17.34" height="18.30" fill="#459d8c"/>
<rect x="44.80" y="1086.30" width="18.34" height="18.30" fill="#41478d"/>
<rect x="62.14" y="1086.30" width="18.34" height="18.30" fill="#7ed568"/>
<rect x="79.47" y="1086.30" width="18.34" height="18.30" fill="#cfea2f"/>
<rect x="96.81" y="1086.30" width="35.68" height="18.30" fill="#c4e834"/>
<rect x="131.49" y="1086.30" width="18.34" height="18.30" fill="#cfea2f"/>
<rect x="148.82" y="1086.30" width="18.34" height="18.30" fill="#ace444"/>
<rect x="166.16" y="1086.30" width="17.34" height="18.30" fill="#76d26d"/>
<rect x="44.80" y="1103.60" width="18.34" height="18.30" fill="#482880"/>
<rect x="62.14" y="1103.60" width="18.34" height="18.30" fill="#7ed568"/>
<rect x="79.47" y="1103.60" width="18.34" height="18.30" fill="#ace444"/>
<rect x="96.81" y="1103.60" width="18.34" height="18.30" fill="#c4e834"/>
<rect x="114.15" y="1103.60" width="18.34" height="18.30" fill="#d3ea2e"/>
<rect x="131.49" y="1103.60" width="18.34" height="18.30" fill="#c7e932"/>
<rect x="148.82" y="1103.60" width="18.34" height="18.30" fill="#bae73a"/>
<rect x="166.16" y="1103.60" width="17.34" height="18.30" fill="#a6e349"/>
<rect x="44.80" y="1120.90" width="18.34" height="18.30" fill="#472f85"/>
<rect x="62.14" y="1120.90" width="18.34" height="18.30" fill="#6ccd73"/>
<rect x="79.47" y="1120.90" width="18.34" height="18.30" fill="#ace444"/>
<rect x="96.81" y="1120.90" width="18.34" height="18.30" fill="#d6eb2e"/>
<rect x="114.15" y="1120.90" width="18.34" height="18.30" fill="#bee737"/>
<rect x="131.49" y="1120.90" width="18.34" height="18.30" fill="#c7e932"/>
<rect x="148.82" y="1120.90" width="18.34" height="18.30" fill="#dfeb31"/>
<rect x="166.16" y="1120.90" width="17.34" height="18.30" fill="#c4e834"/>
<rect x="44.80" y="1138.20" width="18.34" height="18.30" fill="#41498d"/>
<rect x="62.14" y="1138.20" width="18.34" height="18.30" fill="#6fcf72"/>
<rect x="79.47" y="1138.20" width="18.34" height="18.30" fill="#79d36b"/>
<rect x="96.81" y="1138.20" width="18.34" height="18.30" fill="#c4e834"/>
<rect x="114.15" y="1138.20" width="18.34" height="18.30" fill="#ace444"/>
<rect x="131.49" y="1138.20" width="18.34" height="18.30" fill="#c7e932"/>
<rect x="148.82" y="1138.20" width="18.34" height="18.30" fill="#d6eb2e"/>
<rect x="166.16" y="1138.20" width="17.34" height="18.30" fill="#cfea2f"/>
<rect x="44.80" y="1155.50" width="18.34" height="17.30" fill="#472d83"/>
<rect x="62.14" y="1155.50" width="35.67" height="17.30" fill="#84d863"/>
<rect x="96.81" y="1155.50" width="18.34" height="17.30" fill="#a2e24c"/>
<rect x="114.15" y="1155.50" width="18.34" height="17.30" fill="#b3e53f"/>
<rect x="131.49" y="1155.50" width="18.34" height="17.30" fill="#d6eb2e"/>
<rect x="148.82" y="1155.50" width="18.34" height="17.30" fill="#c7e932"/>
<rect x="166.16" y="1155.50" width="17.34" height="17.30" fill="#d3ea2e"/>
<rect x="44.80" y="999.80" width="138.70" height="173.00" fill="none" stroke="#111" stroke-width="0.45"/>
<g font-size="6.2" fill="#111">
<text x="45.00" y="1008.25">26.3</text>
<text x="62.34" y="1008.25">33.8</text>
<text x="79.67" y="1008.25">35.3</text>
<text x="97.01" y="1008.25">35.2</text>
<text x="114.35" y="1008.25">33.5</text>
<text x="131.69" y="1008.25">31.6</text>
<text x="149.02" y="1008.25">29.0</text>
<text x="166.36" y="1008.25">30.9</text>
<text x="45.00" y="1025.55">25.7</text>
<text x="62.34" y="1025.55">32.6</text>
<text x="79.67" y="1025.55">34.5</text>
<text x="97.01" y="1025.55">35.2</text>
<text x="114.35" y="1025.55">32.7</text>
<text x="131.69" y="1025.55">31.5</text>
<text x="149.02" y="1025.55">30.7</text>
<text x="166.36" y="1025.55">28.7</text>
<text x="45.00" y="1042.85">25.5</text>
<text x="62.34" y="1042.85">33.1</text>
<text x="79.67" y="1042.85">35.2</text>
<text x="97.01" y="1042.85">34.3</text>
<text x="114.35" y="1042.85">33.5</text>
<text x="131.69" y="1042.85">31.7</text>
<text x="149.02" y="1042.85">29.1</text>
<text x="166.36" y="1042.85">29.1</text>
<text x="45.00" y="1060.15">26.6</text>
<text x="62.34" y="1060.15">33.0</text>
<text x="79.67" y="1060.15">35.3</text>
<text x="97.01" y="1060.15">35.3</text>
<text x="114.35" y="1060.15">34.0</text>
<text x="131.69" y="1060.15">33.1</text>
<text x="149.02" y="1060.15">31.5</text>
<text x="166.36" y="1060.15">29.4</text>
<text x="45.00" y="1077.45">25.2</text>
<text x="62.34" y="1077.45">33.6</text>
<text x="79.67" y="1077.45">34.7</text>
<text x="97.01" y="1077.45">35.5</text>
<text x="114.35" y="1077.45">34.7</text>
<text x="131.69" y="1077.45">34.2</text>
<text x="149.02" y="1077.45">33.5</text>
<text x="166.36" y="1077.45">30.3</text>
<text x="45.00" y="1094.75">26.7</text>
<text x="62.34" y="1094.75">33.1</text>
<text x="79.67" y="1094.75">35.2</text>
<text x="97.01" y="1094.75">34.9</text>
<text x="114.35" y="1094.75">34.9</text>
<text x="131.69" y="1094.75">35.2</text>
<text x="149.02" y="1094.75">34.3</text>
<text x="166.36" y="1094.75">32.9</text>
<text x="45.00" y="1112.05">25.5</text>
<text x="62.34" y="1112.05">33.1</text>
<text x="79.67" y="1112.05">34.3</text>
<text x="97.01" y="1112.05">34.9</text>
<text x="114.35" y="1112.05">35.3</text>
<text x="131.69" y="1112.05">35.0</text>
<text x="149.02" y="1112.05">34.7</text>
<text x="166.36" y="1112.05">34.2</text>
<text x="45.00" y="1129.35">25.8</text>
<text x="62.34" y="1129.35">32.6</text>
<text x="79.67" y="1129.35">34.3</text>
<text x="97.01" y="1129.35">35.4</text>
<text x="114.35" y="1129.35">34.8</text>
<text x="131.69" y="1129.35">35.0</text>
<text x="149.02" y="1129.35">35.6</text>
<text x="166.36" y="1129.35">34.9</text>
<text x="45.00" y="1146.65">26.8</text>
<text x="62.34" y="1146.65">32.7</text>
<text x="79.67" y="1146.65">33.0</text>
<text x="97.01" y="1146.65">34.9</text>
<text x="114.35" y="1146.65">34.3</text>
<text x="131.69" y="1146.65">35.0</text>
<text x="149.02" y="1146.65">35.4</text>
<text x="166.36" y="1146.65">35.2</text>
<text x="45.00" y="1163.95">25.7</text>
<text x="62.34" y="1163.95">33.3</text>
<text x="79.67" y="1163.95">33.3</text>
<text x="97.01" y="1163.95">34.1</text>
<text x="114.35" y="1163.95">34.5</text>
<text x="131.69" y="1163.95">35.4</text>
<text x="149.02" y="1163.95">35.0</text>
<text x="166.36" y="1163.95">35.3</text>
</g>
<g font-size="6.15" text-anchor="end">
<line x1="42.40" x2="44.80" y1="1008.60" y2="1008.60" stroke="#000" stroke-width="0.6"/>
<text x="39.90" y="1010.90">0.99</text>
<line x1="42.40" x2="44.80" y1="1025.90" y2="1025.90" stroke="#000" stroke-width="0.6"/>
<text x="39.90" y="1028.20">0.98</text>
<line x1="42.40" x2="44.80" y1="1043.20" y2="1043.20" stroke="#000" stroke-width="0.6"/>
<text x="39.90" y="1045.50">0.95</text>
<line x1="42.40" x2="44.80" y1="1060.50" y2="1060.50" stroke="#000" stroke-width="0.6"/>
<text x="39.90" y="1062.80">0.9</text>
<line x1="42.40" x2="44.80" y1="1077.80" y2="1077.80" stroke="#000" stroke-width="0.6"/>
<text x="39.90" y="1080.10">0.8</text>
<line x1="42.40" x2="44.80" y1="1095.10" y2="1095.10" stroke="#000" stroke-width="0.6"/>
<text x="39.90" y="1097.40">0.7</text>
<line x1="42.40" x2="44.80" y1="1112.40" y2="1112.40" stroke="#000" stroke-width="0.6"/>
<text x="39.90" y="1114.70">0.6</text>
<line x1="42.40" x2="44.80" y1="1129.70" y2="1129.70" stroke="#000" stroke-width="0.6"/>
<text x="39.90" y="1132.00">0.5</text>
<line x1="42.40" x2="44.80" y1="1147.00" y2="1147.00" stroke="#000" stroke-width="0.6"/>
<text x="39.90" y="1149.30">0.4</text>
<line x1="42.40" x2="44.80" y1="1164.30" y2="1164.30" stroke="#000" stroke-width="0.6"/>
<text x="39.90" y="1166.60">0.35</text>
</g>
<g font-size="6.15" text-anchor="middle">
<line x1="53.47" x2="53.47" y1="1172.80" y2="1175.20" stroke="#000" stroke-width="0.6"/>
<text x="53.37" y="1182.20">1</text>
<line x1="70.81" x2="70.81" y1="1172.80" y2="1175.20" stroke="#000" stroke-width="0.6"/>
<text x="70.71" y="1182.20">2</text>
<line x1="88.14" x2="88.14" y1="1172.80" y2="1175.20" stroke="#000" stroke-width="0.6"/>
<text x="88.04" y="1182.20">3</text>
<line x1="105.48" x2="105.48" y1="1172.80" y2="1175.20" stroke="#000" stroke-width="0.6"/>
<text x="105.38" y="1182.20">4</text>
<line x1="122.82" x2="122.82" y1="1172.80" y2="1175.20" stroke="#000" stroke-width="0.6"/>
<text x="122.72" y="1182.20">5</text>
<line x1="140.16" x2="140.16" y1="1172.80" y2="1175.20" stroke="#000" stroke-width="0.6"/>
<text x="140.06" y="1182.20">6</text>
<line x1="157.49" x2="157.49" y1="1172.80" y2="1175.20" stroke="#000" stroke-width="0.6"/>
<text x="157.39" y="1182.20">7</text>
<line x1="174.83" x2="174.83" y1="1172.80" y2="1175.20" stroke="#000" stroke-width="0.6"/>
<text x="174.73" y="1182.20">8</text>
</g>
<text x="114.15" y="995.70" font-size="9.1" text-anchor="middle">Optimal Cut=36</text>
<text x="114.05" y="1192.80" font-size="8.95" text-anchor="middle">#Layers</text>
<text transform="translate(21.40,1087.20) rotate(-90)" font-size="8.95" text-anchor="middle">Step-size</text>
<rect x="186.20" y="1002.80" width="5.6" height="5.6" rx="1.7" fill="#fff" stroke="#d4d4d4" stroke-width="0.5"/>
<rect x="195.20" y="999.80" width="8.60" height="173.00" fill="url(#vg)" stroke="#111" stroke-width="0.45"/>
<g font-size="6.15">
<line x1="203.80" x2="206.20" y1="1146.41" y2="1146.41" stroke="#000" stroke-width="0.6"/>
<text x="208.50" y="1149.11">26</text>
<line x1="203.80" x2="206.20" y1="1117.09" y2="1117.09" stroke="#000" stroke-width="0.6"/>
<text x="208.50" y="1119.79">28</text>
<line x1="203.80" x2="206.20" y1="1087.77" y2="1087.77" stroke="#000" stroke-width="0.6"/>
<text x="208.50" y="1090.47">30</text>
<line x1="203.80" x2="206.20" y1="1058.44" y2="1058.44" stroke="#000" stroke-width="0.6"/>
<text x="208.50" y="1061.14">32</text>
<line x1="203.80" x2="206.20" y1="1029.12" y2="1029.12" stroke="#000" stroke-width="0.6"/>
<text x="208.50" y="1031.82">34</text>
<line x1="203.80" x2="206.20" y1="999.80" y2="999.80" stroke="#000" stroke-width="0.6"/>
<text x="208.50" y="1002.50">36</text>
</g>
<text x="115.23" y="1212.20" font-size="11.25" text-anchor="middle">28 nodes</text>
</g>
<g>
<rect x="271.85" y="999.80" width="18.34" height="18.30" fill="#481c76"/>
<rect x="289.19" y="999.80" width="18.34" height="18.30" fill="#74d16f"/>
<rect x="306.53" y="999.80" width="18.34" height="18.30" fill="#c2e835"/>
<rect x="323.86" y="999.80" width="18.34" height="18.30" fill="#b7e63c"/>
<rect x="341.20" y="999.80" width="18.34" height="18.30" fill="#94dd58"/>
<rect x="358.54" y="999.80" width="18.34" height="18.30" fill="#51ba83"/>
<rect x="375.88" y="999.80" width="18.34" height="18.30" fill="#44858d"/>
<rect x="393.21" y="999.80" width="17.34" height="18.30" fill="#44808d"/>
<rect x="271.85" y="1017.10" width="18.34" height="18.30" fill="#482880"/>
<rect x="289.19" y="1017.10" width="18.34" height="18.30" fill="#7fd667"/>
<rect x="306.53" y="1017.10" width="18.34" height="18.30" fill="#b3e53f"/>
<rect x="323.86" y="1017.10" width="18.34" height="18.30" fill="#bee737"/>
<rect x="341.20" y="1017.10" width="18.34" height="18.30" fill="#7fd667"/>
<rect x="358.54" y="1017.10" width="18.34" height="18.30" fill="#63c779"/>
<rect x="375.88" y="1017.10" width="18.34" height="18.30" fill="#446d8c"/>
<rect x="393.21" y="1017.10" width="17.34" height="18.30" fill="#447a8d"/>
<rect x="271.85" y="1034.40" width="18.34" height="18.30" fill="#463488"/>
<rect x="289.19" y="1034.40" width="18.34" height="18.30" fill="#77d26c"/>
<rect x="306.53" y="1034.40" width="18.34" height="18.30" fill="#9fe14f"/>
<rect x="323.86" y="1034.40" width="18.34" height="18.30" fill="#a4e24b"/>
<rect x="341.20" y="1034.40" width="18.34" height="18.30" fill="#7ad46a"/>
<rect x="358.54" y="1034.40" width="18.34" height="18.30" fill="#63c779"/>
<rect x="375.88" y="1034.40" width="18.34" height="18.30" fill="#46a68b"/>
<rect x="393.21" y="1034.40" width="17.34" height="18.30" fill="#44758c"/>
<rect x="271.85" y="1051.70" width="18.34" height="18.30" fill="#472f85"/>
<rect x="289.19" y="1051.70" width="18.34" height="18.30" fill="#89da60"/>
<rect x="306.53" y="1051.70" width="18.34" height="18.30" fill="#c2e835"/>
<rect x="323.86" y="1051.70" width="18.34" height="18.30" fill="#afe542"/>
<rect x="341.20" y="1051.70" width="18.34" height="18.30" fill="#94dd58"/>
<rect x="358.54" y="1051.70" width="18.34" height="18.30" fill="#6ece72"/>
<rect x="375.88" y="1051.70" width="18.34" height="18.30" fill="#71cf71"/>
<rect x="393.21" y="1051.70" width="17.34" height="18.30" fill="#449c8d"/>
<rect x="271.85" y="1069.00" width="18.34" height="18.30" fill="#443a8a"/>
<rect x="289.19" y="1069.00" width="18.34" height="18.30" fill="#74d16f"/>
<rect x="306.53" y="1069.00" width="18.34" height="18.30" fill="#bae739"/>
<rect x="323.86" y="1069.00" width="18.34" height="18.30" fill="#c7e932"/>
<rect x="341.20" y="1069.00" width="18.34" height="18.30" fill="#ace445"/>
<rect x="358.54" y="1069.00" width="18.34" height="18.30" fill="#98df55"/>
<rect x="375.88" y="1069.00" width="18.34" height="18.30" fill="#8ddb5d"/>
<rect x="393.21" y="1069.00" width="17.34" height="18.30" fill="#47a98a"/>
<rect x="271.85" y="1086.30" width="18.34" height="18.30" fill="#48257e"/>
<rect x="289.19" y="1086.30" width="18.34" height="18.30" fill="#6bcc74"/>
<rect x="306.53" y="1086.30" width="18.34" height="18.30" fill="#89da60"/>
<rect x="323.86" y="1086.30" width="18.34" height="18.30" fill="#bae739"/>
<rect x="341.20" y="1086.30" width="18.34" height="18.30" fill="#afe542"/>
<rect x="358.54" y="1086.30" width="18.34" height="18.30" fill="#a1e14e"/>
<rect x="375.88" y="1086.30" width="18.34" height="18.30" fill="#94dd58"/>
<rect x="393.21" y="1086.30" width="17.34" height="18.30" fill="#90dc5a"/>
<rect x="271.85" y="1103.60" width="18.34" height="18.30" fill="#472f85"/>
<rect x="289.19" y="1103.60" width="18.34" height="18.30" fill="#77d26c"/>
<rect x="306.53" y="1103.60" width="18.34" height="18.30" fill="#86d962"/>
<rect x="323.86" y="1103.60" width="18.34" height="18.30" fill="#a4e24b"/>
<rect x="341.20" y="1103.60" width="18.34" height="18.30" fill="#bee737"/>
<rect x="358.54" y="1103.60" width="18.34" height="18.30" fill="#c6e932"/>
<rect x="375.88" y="1103.60" width="34.68" height="18.30" fill="#ace445"/>
<rect x="271.85" y="1120.90" width="18.34" height="18.30" fill="#48257e"/>
<rect x="289.19" y="1120.90" width="35.68" height="18.30" fill="#74d16f"/>
<rect x="323.86" y="1120.90" width="18.34" height="18.30" fill="#94dd58"/>
<rect x="341.20" y="1120.90" width="18.34" height="18.30" fill="#a4e24b"/>
<rect x="358.54" y="1120.90" width="18.34" height="18.30" fill="#afe542"/>
<rect x="375.88" y="1120.90" width="18.34" height="18.30" fill="#c7e932"/>
<rect x="393.21" y="1120.90" width="17.34" height="18.30" fill="#afe542"/>
<rect x="271.85" y="1138.20" width="18.34" height="18.30" fill="#433c8b"/>
<rect x="289.19" y="1138.20" width="18.34" height="18.30" fill="#48ad89"/>
<rect x="306.53" y="1138.20" width="18.34" height="18.30" fill="#98df55"/>
<rect x="323.86" y="1138.20" width="18.34" height="18.30" fill="#7ad46a"/>
<rect x="341.20" y="1138.20" width="18.34" height="18.30" fill="#9fe14f"/>
<rect x="358.54" y="1138.20" width="18.34" height="18.30" fill="#c6e932"/>
<rect x="375.88" y="1138.20" width="18.34" height="18.30" fill="#c2e835"/>
<rect x="393.21" y="1138.20" width="17.34" height="18.30" fill="#b7e63c"/>
<rect x="271.85" y="1155.50" width="18.34" height="17.30" fill="#481c76"/>
<rect x="289.19" y="1155.50" width="18.34" height="17.30" fill="#63c779"/>
<rect x="306.53" y="1155.50" width="18.34" height="17.30" fill="#74d16f"/>
<rect x="323.86" y="1155.50" width="18.34" height="17.30" fill="#77d26c"/>
<rect x="341.20" y="1155.50" width="18.34" height="17.30" fill="#a8e348"/>
<rect x="358.54" y="1155.50" width="18.34" height="17.30" fill="#9be052"/>
<rect x="375.88" y="1155.50" width="18.34" height="17.30" fill="#afe542"/>
<rect x="393.21" y="1155.50" width="17.34" height="17.30" fill="#b7e63c"/>
<rect x="271.85" y="999.80" width="138.70" height="173.00" fill="none" stroke="#111" stroke-width="0.45"/>
<g font-size="6.2" fill="#111">
<text x="272.05" y="1008.25">27.6</text>
<text x="289.39" y="1008.25">36.4</text>
<text x="306.73" y="1008.25">38.7</text>
<text x="324.06" y="1008.25">38.4</text>
<text x="341.40" y="1008.25">37.4</text>
<text x="358.74" y="1008.25">35.0</text>
<text x="376.07" y="1008.25">32.4</text>
<text x="393.41" y="1008.25">32.1</text>
<text x="272.05" y="1025.55">28.1</text>
<text x="289.39" y="1025.55">36.8</text>
<text x="306.73" y="1025.55">38.3</text>
<text x="324.06" y="1025.55">38.6</text>
<text x="341.40" y="1025.55">36.8</text>
<text x="358.74" y="1025.55">35.8</text>
<text x="376.07" y="1025.55">31.2</text>
<text x="393.41" y="1025.55">31.8</text>
<text x="272.05" y="1042.85">28.6</text>
<text x="289.39" y="1042.85">36.5</text>
<text x="306.73" y="1042.85">37.7</text>
<text x="324.06" y="1042.85">37.9</text>
<text x="341.40" y="1042.85">36.6</text>
<text x="358.74" y="1042.85">35.8</text>
<text x="376.07" y="1042.85">34.0</text>
<text x="393.41" y="1042.85">31.6</text>
<text x="272.05" y="1060.15">28.4</text>
<text x="289.39" y="1060.15">37.1</text>
<text x="306.73" y="1060.15">38.7</text>
<text x="324.06" y="1060.15">38.2</text>
<text x="341.40" y="1060.15">37.4</text>
<text x="358.74" y="1060.15">36.2</text>
<text x="376.07" y="1060.15">36.3</text>
<text x="393.41" y="1060.15">33.5</text>
<text x="272.05" y="1077.45">28.9</text>
<text x="289.39" y="1077.45">36.4</text>
<text x="306.73" y="1077.45">38.5</text>
<text x="324.06" y="1077.45">38.9</text>
<text x="341.40" y="1077.45">38.1</text>
<text x="358.74" y="1077.45">37.5</text>
<text x="376.07" y="1077.45">37.2</text>
<text x="393.41" y="1077.45">34.1</text>
<text x="272.05" y="1094.75">28.0</text>
<text x="289.39" y="1094.75">36.1</text>
<text x="306.73" y="1094.75">37.1</text>
<text x="324.06" y="1094.75">38.5</text>
<text x="341.40" y="1094.75">38.2</text>
<text x="358.74" y="1094.75">37.8</text>
<text x="376.07" y="1094.75">37.4</text>
<text x="393.41" y="1094.75">37.3</text>
<text x="272.05" y="1112.05">28.4</text>
<text x="289.39" y="1112.05">36.5</text>
<text x="306.73" y="1112.05">37.0</text>
<text x="324.06" y="1112.05">37.9</text>
<text x="341.40" y="1112.05">38.6</text>
<text x="358.74" y="1112.05">38.8</text>
<text x="376.07" y="1112.05">38.1</text>
<text x="393.41" y="1112.05">38.1</text>
<text x="272.05" y="1129.35">28.0</text>
<text x="289.39" y="1129.35">36.4</text>
<text x="306.73" y="1129.35">36.4</text>
<text x="324.06" y="1129.35">37.4</text>
<text x="341.40" y="1129.35">37.9</text>
<text x="358.74" y="1129.35">38.2</text>
<text x="376.07" y="1129.35">38.9</text>
<text x="393.41" y="1129.35">38.2</text>
<text x="272.05" y="1146.65">29.0</text>
<text x="289.39" y="1146.65">34.3</text>
<text x="306.73" y="1146.65">37.5</text>
<text x="324.06" y="1146.65">36.6</text>
<text x="341.40" y="1146.65">37.7</text>
<text x="358.74" y="1146.65">38.8</text>
<text x="376.07" y="1146.65">38.7</text>
<text x="393.41" y="1146.65">38.4</text>
<text x="272.05" y="1163.95">27.6</text>
<text x="289.39" y="1163.95">35.8</text>
<text x="306.73" y="1163.95">36.4</text>
<text x="324.06" y="1163.95">36.5</text>
<text x="341.40" y="1163.95">38.0</text>
<text x="358.74" y="1163.95">37.6</text>
<text x="376.07" y="1163.95">38.2</text>
<text x="393.41" y="1163.95">38.4</text>
</g>
<g font-size="6.15" text-anchor="end">
<line x1="269.45" x2="271.85" y1="1008.60" y2="1008.60" stroke="#000" stroke-width="0.6"/>
<text x="266.95" y="1010.90">0.99</text>
<line x1="269.45" x2="271.85" y1="1025.90" y2="1025.90" stroke="#000" stroke-width="0.6"/>
<text x="266.95" y="1028.20">0.98</text>
<line x1="269.45" x2="271.85" y1="1043.20" y2="1043.20" stroke="#000" stroke-width="0.6"/>
<text x="266.95" y="1045.50">0.95</text>
<line x1="269.45" x2="271.85" y1="1060.50" y2="1060.50" stroke="#000" stroke-width="0.6"/>
<text x="266.95" y="1062.80">0.9</text>
<line x1="269.45" x2="271.85" y1="1077.80" y2="1077.80" stroke="#000" stroke-width="0.6"/>
<text x="266.95" y="1080.10">0.8</text>
<line x1="269.45" x2="271.85" y1="1095.10" y2="1095.10" stroke="#000" stroke-width="0.6"/>
<text x="266.95" y="1097.40">0.7</text>
<line x1="269.45" x2="271.85" y1="1112.40" y2="1112.40" stroke="#000" stroke-width="0.6"/>
<text x="266.95" y="1114.70">0.6</text>
<line x1="269.45" x2="271.85" y1="1129.70" y2="1129.70" stroke="#000" stroke-width="0.6"/>
<text x="266.95" y="1132.00">0.5</text>
<line x1="269.45" x2="271.85" y1="1147.00" y2="1147.00" stroke="#000" stroke-width="0.6"/>
<text x="266.95" y="1149.30">0.4</text>
<line x1="269.45" x2="271.85" y1="1164.30" y2="1164.30" stroke="#000" stroke-width="0.6"/>
<text x="266.95" y="1166.60">0.35</text>
</g>
<g font-size="6.15" text-anchor="middle">
<line x1="280.52" x2="280.52" y1="1172.80" y2="1175.20" stroke="#000" stroke-width="0.6"/>
<text x="280.42" y="1182.20">1</text>
<line x1="297.86" x2="297.86" y1="1172.80" y2="1175.20" stroke="#000" stroke-width="0.6"/>
<text x="297.76" y="1182.20">2</text>
<line x1="315.19" x2="315.19" y1="1172.80" y2="1175.20" stroke="#000" stroke-width="0.6"/>
<text x="315.09" y="1182.20">3</text>
<line x1="332.53" x2="332.53" y1="1172.80" y2="1175.20" stroke="#000" stroke-width="0.6"/>
<text x="332.43" y="1182.20">4</text>
<line x1="349.87" x2="349.87" y1="1172.80" y2="1175.20" stroke="#000" stroke-width="0.6"/>
<text x="349.77" y="1182.20">5</text>
<line x1="367.21" x2="367.21" y1="1172.80" y2="1175.20" stroke="#000" stroke-width="0.6"/>
<text x="367.11" y="1182.20">6</text>
<line x1="384.54" x2="384.54" y1="1172.80" y2="1175.20" stroke="#000" stroke-width="0.6"/>
<text x="384.44" y="1182.20">7</text>
<line x1="401.88" x2="401.88" y1="1172.80" y2="1175.20" stroke="#000" stroke-width="0.6"/>
<text x="401.78" y="1182.20">8</text>
</g>
<text x="341.20" y="995.70" font-size="9.1" text-anchor="middle">Optimal Cut=40</text>
<text x="341.10" y="1192.80" font-size="8.95" text-anchor="middle">#Layers</text>
<text transform="translate(248.45,1087.20) rotate(-90)" font-size="8.95" text-anchor="middle">Step-size</text>
<rect x="413.25" y="1002.80" width="5.6" height="5.6" rx="1.7" fill="#fff" stroke="#d4d4d4" stroke-width="0.5"/>
<rect x="422.25" y="999.80" width="8.60" height="173.00" fill="url(#vg)" stroke="#111" stroke-width="0.45"/>
<g font-size="6.15">
<line x1="430.85" x2="433.25" y1="1154.73" y2="1154.73" stroke="#000" stroke-width="0.6"/>
<text x="435.55" y="1157.43">28</text>
<line x1="430.85" x2="433.25" y1="1128.90" y2="1128.90" stroke="#000" stroke-width="0.6"/>
<text x="435.55" y="1131.60">30</text>
<line x1="430.85" x2="433.25" y1="1103.08" y2="1103.08" stroke="#000" stroke-width="0.6"/>
<text x="435.55" y="1105.78">32</text>
<line x1="430.85" x2="433.25" y1="1077.26" y2="1077.26" stroke="#000" stroke-width="0.6"/>
<text x="435.55" y="1079.96">34</text>
<line x1="430.85" x2="433.25" y1="1051.44" y2="1051.44" stroke="#000" stroke-width="0.6"/>
<text x="435.55" y="1054.14">36</text>
<line x1="430.85" x2="433.25" y1="1025.62" y2="1025.62" stroke="#000" stroke-width="0.6"/>
<text x="435.55" y="1028.32">38</text>
<line x1="430.85" x2="433.25" y1="999.80" y2="999.80" stroke="#000" stroke-width="0.6"/>
<text x="435.55" y="1002.50">40</text>
</g>
<text x="342.35" y="1212.20" font-size="11.25" text-anchor="middle">30 nodes</text>
</g>
<g>
<rect x="498.90" y="999.80" width="18.34" height="18.30" fill="#472f85"/>
<rect x="516.24" y="999.80" width="18.34" height="18.30" fill="#90dc5a"/>
<rect x="533.58" y="999.80" width="18.34" height="18.30" fill="#c6e932"/>
<rect x="550.91" y="999.80" width="18.34" height="18.30" fill="#bee737"/>
<rect x="568.25" y="999.80" width="18.34" height="18.30" fill="#7cd469"/>
<rect x="585.59" y="999.80" width="18.34" height="18.30" fill="#5cc37d"/>
<rect x="602.93" y="999.80" width="18.34" height="18.30" fill="#447c8d"/>
<rect x="620.26" y="999.80" width="17.34" height="18.30" fill="#44858d"/>
<rect x="498.90" y="1017.10" width="18.34" height="18.30" fill="#472a82"/>
<rect x="516.24" y="1017.10" width="18.34" height="18.30" fill="#7cd469"/>
<rect x="533.58" y="1017.10" width="18.34" height="18.30" fill="#c7e932"/>
<rect x="550.91" y="1017.10" width="18.34" height="18.30" fill="#b3e53f"/>
<rect x="568.25" y="1017.10" width="18.34" height="18.30" fill="#a1e14e"/>
<rect x="585.59" y="1017.10" width="18.34" height="18.30" fill="#6bcc74"/>
<rect x="602.93" y="1017.10" width="34.67" height="18.30" fill="#44988d"/>
<rect x="498.90" y="1034.40" width="18.34" height="18.30" fill="#44398a"/>
<rect x="516.24" y="1034.40" width="18.34" height="18.30" fill="#8ddb5d"/>
<rect x="533.58" y="1034.40" width="18.34" height="18.30" fill="#a4e24b"/>
<rect x="550.91" y="1034.40" width="18.34" height="18.30" fill="#bae739"/>
<rect x="568.25" y="1034.40" width="18.34" height="18.30" fill="#94dd58"/>
<rect x="585.59" y="1034.40" width="18.34" height="18.30" fill="#63c779"/>
<rect x="602.93" y="1034.40" width="18.34" height="18.30" fill="#47ab8a"/>
<rect x="620.26" y="1034.40" width="17.34" height="18.30" fill="#448c8d"/>
<rect x="498.90" y="1051.70" width="18.34" height="18.30" fill="#472d83"/>
<rect x="516.24" y="1051.70" width="18.34" height="18.30" fill="#89da60"/>
<rect x="533.58" y="1051.70" width="18.34" height="18.30" fill="#b3e53f"/>
<rect x="550.91" y="1051.70" width="18.34" height="18.30" fill="#bae739"/>
<rect x="568.25" y="1051.70" width="18.34" height="18.30" fill="#a1e14e"/>
<rect x="585.59" y="1051.70" width="18.34" height="18.30" fill="#7ad46a"/>
<rect x="602.93" y="1051.70" width="18.34" height="18.30" fill="#44928d"/>
<rect x="620.26" y="1051.70" width="17.34" height="18.30" fill="#447a8d"/>
<rect x="498.90" y="1069.00" width="18.34" height="18.30" fill="#453689"/>
<rect x="516.24" y="1069.00" width="18.34" height="18.30" fill="#90dc5a"/>
<rect x="533.58" y="1069.00" width="18.34" height="18.30" fill="#cbe930"/>
<rect x="550.91" y="1069.00" width="18.34" height="18.30" fill="#b3e53f"/>
<rect x="568.25" y="1069.00" width="18.34" height="18.30" fill="#afe542"/>
<rect x="585.59" y="1069.00" width="18.34" height="18.30" fill="#98df55"/>
<rect x="602.93" y="1069.00" width="18.34" height="18.30" fill="#7fd667"/>
<rect x="620.26" y="1069.00" width="17.34" height="18.30" fill="#48ad89"/>
<rect x="498.90" y="1086.30" width="18.34" height="18.30" fill="#481c76"/>
<rect x="516.24" y="1086.30" width="18.34" height="18.30" fill="#74d16f"/>
<rect x="533.58" y="1086.30" width="18.34" height="18.30" fill="#ace445"/>
<rect x="550.91" y="1086.30" width="18.34" height="18.30" fill="#b3e53f"/>
<rect x="568.25" y="1086.30" width="18.34" height="18.30" fill="#deeb30"/>
<rect x="585.59" y="1086.30" width="18.34" height="18.30" fill="#b7e63c"/>
<rect x="602.93" y="1086.30" width="18.34" height="18.30" fill="#98df55"/>
<rect x="620.26" y="1086.30" width="17.34" height="18.30" fill="#7fd667"/>
<rect x="498.90" y="1103.60" width="18.34" height="18.30" fill="#482880"/>
<rect x="516.24" y="1103.60" width="18.34" height="18.30" fill="#6bcc74"/>
<rect x="533.58" y="1103.60" width="18.34" height="18.30" fill="#ace445"/>
<rect x="550.91" y="1103.60" width="18.34" height="18.30" fill="#c2e835"/>
<rect x="568.25" y="1103.60" width="18.34" height="18.30" fill="#b7e63c"/>
<rect x="585.59" y="1103.60" width="18.34" height="18.30" fill="#bae739"/>
<rect x="602.93" y="1103.60" width="18.34" height="18.30" fill="#c2e835"/>
<rect x="620.26" y="1103.60" width="17.34" height="18.30" fill="#afe542"/>
<rect x="498.90" y="1120.90" width="18.34" height="18.30" fill="#472d83"/>
<rect x="516.24" y="1120.90" width="18.34" height="18.30" fill="#5dc47d"/>
<rect x="533.58" y="1120.90" width="35.67" height="18.30" fill="#a8e348"/>
<rect x="568.25" y="1120.90" width="35.68" height="18.30" fill="#ace445"/>
<rect x="602.93" y="1120.90" width="18.34" height="18.30" fill="#c7e932"/>
<rect x="620.26" y="1120.90" width="17.34" height="18.30" fill="#cfea2f"/>
<rect x="498.90" y="1138.20" width="18.34" height="18.30" fill="#472a82"/>
<rect x="516.24" y="1138.20" width="18.34" height="18.30" fill="#4eb685"/>
<rect x="533.58" y="1138.20" width="18.34" height="18.30" fill="#7ad46a"/>
<rect x="550.91" y="1138.20" width="18.34" height="18.30" fill="#89da60"/>
<rect x="568.25" y="1138.20" width="18.34" height="18.30" fill="#a4e24b"/>
<rect x="585.59" y="1138.20" width="18.34" height="18.30" fill="#c6e932"/>
<rect x="602.93" y="1138.20" width="18.34" height="18.30" fill="#bee737"/>
<rect x="620.26" y="1138.20" width="17.34" height="18.30" fill="#c2e835"/>
<rect x="498.90" y="1155.50" width="18.34" height="17.30" fill="#482079"/>
<rect x="516.24" y="1155.50" width="18.34" height="17.30" fill="#86d962"/>
<rect x="533.58" y="1155.50" width="18.34" height="17.30" fill="#71cf71"/>
<rect x="550.91" y="1155.50" width="18.34" height="17.30" fill="#98df55"/>
<rect x="568.25" y="1155.50" width="18.34" height="17.30" fill="#9fe14f"/>
<rect x="585.59" y="1155.50" width="18.34" height="17.30" fill="#98df55"/>
<rect x="602.93" y="1155.50" width="18.34" height="17.30" fill="#cbe930"/>
<rect x="620.26" y="1155.50" width="17.34" height="17.30" fill="#bae739"/>
<rect x="498.90" y="999.80" width="138.70" height="173.00" fill="none" stroke="#111" stroke-width="0.45"/>
<g font-size="6.2" fill="#111">
<text x="499.10" y="1008.25">30.4</text>
<text x="516.44" y="1008.25">39.3</text>
<text x="533.78" y="1008.25">40.8</text>
<text x="551.11" y="1008.25">40.6</text>
<text x="568.45" y="1008.25">38.7</text>
<text x="585.79" y="1008.25">37.5</text>
<text x="603.13" y="1008.25">33.9</text>
<text x="620.46" y="1008.25">34.4</text>
<text x="499.10" y="1025.55">30.2</text>
<text x="516.44" y="1025.55">38.7</text>
<text x="533.78" y="1025.55">40.9</text>
<text x="551.11" y="1025.55">40.3</text>
<text x="568.45" y="1025.55">39.8</text>
<text x="585.79" y="1025.55">38.1</text>
<text x="603.13" y="1025.55">35.3</text>
<text x="620.46" y="1025.55">35.3</text>
<text x="499.10" y="1042.85">30.8</text>
<text x="516.44" y="1042.85">39.2</text>
<text x="533.78" y="1042.85">39.9</text>
<text x="551.11" y="1042.85">40.5</text>
<text x="568.45" y="1042.85">39.4</text>
<text x="585.79" y="1042.85">37.8</text>
<text x="603.13" y="1042.85">36.2</text>
<text x="620.46" y="1042.85">34.7</text>
<text x="499.10" y="1060.15">30.3</text>
<text x="516.44" y="1060.15">39.1</text>
<text x="533.78" y="1060.15">40.3</text>
<text x="551.11" y="1060.15">40.5</text>
<text x="568.45" y="1060.15">39.8</text>
<text x="585.79" y="1060.15">38.6</text>
<text x="603.13" y="1060.15">35.0</text>
<text x="620.46" y="1060.15">33.8</text>
<text x="499.10" y="1077.45">30.7</text>
<text x="516.44" y="1077.45">39.3</text>
<text x="533.78" y="1077.45">41.0</text>
<text x="551.11" y="1077.45">40.3</text>
<text x="568.45" y="1077.45">40.2</text>
<text x="585.79" y="1077.45">39.5</text>
<text x="603.13" y="1077.45">38.8</text>
<text x="620.46" y="1077.45">36.3</text>
<text x="499.10" y="1094.75">29.6</text>
<text x="516.44" y="1094.75">38.4</text>
<text x="533.78" y="1094.75">40.1</text>
<text x="551.11" y="1094.75">40.3</text>
<text x="568.45" y="1094.75">41.5</text>
<text x="585.79" y="1094.75">40.4</text>
<text x="603.13" y="1094.75">39.5</text>
<text x="620.46" y="1094.75">38.8</text>
<text x="499.10" y="1112.05">30.1</text>
<text x="516.44" y="1112.05">38.1</text>
<text x="533.78" y="1112.05">40.1</text>
<text x="551.11" y="1112.05">40.7</text>
<text x="568.45" y="1112.05">40.4</text>
<text x="585.79" y="1112.05">40.5</text>
<text x="603.13" y="1112.05">40.7</text>
<text x="620.46" y="1112.05">40.2</text>
<text x="499.10" y="1129.35">30.3</text>
<text x="516.44" y="1129.35">37.6</text>
<text x="533.78" y="1129.35">40.0</text>
<text x="551.11" y="1129.35">40.0</text>
<text x="568.45" y="1129.35">40.1</text>
<text x="585.79" y="1129.35">40.1</text>
<text x="603.13" y="1129.35">40.9</text>
<text x="620.46" y="1129.35">41.1</text>
<text x="499.10" y="1146.65">30.2</text>
<text x="516.44" y="1146.65">36.8</text>
<text x="533.78" y="1146.65">38.6</text>
<text x="551.11" y="1146.65">39.1</text>
<text x="568.45" y="1146.65">39.9</text>
<text x="585.79" y="1146.65">40.8</text>
<text x="603.13" y="1146.65">40.6</text>
<text x="620.46" y="1146.65">40.7</text>
<text x="499.10" y="1163.95">29.8</text>
<text x="516.44" y="1163.95">39.0</text>
<text x="533.78" y="1163.95">38.3</text>
<text x="551.11" y="1163.95">39.5</text>
<text x="568.45" y="1163.95">39.7</text>
<text x="585.79" y="1163.95">39.5</text>
<text x="603.13" y="1163.95">41.0</text>
<text x="620.46" y="1163.95">40.5</text>
</g>
<g font-size="6.15" text-anchor="end">
<line x1="496.50" x2="498.90" y1="1008.60" y2="1008.60" stroke="#000" stroke-width="0.6"/>
<text x="494.00" y="1010.90">0.99</text>
<line x1="496.50" x2="498.90" y1="1025.90" y2="1025.90" stroke="#000" stroke-width="0.6"/>
<text x="494.00" y="1028.20">0.98</text>
<line x1="496.50" x2="498.90" y1="1043.20" y2="1043.20" stroke="#000" stroke-width="0.6"/>
<text x="494.00" y="1045.50">0.95</text>
<line x1="496.50" x2="498.90" y1="1060.50" y2="1060.50" stroke="#000" stroke-width="0.6"/>
<text x="494.00" y="1062.80">0.9</text>
<line x1="496.50" x2="498.90" y1="1077.80" y2="1077.80" stroke="#000" stroke-width="0.6"/>
<text x="494.00" y="1080.10">0.8</text>
<line x1="496.50" x2="498.90" y1="1095.10" y2="1095.10" stroke="#000" stroke-width="0.6"/>
<text x="494.00" y="1097.40">0.7</text>
<line x1="496.50" x2="498.90" y1="1112.40" y2="1112.40" stroke="#000" stroke-width="0.6"/>
<text x="494.00" y="1114.70">0.6</text>
<line x1="496.50" x2="498.90" y1="1129.70" y2="1129.70" stroke="#000" stroke-width="0.6"/>
<text x="494.00" y="1132.00">0.5</text>
<line x1="496.50" x2="498.90" y1="1147.00" y2="1147.00" stroke="#000" stroke-width="0.6"/>
<text x="494.00" y="1149.30">0.4</text>
<line x1="496.50" x2="498.90" y1="1164.30" y2="1164.30" stroke="#000" stroke-width="0.6"/>
<text x="494.00" y="1166.60">0.35</text>
</g>
<g font-size="6.15" text-anchor="middle">
<line x1="507.57" x2="507.57" y1="1172.80" y2="1175.20" stroke="#000" stroke-width="0.6"/>
<text x="507.47" y="1182.20">1</text>
<line x1="524.91" x2="524.91" y1="1172.80" y2="1175.20" stroke="#000" stroke-width="0.6"/>
<text x="524.81" y="1182.20">2</text>
<line x1="542.24" x2="542.24" y1="1172.80" y2="1175.20" stroke="#000" stroke-width="0.6"/>
<text x="542.14" y="1182.20">3</text>
<line x1="559.58" x2="559.58" y1="1172.80" y2="1175.20" stroke="#000" stroke-width="0.6"/>
<text x="559.48" y="1182.20">4</text>
<line x1="576.92" x2="576.92" y1="1172.80" y2="1175.20" stroke="#000" stroke-width="0.6"/>
<text x="576.82" y="1182.20">5</text>
<line x1="594.26" x2="594.26" y1="1172.80" y2="1175.20" stroke="#000" stroke-width="0.6"/>
<text x="594.16" y="1182.20">6</text>
<line x1="611.59" x2="611.59" y1="1172.80" y2="1175.20" stroke="#000" stroke-width="0.6"/>
<text x="611.49" y="1182.20">7</text>
<line x1="628.93" x2="628.93" y1="1172.80" y2="1175.20" stroke="#000" stroke-width="0.6"/>
<text x="628.83" y="1182.20">8</text>
</g>
<text x="568.25" y="995.70" font-size="9.1" text-anchor="middle">Optimal Cut=42</text>
<text x="568.15" y="1192.80" font-size="8.95" text-anchor="middle">#Layers</text>
<text transform="translate(475.50,1087.20) rotate(-90)" font-size="8.95" text-anchor="middle">Step-size</text>
<rect x="640.30" y="1002.80" width="5.6" height="5.6" rx="1.7" fill="#fff" stroke="#d4d4d4" stroke-width="0.5"/>
<rect x="649.30" y="999.80" width="8.60" height="173.00" fill="url(#vg)" stroke="#111" stroke-width="0.45"/>
<g font-size="6.15">
<line x1="657.90" x2="660.30" y1="1154.73" y2="1154.73" stroke="#000" stroke-width="0.6"/>
<text x="662.60" y="1157.43">30</text>
<line x1="657.90" x2="660.30" y1="1128.90" y2="1128.90" stroke="#000" stroke-width="0.6"/>
<text x="662.60" y="1131.60">32</text>
<line x1="657.90" x2="660.30" y1="1103.08" y2="1103.08" stroke="#000" stroke-width="0.6"/>
<text x="662.60" y="1105.78">34</text>
<line x1="657.90" x2="660.30" y1="1077.26" y2="1077.26" stroke="#000" stroke-width="0.6"/>
<text x="662.60" y="1079.96">36</text>
<line x1="657.90" x2="660.30" y1="1051.44" y2="1051.44" stroke="#000" stroke-width="0.6"/>
<text x="662.60" y="1054.14">38</text>
<line x1="657.90" x2="660.30" y1="1025.62" y2="1025.62" stroke="#000" stroke-width="0.6"/>
<text x="662.60" y="1028.32">40</text>
<line x1="657.90" x2="660.30" y1="999.80" y2="999.80" stroke="#000" stroke-width="0.6"/>
<text x="662.60" y="1002.50">42</text>
</g>
<text x="569.23" y="1212.20" font-size="11.25" text-anchor="middle">32 nodes</text>
</g>
<rect x="0.95" y="0.85" width="1.3" height="1222.30" fill="#1c1c1c"/>
<rect x="228.40" y="0.85" width="1.3" height="1222.30" fill="#1c1c1c"/>
<rect x="455.20" y="0.85" width="1.3" height="1222.30" fill="#1c1c1c"/>
<rect x="682.15" y="0.85" width="1.3" height="1222.30" fill="#1c1c1c"/>
<rect x="0.95" y="0.85" width="682.50" height="1.3" fill="#1c1c1c"/>
<rect x="0.95" y="244.85" width="682.50" height="1.3" fill="#1c1c1c"/>
<rect x="0.95" y="489.35" width="682.50" height="1.3" fill="#1c1c1c"/>
<rect x="0.95" y="733.75" width="682.50" height="1.3" fill="#1c1c1c"/>
<rect x="0.95" y="978.15" width="682.50" height="1.3" fill="#1c1c1c"/>
<rect x="0.95" y="1221.85" width="682.50" height="1.3" fill="#1c1c1c"/>
</svg>
</body></html>
